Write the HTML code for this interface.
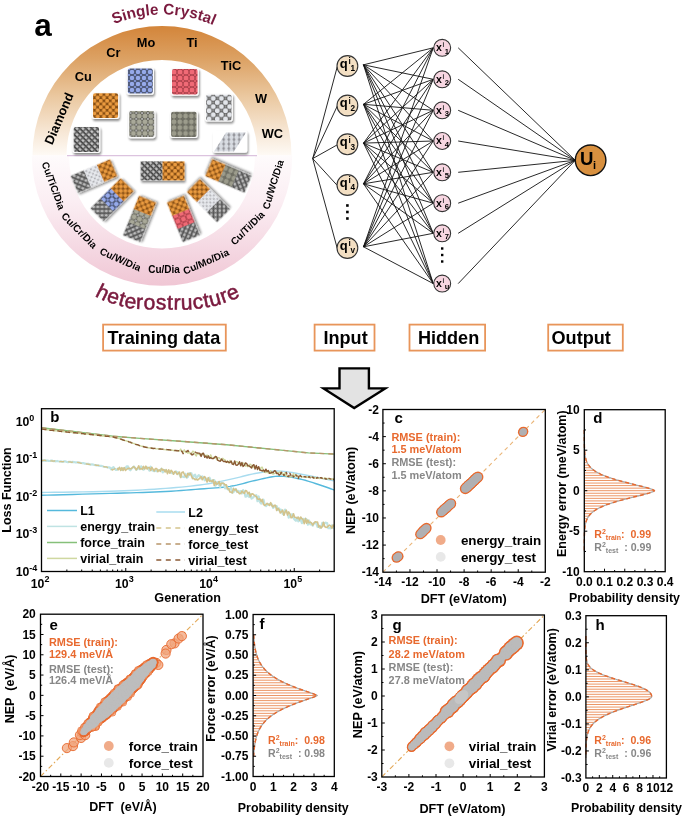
<!DOCTYPE html><html><head><meta charset="utf-8"><style>html,body{margin:0;padding:0;background:#fff;}svg{display:block;font-family:"Liberation Sans", sans-serif;filter:blur(0.35px);}</style></head><body>
<svg width="685" height="820" viewBox="0 0 685 820">
<rect width="685" height="820" fill="#fff"/>
<defs>
<linearGradient id="gup" gradientUnits="userSpaceOnUse" x1="0" y1="26" x2="0" y2="155.5"><stop offset="0" stop-color="#d3853a"/><stop offset="0.25" stop-color="#dca163"/><stop offset="0.55" stop-color="#ebc9a1"/><stop offset="0.8" stop-color="#f6e5d2"/><stop offset="1" stop-color="#fefaf5"/></linearGradient>
<linearGradient id="gdn" gradientUnits="userSpaceOnUse" x1="0" y1="155.5" x2="0" y2="286"><stop offset="0" stop-color="#fefbfc"/><stop offset="0.35" stop-color="#fbeef3"/><stop offset="0.7" stop-color="#f5d9e3"/><stop offset="1" stop-color="#f0c6d4"/></linearGradient>
<filter id="shd" x="-30%" y="-30%" width="160%" height="160%"><feGaussianBlur in="SourceAlpha" stdDeviation="1.2"/><feOffset dx="1" dy="1.5" result="b"/><feComponentTransfer><feFuncA type="linear" slope="0.45"/></feComponentTransfer><feMerge><feMergeNode/><feMergeNode in="SourceGraphic"/></feMerge></filter>
<filter id="blur05"><feGaussianBlur stdDeviation="0.35"/></filter>
<pattern id="p_cu" patternUnits="userSpaceOnUse" width="6.3" height="6.3">
<rect width="6.3" height="6.3" fill="#7a4410"/>
<circle cx="0" cy="0" r="2.0" fill="#eb9b3f"/>
<circle cx="6.3" cy="0" r="2.0" fill="#eb9b3f"/>
<circle cx="0" cy="6.3" r="2.0" fill="#eb9b3f"/>
<circle cx="6.3" cy="6.3" r="2.0" fill="#eb9b3f"/>
<circle cx="3.15" cy="3.15" r="2.0" fill="#eb9b3f"/>
<circle cx="3.15" cy="0" r="0.9" fill="#8a5010"/><circle cx="3.15" cy="6.3" r="0.9" fill="#8a5010"/><circle cx="0" cy="3.15" r="0.9" fill="#8a5010"/><circle cx="6.3" cy="3.15" r="0.9" fill="#8a5010"/>
</pattern>
<pattern id="p_mo" patternUnits="userSpaceOnUse" width="6.0" height="6.0">
<rect width="6.0" height="6.0" fill="#48526e"/>
<circle cx="0" cy="0" r="2.3" fill="#96aaea"/>
<circle cx="6.0" cy="0" r="2.3" fill="#96aaea"/>
<circle cx="0" cy="6.0" r="2.3" fill="#96aaea"/>
<circle cx="6.0" cy="6.0" r="2.3" fill="#96aaea"/>
<circle cx="3.0" cy="3.0" r="1.35" fill="#7d90d0"/>
</pattern>
<pattern id="p_ti" patternUnits="userSpaceOnUse" width="6.0" height="6.0">
<rect width="6.0" height="6.0" fill="#9a3640"/>
<circle cx="0" cy="0" r="2.5" fill="#f06a76"/>
<circle cx="6.0" cy="0" r="2.5" fill="#f06a76"/>
<circle cx="0" cy="6.0" r="2.5" fill="#f06a76"/>
<circle cx="6.0" cy="6.0" r="2.5" fill="#f06a76"/>
<circle cx="3.0" cy="3.0" r="1.45" fill="#dc5a66"/>
</pattern>
<pattern id="p_ol" patternUnits="userSpaceOnUse" width="5.8" height="5.8">
<rect width="5.8" height="5.8" fill="#4a4a44"/>
<circle cx="0" cy="0" r="2.6" fill="#a9a999"/>
<circle cx="5.8" cy="0" r="2.6" fill="#a9a999"/>
<circle cx="0" cy="5.8" r="2.6" fill="#a9a999"/>
<circle cx="5.8" cy="5.8" r="2.6" fill="#a9a999"/>
<circle cx="2.9" cy="2.9" r="0.9" fill="#d8d8d8"/>
</pattern>
<pattern id="p_w" patternUnits="userSpaceOnUse" width="5.8" height="5.8">
<rect width="5.8" height="5.8" fill="#5a5a50"/>
<circle cx="0" cy="0" r="2.55" fill="#9c9c8c"/>
<circle cx="5.8" cy="0" r="2.55" fill="#9c9c8c"/>
<circle cx="0" cy="5.8" r="2.55" fill="#9c9c8c"/>
<circle cx="5.8" cy="5.8" r="2.55" fill="#9c9c8c"/>
<circle cx="2.9" cy="2.9" r="1.1" fill="#707066"/>
</pattern>
<pattern id="p_tl" patternUnits="userSpaceOnUse" width="5.0" height="5.0">
<rect width="5.0" height="5.0" fill="#8e8e94"/>
<circle cx="0" cy="0" r="1.9" fill="#e6e8ec"/>
<circle cx="5.0" cy="0" r="1.9" fill="#e6e8ec"/>
<circle cx="0" cy="5.0" r="1.9" fill="#e6e8ec"/>
<circle cx="5.0" cy="5.0" r="1.9" fill="#e6e8ec"/>
<circle cx="2.5" cy="2.5" r="1.9" fill="#e6e8ec"/>
<circle cx="2.5" cy="0" r="0.7" fill="#b0b0b4"/><circle cx="2.5" cy="5.0" r="0.7" fill="#b0b0b4"/><circle cx="0" cy="2.5" r="0.7" fill="#b0b0b4"/><circle cx="5.0" cy="2.5" r="0.7" fill="#b0b0b4"/>
</pattern>
<pattern id="p_tic" patternUnits="userSpaceOnUse" width="8.2" height="8.2">
<rect width="8.2" height="8.2" fill="#5e5e5e"/>
<circle cx="0" cy="0" r="2.45" fill="#e2e5ea"/>
<circle cx="8.2" cy="0" r="2.45" fill="#e2e5ea"/>
<circle cx="0" cy="8.2" r="2.45" fill="#e2e5ea"/>
<circle cx="8.2" cy="8.2" r="2.45" fill="#e2e5ea"/>
<circle cx="4.1" cy="4.1" r="2.45" fill="#e2e5ea"/>
<circle cx="4.1" cy="0" r="0.8" fill="#9a9a9a"/><circle cx="4.1" cy="8.2" r="0.8" fill="#9a9a9a"/><circle cx="0" cy="4.1" r="0.8" fill="#9a9a9a"/><circle cx="8.2" cy="4.1" r="0.8" fill="#9a9a9a"/>
</pattern>
<pattern id="p_dia" patternUnits="userSpaceOnUse" width="4.2" height="4.2" patternTransform="rotate(45)"><rect width="4.2" height="4.2" fill="#a6a6a6"/><rect width="4.2" height="1.5" fill="#454545"/><rect width="1.1" height="4.2" fill="#5a5a5a"/><circle cx="2.6" cy="2.9" r="0.75" fill="#d8d8d8"/></pattern>
<pattern id="p_wc" patternUnits="userSpaceOnUse" width="5.2" height="4.5"><rect width="5.2" height="4.5" fill="#909096"/><circle cx="2.6" cy="2.25" r="2.3" fill="#d8dce2"/></pattern>
</defs>
<path d="M32.5,155.5 A129.5,129.5 0 0 1 291.5,155.5 L257.5,155.5 A95.5,95.5 0 0 0 66.5,155.5 Z" fill="url(#gup)"/>
<path d="M31.80000000000001,155.5 A130.2,130.2 0 0 0 292.2,155.5 L255.0,155.5 A93.0,93.0 0 0 1 69.0,155.5 Z" fill="url(#gdn)"/>
<line x1="67" y1="155.6" x2="257" y2="155.6" stroke="#dcc3df" stroke-width="1.4" />
<g filter="url(#shd)"><rect x="91.8" y="92.1" width="27.5" height="27" rx="2.8" fill="#fbfbfb"/></g>
<rect x="93" y="93.3" width="25.1" height="24.6" rx="1.9999999999999998" fill="url(#p_cu)"/>
<g filter="url(#shd)"><rect x="126.6" y="67.2" width="27.4" height="27.5" rx="2.8" fill="#fbfbfb"/></g>
<rect x="127.8" y="68.4" width="25" height="25.1" rx="1.9999999999999998" fill="url(#p_mo)"/>
<g filter="url(#shd)"><rect x="72.5" y="125.9" width="27.8" height="27.2" rx="2.8" fill="#fbfbfb"/></g>
<rect x="73.7" y="127.1" width="25.4" height="24.8" rx="1.9999999999999998" fill="url(#p_dia)"/>
<g filter="url(#shd)"><rect x="128" y="109.9" width="27.5" height="28.4" rx="2.8" fill="#fbfbfb"/></g>
<rect x="129.2" y="111.1" width="25.1" height="26" rx="1.9999999999999998" fill="url(#p_ol)"/>
<g filter="url(#shd)"><rect x="170.8" y="67.8" width="28" height="27.9" rx="2.8" fill="#fbfbfb"/></g>
<rect x="172" y="69" width="25.6" height="25.5" rx="1.9999999999999998" fill="url(#p_ti)"/>
<g filter="url(#shd)"><rect x="169.9" y="110.6" width="27.9" height="27.5" rx="2.8" fill="#fbfbfb"/></g>
<rect x="171.1" y="111.8" width="25.5" height="25.1" rx="1.9999999999999998" fill="url(#p_w)"/>
<g filter="url(#shd)"><rect x="204.9" y="93.5" width="28" height="28.1" rx="2.8" fill="#fbfbfb"/></g>
<rect x="206.1" y="94.7" width="25.6" height="25.7" rx="1.9999999999999998" fill="url(#p_tic)"/>
<g filter="url(#shd)"><rect x="212.8" y="130.6" width="34.5" height="22.2" rx="2.5" fill="#ffffff"/></g>
<path d="M226,132.5 L246,132.5 L234,151.5 L214,151.5 Z" fill="url(#p_wc)"/>
<g transform="translate(93.9 176.1) rotate(-23)" filter="url(#shd)">
<rect x="-21.25" y="-9.25" width="42.5" height="18.5" fill="#fafafa"/>
<rect x="-21.25" y="-9.25" width="14.37" height="18.5" fill="url(#p_dia)"/>
<rect x="-7.08" y="-9.25" width="14.37" height="18.5" fill="url(#p_tl)"/>
<rect x="7.08" y="-9.25" width="14.37" height="18.5" fill="url(#p_cu)"/>
</g>
<g transform="translate(112 199.8) rotate(-45)" filter="url(#shd)">
<rect x="-21.25" y="-9.25" width="42.5" height="18.5" fill="#fafafa"/>
<rect x="-21.25" y="-9.25" width="14.37" height="18.5" fill="url(#p_dia)"/>
<rect x="-7.08" y="-9.25" width="14.37" height="18.5" fill="url(#p_mo)"/>
<rect x="7.08" y="-9.25" width="14.37" height="18.5" fill="url(#p_cu)"/>
</g>
<g transform="translate(139.5 219) rotate(-68)" filter="url(#shd)">
<rect x="-21.25" y="-9.25" width="42.5" height="18.5" fill="#fafafa"/>
<rect x="-21.25" y="-9.25" width="14.37" height="18.5" fill="url(#p_dia)"/>
<rect x="-7.08" y="-9.25" width="14.37" height="18.5" fill="url(#p_ol)"/>
<rect x="7.08" y="-9.25" width="14.37" height="18.5" fill="url(#p_cu)"/>
</g>
<g transform="translate(162.5 170.9) rotate(0)" filter="url(#shd)">
<rect x="-21.8" y="-9.5" width="43.6" height="19" fill="#fafafa"/>
<rect x="-21.8" y="-9.5" width="22" height="19" fill="url(#p_dia)"/>
<rect x="0" y="-9.5" width="22" height="19" fill="url(#p_cu)"/>
</g>
<g transform="translate(183.4 219) rotate(-112)" filter="url(#shd)">
<rect x="-21.25" y="-9.25" width="42.5" height="18.5" fill="#fafafa"/>
<rect x="-21.25" y="-9.25" width="14.37" height="18.5" fill="url(#p_dia)"/>
<rect x="-7.08" y="-9.25" width="14.37" height="18.5" fill="url(#p_ti)"/>
<rect x="7.08" y="-9.25" width="14.37" height="18.5" fill="url(#p_cu)"/>
</g>
<g transform="translate(208.5 200.7) rotate(-135)" filter="url(#shd)">
<rect x="-21.25" y="-9.25" width="42.5" height="18.5" fill="#fafafa"/>
<rect x="-21.25" y="-9.25" width="14.37" height="18.5" fill="url(#p_dia)"/>
<rect x="-7.08" y="-9.25" width="14.37" height="18.5" fill="url(#p_tl)"/>
<rect x="7.08" y="-9.25" width="14.37" height="18.5" fill="url(#p_cu)"/>
</g>
<g transform="translate(228.5 176) rotate(-157)" filter="url(#shd)">
<rect x="-21.25" y="-9.25" width="42.5" height="18.5" fill="#fafafa"/>
<rect x="-21.25" y="-9.25" width="14.37" height="18.5" fill="url(#p_dia)"/>
<rect x="-7.08" y="-9.25" width="14.37" height="18.5" fill="url(#p_w)"/>
<rect x="7.08" y="-9.25" width="14.37" height="18.5" fill="url(#p_cu)"/>
</g>
<text x="83.4" y="80.88" font-size="12.8" font-weight="bold" text-anchor="middle" fill="#000" >Cu</text>
<text x="113.3" y="56.68" font-size="12.8" font-weight="bold" text-anchor="middle" fill="#000" >Cr</text>
<text x="146" y="47.48" font-size="12.8" font-weight="bold" text-anchor="middle" fill="#000" >Mo</text>
<text x="192" y="47.48" font-size="12.8" font-weight="bold" text-anchor="middle" fill="#000" >Ti</text>
<text x="231" y="69.98" font-size="12.8" font-weight="bold" text-anchor="middle" fill="#000" >TiC</text>
<text x="261" y="103.48" font-size="12.8" font-weight="bold" text-anchor="middle" fill="#000" >W</text>
<text x="272.3" y="138.48" font-size="12.8" font-weight="bold" text-anchor="middle" fill="#000" >WC</text>
<text transform="translate(59 118.5) rotate(-67)" font-size="12.8" font-weight="bold" text-anchor="middle" dy="4.4">Diamond</text>
<text transform="translate(53.4 185.6) rotate(70)" font-size="10" font-weight="bold" text-anchor="middle" dy="3.5">Cu/TiC/Dia</text>
<text transform="translate(79.3 230.5) rotate(45)" font-size="10" font-weight="bold" text-anchor="middle" dy="3.5">Cu/Cr/Dia</text>
<text transform="translate(120.4 259.5) rotate(24)" font-size="10" font-weight="bold" text-anchor="middle" dy="3.5">Cu/W/Dia</text>
<text transform="translate(164 269.5) rotate(0)" font-size="10" font-weight="bold" text-anchor="middle" dy="3.5">Cu/Dia</text>
<text transform="translate(206 261.6) rotate(-24)" font-size="10" font-weight="bold" text-anchor="middle" dy="3.5">Cu/Mo/Dia</text>
<text transform="translate(247.5 228) rotate(-45)" font-size="10" font-weight="bold" text-anchor="middle" dy="3.5">Cu/Ti/Dia</text>
<text transform="translate(273 184.5) rotate(-73)" font-size="10" font-weight="bold" text-anchor="middle" dy="3.5">Cu/WC/Dia</text>
<path id="arcTop" d="M37.0,140.0 A125.5,125.5 0 0 1 288.0,140.0" fill="none"/>
<text font-size="15.3" font-weight="bold" fill="#7a1a3e"><textPath href="#arcTop" startOffset="50.36%" text-anchor="middle">Single Crystal</textPath></text>
<path id="arcBot" d="M80.00,283.50 L80.47,283.92 L81.07,284.46 L81.77,285.09 L82.56,285.81 L83.41,286.57 L84.32,287.38 L85.25,288.19 L86.18,289.00 L87.11,289.78 L88.00,290.50 L88.88,291.20 L89.77,291.91 L90.69,292.62 L91.61,293.34 L92.55,294.05 L93.50,294.75 L94.46,295.43 L95.43,296.08 L96.41,296.71 L97.40,297.30 L98.37,297.85 L99.33,298.36 L100.27,298.83 L101.22,299.28 L102.19,299.72 L103.20,300.14 L104.24,300.57 L105.35,301.00 L106.53,301.44 L107.80,301.90 L109.20,302.39 L110.75,302.91 L112.41,303.45 L114.13,303.99 L115.88,304.53 L117.62,305.06 L119.32,305.56 L120.92,306.02 L122.39,306.44 L123.70,306.80 L124.81,307.10 L125.75,307.36 L126.56,307.58 L127.28,307.76 L127.96,307.91 L128.62,308.05 L129.32,308.16 L130.08,308.28 L130.97,308.38 L132.00,308.50 L133.19,308.61 L134.51,308.71 L135.92,308.80 L137.39,308.88 L138.91,308.94 L140.45,309.00 L141.97,309.06 L143.45,309.11 L144.87,309.15 L146.20,309.20 L147.43,309.24 L148.57,309.27 L149.65,309.30 L150.69,309.32 L151.72,309.33 L152.77,309.34 L153.84,309.36 L154.97,309.37 L156.18,309.38 L157.50,309.40 L158.95,309.42 L160.54,309.44 L162.22,309.47 L163.96,309.49 L165.72,309.51 L167.48,309.53 L169.19,309.55 L170.82,309.57 L172.34,309.59 L173.70,309.60 L174.89,309.61 L175.92,309.63 L176.84,309.64 L177.67,309.65 L178.46,309.66 L179.24,309.67 L180.05,309.67 L180.92,309.65 L181.89,309.63 L183.00,309.60 L184.23,309.56 L185.53,309.52 L186.90,309.47 L188.33,309.42 L189.80,309.36 L191.30,309.28 L192.82,309.19 L194.36,309.08 L195.88,308.95 L197.40,308.80 L198.95,308.62 L200.56,308.41 L202.22,308.18 L203.89,307.93 L205.57,307.67 L207.22,307.40 L208.82,307.12 L210.35,306.84 L211.78,306.57 L213.10,306.30 L214.27,306.05 L215.31,305.80 L216.25,305.57 L217.11,305.33 L217.92,305.09 L218.73,304.83 L219.55,304.56 L220.41,304.27 L221.35,303.95 L222.40,303.60 L223.56,303.21 L224.82,302.79 L226.14,302.34 L227.50,301.86 L228.89,301.38 L230.27,300.88 L231.63,300.37 L232.93,299.87 L234.16,299.38 L235.30,298.90 L236.34,298.43 L237.32,297.97 L238.24,297.51 L239.12,297.04 L239.96,296.58 L240.77,296.12 L241.57,295.65 L242.37,295.17 L243.18,294.69 L244.00,294.20 L244.86,293.68 L245.77,293.11 L246.70,292.51 L247.63,291.91 L248.54,291.31 L249.41,290.73 L250.21,290.19 L250.92,289.72 L251.53,289.31 L252.00,289.00" fill="none"/>
<text font-size="21" fill="#7a1a3e" stroke="#7a1a3e" stroke-width="0.55" style="letter-spacing:0.644px"><textPath href="#arcBot" startOffset="19.17">heterostructure</textPath></text>
<text x="34.2" y="36" font-size="31.5" font-weight="bold" text-anchor="start" fill="#000" >a</text>
<g stroke="#111" stroke-width="0.9" fill="none">
<line x1="312.7" y1="158.6" x2="337.3" y2="66.5"/>
<line x1="312.7" y1="158.6" x2="337.3" y2="106"/>
<line x1="312.7" y1="158.6" x2="337.3" y2="144.8"/>
<line x1="312.7" y1="158.6" x2="337.3" y2="185.5"/>
<line x1="312.7" y1="158.6" x2="337.3" y2="248.5"/>
<line x1="363.5" y1="64.8" x2="433.25" y2="47.8"/>
<line x1="363.5" y1="64.8" x2="433.25" y2="79.3"/>
<line x1="363.5" y1="64.8" x2="433.25" y2="110.3"/>
<line x1="363.5" y1="64.8" x2="433.25" y2="141"/>
<line x1="363.5" y1="64.8" x2="433.25" y2="172.3"/>
<line x1="363.5" y1="64.8" x2="433.25" y2="203.2"/>
<line x1="363.5" y1="64.8" x2="433.25" y2="233.3"/>
<line x1="363.5" y1="64.8" x2="433.25" y2="283.6"/>
<line x1="363.5" y1="104.3" x2="433.25" y2="47.8"/>
<line x1="363.5" y1="104.3" x2="433.25" y2="79.3"/>
<line x1="363.5" y1="104.3" x2="433.25" y2="110.3"/>
<line x1="363.5" y1="104.3" x2="433.25" y2="141"/>
<line x1="363.5" y1="104.3" x2="433.25" y2="172.3"/>
<line x1="363.5" y1="104.3" x2="433.25" y2="203.2"/>
<line x1="363.5" y1="104.3" x2="433.25" y2="233.3"/>
<line x1="363.5" y1="104.3" x2="433.25" y2="283.6"/>
<line x1="363.5" y1="143.1" x2="433.25" y2="47.8"/>
<line x1="363.5" y1="143.1" x2="433.25" y2="79.3"/>
<line x1="363.5" y1="143.1" x2="433.25" y2="110.3"/>
<line x1="363.5" y1="143.1" x2="433.25" y2="141"/>
<line x1="363.5" y1="143.1" x2="433.25" y2="172.3"/>
<line x1="363.5" y1="143.1" x2="433.25" y2="203.2"/>
<line x1="363.5" y1="143.1" x2="433.25" y2="233.3"/>
<line x1="363.5" y1="143.1" x2="433.25" y2="283.6"/>
<line x1="363.5" y1="183.8" x2="433.25" y2="47.8"/>
<line x1="363.5" y1="183.8" x2="433.25" y2="79.3"/>
<line x1="363.5" y1="183.8" x2="433.25" y2="110.3"/>
<line x1="363.5" y1="183.8" x2="433.25" y2="141"/>
<line x1="363.5" y1="183.8" x2="433.25" y2="172.3"/>
<line x1="363.5" y1="183.8" x2="433.25" y2="203.2"/>
<line x1="363.5" y1="183.8" x2="433.25" y2="233.3"/>
<line x1="363.5" y1="183.8" x2="433.25" y2="283.6"/>
<line x1="363.5" y1="246.8" x2="433.25" y2="47.8"/>
<line x1="363.5" y1="246.8" x2="433.25" y2="79.3"/>
<line x1="363.5" y1="246.8" x2="433.25" y2="110.3"/>
<line x1="363.5" y1="246.8" x2="433.25" y2="141"/>
<line x1="363.5" y1="246.8" x2="433.25" y2="172.3"/>
<line x1="363.5" y1="246.8" x2="433.25" y2="203.2"/>
<line x1="363.5" y1="246.8" x2="433.25" y2="233.3"/>
<line x1="363.5" y1="246.8" x2="433.25" y2="283.6"/>
<line x1="458.2" y1="47.8" x2="575.3" y2="160.3"/>
<line x1="458.2" y1="79.3" x2="575.3" y2="160.3"/>
<line x1="458.2" y1="110.3" x2="575.3" y2="160.3"/>
<line x1="458.2" y1="141" x2="575.3" y2="160.3"/>
<line x1="458.2" y1="172.3" x2="575.3" y2="160.3"/>
<line x1="458.2" y1="203.2" x2="575.3" y2="160.3"/>
<line x1="458.2" y1="233.3" x2="575.3" y2="160.3"/>
<line x1="458.2" y1="283.6" x2="575.3" y2="160.3"/>
</g>
<circle cx="347.4" cy="66.0" r="10.4" fill="#f3dfc3" stroke="#333" stroke-width="1.1"/>
<text x="339.8" y="67.6" font-size="13" font-weight="bold">q</text>
<text x="348.6" y="64.4" font-size="8.2" font-weight="bold">i</text>
<text x="350.4" y="71.4" font-size="8.2" font-weight="bold">1</text>
<circle cx="347.4" cy="105.5" r="10.4" fill="#f3dfc3" stroke="#333" stroke-width="1.1"/>
<text x="339.8" y="107.1" font-size="13" font-weight="bold">q</text>
<text x="348.6" y="103.9" font-size="8.2" font-weight="bold">i</text>
<text x="350.4" y="110.9" font-size="8.2" font-weight="bold">2</text>
<circle cx="347.4" cy="144.3" r="10.4" fill="#f3dfc3" stroke="#333" stroke-width="1.1"/>
<text x="339.8" y="145.9" font-size="13" font-weight="bold">q</text>
<text x="348.6" y="142.7" font-size="8.2" font-weight="bold">i</text>
<text x="350.4" y="149.7" font-size="8.2" font-weight="bold">3</text>
<circle cx="347.4" cy="185.0" r="10.4" fill="#f3dfc3" stroke="#333" stroke-width="1.1"/>
<text x="339.8" y="186.6" font-size="13" font-weight="bold">q</text>
<text x="348.6" y="183.4" font-size="8.2" font-weight="bold">i</text>
<text x="350.4" y="190.4" font-size="8.2" font-weight="bold">4</text>
<circle cx="347.4" cy="248.0" r="10.4" fill="#f3dfc3" stroke="#333" stroke-width="1.1"/>
<text x="339.8" y="249.6" font-size="13" font-weight="bold">q</text>
<text x="348.6" y="246.4" font-size="8.2" font-weight="bold">i</text>
<text x="350.4" y="253.4" font-size="8.2" font-weight="bold">v</text>
<circle cx="442.2" cy="47.8" r="8.45" fill="#f7d6e1" stroke="#333" stroke-width="1.1"/>
<text x="435.9" y="51.1" font-size="10.5" font-weight="bold">x</text>
<text x="442.4" y="47.1" font-size="6.5" font-weight="bold" fill="#333">i</text>
<text x="444.7" y="53.6" font-size="7.6" font-weight="bold">1</text>
<circle cx="442.2" cy="79.3" r="8.45" fill="#f7d6e1" stroke="#333" stroke-width="1.1"/>
<text x="435.9" y="82.6" font-size="10.5" font-weight="bold">x</text>
<text x="442.4" y="78.6" font-size="6.5" font-weight="bold" fill="#333">i</text>
<text x="444.7" y="85.1" font-size="7.6" font-weight="bold">2</text>
<circle cx="442.2" cy="110.3" r="8.45" fill="#f7d6e1" stroke="#333" stroke-width="1.1"/>
<text x="435.9" y="113.6" font-size="10.5" font-weight="bold">x</text>
<text x="442.4" y="109.6" font-size="6.5" font-weight="bold" fill="#333">i</text>
<text x="444.7" y="116.1" font-size="7.6" font-weight="bold">3</text>
<circle cx="442.2" cy="141.0" r="8.45" fill="#f7d6e1" stroke="#333" stroke-width="1.1"/>
<text x="435.9" y="144.3" font-size="10.5" font-weight="bold">x</text>
<text x="442.4" y="140.3" font-size="6.5" font-weight="bold" fill="#333">i</text>
<text x="444.7" y="146.8" font-size="7.6" font-weight="bold">4</text>
<circle cx="442.2" cy="172.3" r="8.45" fill="#f7d6e1" stroke="#333" stroke-width="1.1"/>
<text x="435.9" y="175.6" font-size="10.5" font-weight="bold">x</text>
<text x="442.4" y="171.6" font-size="6.5" font-weight="bold" fill="#333">i</text>
<text x="444.7" y="178.1" font-size="7.6" font-weight="bold">5</text>
<circle cx="442.2" cy="203.2" r="8.45" fill="#f7d6e1" stroke="#333" stroke-width="1.1"/>
<text x="435.9" y="206.5" font-size="10.5" font-weight="bold">x</text>
<text x="442.4" y="202.5" font-size="6.5" font-weight="bold" fill="#333">i</text>
<text x="444.7" y="209" font-size="7.6" font-weight="bold">6</text>
<circle cx="442.2" cy="233.3" r="8.45" fill="#f7d6e1" stroke="#333" stroke-width="1.1"/>
<text x="435.9" y="236.6" font-size="10.5" font-weight="bold">x</text>
<text x="442.4" y="232.6" font-size="6.5" font-weight="bold" fill="#333">i</text>
<text x="444.7" y="239.1" font-size="7.6" font-weight="bold">7</text>
<circle cx="442.2" cy="283.6" r="8.45" fill="#f7d6e1" stroke="#333" stroke-width="1.1"/>
<text x="435.9" y="286.9" font-size="10.5" font-weight="bold">x</text>
<text x="442.4" y="282.9" font-size="6.5" font-weight="bold" fill="#333">i</text>
<text x="444.7" y="289.4" font-size="7.6" font-weight="bold">u</text>
<rect x="346.1" y="204.2" width="2.6" height="2.6" fill="#000"/>
<rect x="346.1" y="210.7" width="2.6" height="2.6" fill="#000"/>
<rect x="346.1" y="217.2" width="2.6" height="2.6" fill="#000"/>
<rect x="441" y="247.3" width="2.4" height="2.4" fill="#000"/>
<rect x="441" y="253.8" width="2.4" height="2.4" fill="#000"/>
<rect x="441" y="260.3" width="2.4" height="2.4" fill="#000"/>
<circle cx="590.6" cy="160.3" r="15.3" fill="#d8903f" stroke="#111" stroke-width="1.4"/>
<text x="580.1" y="165.4" font-size="18.6" font-weight="bold">U</text>
<text x="593.1" y="169.3" font-size="11" font-weight="bold">i</text>
<rect x="103.1" y="324.6" width="122.7" height="26" fill="#fff" stroke="#e8955a" stroke-width="1.8"/>
<text x="163.9" y="343.53" font-size="18.1" font-weight="bold" text-anchor="middle" fill="#000" >Training data</text>
<rect x="314.6" y="324.6" width="59.9" height="26" fill="#fff" stroke="#e8955a" stroke-width="1.8"/>
<text x="345.6" y="343.53" font-size="18.1" font-weight="bold" text-anchor="middle" fill="#000" >Input</text>
<rect x="409.5" y="324.6" width="75.6" height="26" fill="#fff" stroke="#e8955a" stroke-width="1.8"/>
<text x="448.6" y="343.53" font-size="18.1" font-weight="bold" text-anchor="middle" fill="#000" >Hidden</text>
<rect x="548.2" y="324.6" width="74.6" height="26" fill="#fff" stroke="#e8955a" stroke-width="1.8"/>
<text x="581.2" y="343.53" font-size="18.1" font-weight="bold" text-anchor="middle" fill="#000" >Output</text>
<path d="M339.5,368.4 L368.9,368.4 L368.9,388.4 L385.2,388.4 L354.2,408.0 L323.6,388.4 L339.5,388.4 Z" fill="#e3e3e3" stroke="#000" stroke-width="2.4" stroke-linejoin="miter"/>
<g>
<clipPath id="clipb"><rect x="41.5" y="408.7" width="292.7" height="162.8"/></clipPath>
<g clip-path="url(#clipb)">
<polyline points="41.5,492.5 46.91,492.42 54.24,492.31 62.98,492.2 72.62,492.06 82.66,491.9 92.57,491.72 101.85,491.52 110,491.3 117.2,491.06 124.04,490.8 130.54,490.51 136.78,490.21 142.8,489.89 148.64,489.55 154.35,489.18 160,488.8 165.55,488.4 170.94,487.98 176.17,487.55 181.25,487.09 186.17,486.61 190.94,486.11 195.55,485.57 200,485 204.26,484.39 208.32,483.73 212.2,483.05 215.94,482.33 219.56,481.6 223.09,480.86 226.56,480.13 230,479.4 233.38,478.65 236.65,477.87 239.83,477.06 242.94,476.26 245.99,475.48 249.01,474.74 252,474.08 255,473.5 257.98,472.99 260.91,472.51 263.82,472.07 266.69,471.69 269.54,471.39 272.37,471.16 275.19,471.03 278,471 280.81,471.1 283.62,471.34 286.41,471.68 289.19,472.09 291.94,472.56 294.66,473.05 297.35,473.54 300,474 302.63,474.46 305.26,474.95 307.87,475.47 310.44,476 312.95,476.53 315.4,477.05 317.75,477.54 320,478 322.22,478.44 324.45,478.89 326.65,479.33 328.75,479.75 330.69,480.14 332.42,480.48 333.88,480.78 335,481" fill="none" stroke="#a9dcef" stroke-width="1.4" stroke-linejoin="round" />
<polyline points="41.5,495.3 46.91,495.15 54.24,494.95 62.98,494.71 72.62,494.45 82.66,494.17 92.57,493.9 101.85,493.64 110,493.4 117.2,493.19 124.04,493.01 130.54,492.83 136.78,492.66 142.8,492.47 148.64,492.28 154.35,492.06 160,491.8 165.55,491.51 170.94,491.18 176.17,490.83 181.25,490.46 186.17,490.09 190.94,489.71 195.55,489.35 200,489 204.26,488.69 208.32,488.41 212.2,488.16 215.94,487.89 219.56,487.61 223.09,487.28 226.56,486.88 230,486.4 233.38,485.81 236.65,485.12 239.83,484.36 242.94,483.56 245.99,482.74 249.01,481.94 252,481.18 255,480.5 257.98,479.84 260.91,479.15 263.82,478.46 266.69,477.81 269.54,477.22 272.37,476.74 275.19,476.39 278,476.2 280.81,476.19 283.62,476.33 286.41,476.59 289.19,476.96 291.94,477.4 294.66,477.91 297.35,478.45 300,479 302.63,479.6 305.26,480.29 307.87,481.05 310.44,481.84 312.95,482.66 315.4,483.47 317.75,484.26 320,485 322.22,485.73 324.45,486.5 326.65,487.27 328.75,488.02 330.69,488.73 332.42,489.36 333.88,489.9 335,490.3" fill="none" stroke="#55b9dc" stroke-width="1.4" stroke-linejoin="round" />
<polyline points="41.5,460.08 42.7,460.58 43.9,460.6 45.1,460.37 46.3,460.59 47.5,460.63 48.7,460.82 49.9,460.98 51.1,460.63 52.3,460.67 53.5,461.22 54.7,461.05 55.9,461.32 57.1,460.94 58.3,461.28 59.5,461.51 60.7,461.29 61.9,461.79 63.1,461.84 64.3,461.39 65.5,461.46 66.7,461.84 67.9,462.15 69.1,461.88 70.3,461.86 71.5,462.05 72.7,461.89 73.9,462.08 75.1,462.28 76.3,462.39 77.5,462.38 78.7,462.54 79.9,462.7 81.1,463.01 82.3,463.07 83.5,463.07 84.7,463.73 85.9,463.72 87.1,463.94 88.3,463.83 89.5,464.48 90.7,464.56 91.9,464.28 93.1,464.57 94.3,464.97 95.5,465.13 96.7,465.43 97.9,465.28 99.1,465.74 100.3,465.89 101.5,465.92 102.7,466.33 103.9,466.75 105.1,466.98 106.3,467.02 107.5,467.31 108.7,467.23 109.9,467.6 111.1,469.31 112.3,467.87 113.5,467.05 114.7,468.95 115.9,469.87 117.1,469.7 118.3,468.32 119.5,468.53 120.7,468.77 121.9,469.88 123.1,468.68 124.3,468.05 125.5,468.41 126.7,466.31 127.9,466.3 129.1,469.14 130.3,470.3 131.5,468.52 132.7,467.57 133.9,466.52 135.1,467.91 136.3,469.95 137.5,468.95 138.7,467.86 139.9,469.21 141.1,466.37 142.3,467.61 143.5,469.72 144.7,468.26 145.9,467.93 147.1,467.28 148.3,468.69 149.5,470.68 150.7,466.68 151.9,470.29 153.1,470.63 154.3,471.11 155.5,470.66 156.7,471.14 157.9,470.05 159.1,470.43 160.3,470.02 161.5,468.58 162.7,472.35 163.9,471.27 165.1,469.89 166.3,471.47 167.5,471.62 168.7,471.3 169.9,471.5 171.1,472.59 172.3,473.21 173.5,473.4 174.7,472.96 175.9,471.31 177.1,472.44 178.3,472.46 179.5,474.49 180.7,476.67 181.9,476.51 183.1,476.75 184.3,477.11 185.5,473.77 186.7,477.76 187.9,476.93 189.1,473.39 190.3,473.2 191.5,473.41 192.7,478.39 193.9,475.38 195.1,474.72 196.3,478.25 197.5,476.68 198.7,475.16 199.9,475.97 201.1,478.55 202.3,476.48 203.5,477.39 204.7,480.43 205.9,479.01 207.1,478.55 208.3,480.01 209.5,477.61 210.7,480.42 211.9,481.13 213.1,480.13 214.3,480.11 215.5,485.66 216.7,483.65 217.9,482.22 219.1,485.24 220.3,487.08 221.5,482.48 222.7,482.94 223.9,484.26 225.1,488.41 226.3,485.32 227.5,489.29 228.7,489.61 229.9,489.25 231.1,487.54 232.3,492.73 233.5,491.96 234.7,490.52 235.9,489 237.1,492.08 238.3,490.82 239.5,492.34 240.7,491.07 241.9,493.41 243.1,490.11 244.3,492 245.5,496.64 246.7,496.41 247.9,493.13 249.1,497.02 250.3,493.94 251.5,498.57 252.7,497.93 253.9,496.45 255.1,496.01 256.3,495.06 257.5,501.24 258.7,496.47 259.9,502.08 261.1,503.6 262.3,501.7 263.5,499.76 264.7,504.83 265.9,506.12 267.1,505 268.3,504.36 269.5,504.14 270.7,504.55 271.9,504.25 273.1,507.86 274.3,506.92 275.5,505.98 276.7,506 277.9,510.19 279.1,508.42 280.3,510.32 281.5,509.8 282.7,513.89 283.9,514.66 285.1,509.62 286.3,511.38 287.5,512.79 288.7,517.6 289.9,516.89 291.1,514.64 292.3,514.43 293.5,517.98 294.7,519.62 295.9,520.82 297.1,517.6 298.3,521.42 299.5,520.55 300.7,519.63 301.9,523.22 303.1,518.79 304.3,522.31 305.5,518.59 306.7,519.51 307.9,524.63 309.1,520.54 310.3,524.42 311.5,523.78 312.7,525.7 313.9,523.05 315.1,523.25 316.3,523.16 317.5,526.99 318.7,525.44 319.9,527.83 321.1,527.54 322.3,522.87 323.5,525.67 324.7,522.95 325.9,522.68 327.1,523.04 328.3,528.25 329.5,527.9 330.7,528.3 331.9,525.32 333.1,527.21 334.3,528.42" fill="none" stroke="#bfe3e3" stroke-width="2.2" stroke-linejoin="round" />
<polyline points="41.5,460.57 42.7,460.64 43.9,460.18 45.1,460.27 46.3,460.79 47.5,460.8 48.7,460.83 49.9,460.69 51.1,460.94 52.3,461.01 53.5,461.07 54.7,460.89 55.9,461.12 57.1,461.17 58.3,461.44 59.5,461.68 60.7,461.72 61.9,461.55 63.1,461.56 64.3,461.53 65.5,461.46 66.7,461.53 67.9,461.86 69.1,461.85 70.3,461.96 71.5,462.34 72.7,462.19 73.9,462.28 75.1,462.16 76.3,462.1 77.5,462.43 78.7,462.48 79.9,462.87 81.1,463.33 82.3,463.3 83.5,463.17 84.7,463.76 85.9,463.87 87.1,463.99 88.3,464.26 89.5,464.34 90.7,464.52 91.9,464.42 93.1,464.96 94.3,465.12 95.5,464.8 96.7,465.32 97.9,465.46 99.1,465.52 100.3,465.81 101.5,466.03 102.7,466.53 103.9,466.53 105.1,466.97 106.3,466.93 107.5,467.49 108.7,467.75 109.9,467.73 111.1,468.3 112.3,470.09 113.5,469.47 114.7,468.68 115.9,467.76 117.1,468.17" fill="none" stroke="#d3c38c" stroke-width="1.3" stroke-linejoin="round" stroke-dasharray="5 4"/>
<polyline points="117.1,468.17 118.3,469.75 119.5,467.33 120.7,470.52 121.9,467.64 123.1,470.4 124.3,467.68 125.5,470.46 126.7,469.29 127.9,468.33 129.1,468.32 130.3,468.84 131.5,468.49 132.7,467.21 133.9,466.68 135.1,467.95 136.3,469.74 137.5,468.3 138.7,465.82 139.9,469.03 141.1,468.55 142.3,469.34 143.5,466.38 144.7,469 145.9,466.16 147.1,468.97 148.3,467.48 149.5,467.46 150.7,470.5 151.9,467.31 153.1,469.32 154.3,470.97 155.5,468.47 156.7,468.51 157.9,471.64 159.1,469.82 160.3,471.3 161.5,468.47 162.7,470.11 163.9,469.52 165.1,471.97 166.3,469.61 167.5,473.69 168.7,469.85 169.9,473.19 171.1,470.31 172.3,471.59 173.5,474.28 174.7,471.64 175.9,472 177.1,474.48 178.3,473.37 179.5,472.11 180.7,477.5 181.9,472.37 183.1,471.88 184.3,474.09 185.5,476.07 186.7,477.13 187.9,473.34 189.1,475.02 190.3,473.29 191.5,476.19 192.7,478.46 193.9,478.52 195.1,479.79 196.3,479.09 197.5,480 198.7,479.23 199.9,477.97 201.1,476.62 202.3,479.64 203.5,477.66 204.7,476.52 205.9,478.97 207.1,482.08 208.3,477.79 209.5,481.2 210.7,480.46 211.9,481.73 213.1,479.85 214.3,485.56 215.5,481.56 216.7,484.27 217.9,483.56 219.1,481.48 220.3,485.43 221.5,483.24 222.7,483.19 223.9,483.53 225.1,484.84 226.3,484.91 227.5,488.85 228.7,488.52 229.9,492.05 231.1,492.11 232.3,492.85 233.5,488.34 234.7,490.06 235.9,489.17 237.1,491.71 238.3,492.28 239.5,493.77 240.7,493.55 241.9,491.01 243.1,492.44 244.3,493.46 245.5,490.48 246.7,491.04 247.9,493.79 249.1,492.24 250.3,496.58 251.5,494.1 252.7,493.81 253.9,494.95 255.1,495.88 256.3,496.39 257.5,498.95 258.7,499.2 259.9,498.82 261.1,501.55 262.3,499.41 263.5,504.47 264.7,505.44 265.9,504.55 267.1,503.27 268.3,504.38 269.5,505.44 270.7,502.65 271.9,505.61 273.1,506.91 274.3,505.31 275.5,505.34 276.7,510.47 277.9,508.27 279.1,509.85 280.3,513.02 281.5,511.62 282.7,510.16 283.9,515.2 285.1,511.88 286.3,510.22 287.5,515.08 288.7,511.93 289.9,513.84 291.1,517.85 292.3,517.37 293.5,513.76 294.7,517.15 295.9,517.48 297.1,518.5 298.3,517.11 299.5,519.92 300.7,517 301.9,518.73 303.1,519.67 304.3,523.65 305.5,518.53 306.7,523.26 307.9,520.03 309.1,522.84 310.3,522.07 311.5,522.9 312.7,525.14 313.9,523.22 315.1,521.85 316.3,522.07 317.5,521.95 318.7,527.02 319.9,525.82 321.1,528 322.3,526.44 323.5,522.3 324.7,526.5 325.9,527.4 327.1,527.2 328.3,525.9 329.5,525.14 330.7,525.92 331.9,528.25 333.1,525 334.3,526.79" fill="none" stroke="#d3c38c" stroke-width="1.6" stroke-linejoin="round" />
<polyline points="41.5,427.8 113,436.2 140,438.4 180,441.2 226.7,444.7 273.4,449.4 308.5,452.9 335,454.1" fill="none" stroke="#86c07a" stroke-width="1.4" stroke-linejoin="round" />
<polyline points="41.5,427.8 113,436.2 140,438.4 180,441.2 226.7,444.7 273.4,449.4 308.5,452.9 335,454.1" fill="none" stroke="#b8956a" stroke-width="1.4" stroke-linejoin="round" stroke-dasharray="5 4"/>
<polyline points="41.5,429.1 42.7,429.35 43.9,429.41 45.1,429.63 46.3,429.77 47.5,429.67 48.7,429.78 49.9,430.24 51.1,430.14 52.3,430.26 53.5,430.69 54.7,430.61 55.9,430.89 57.1,430.87 58.3,431.06 59.5,431 60.7,431.32 61.9,431.54 63.1,431.54 64.3,431.75 65.5,431.85 66.7,431.74 67.9,432.15 69.1,432.21 70.3,432.22 71.5,432.24 72.7,432.71 73.9,432.68 75.1,432.91 76.3,433.1 77.5,433.16 78.7,433.37 79.9,433.29 81.1,433.58 82.3,433.57 83.5,433.9 84.7,434 85.9,433.82 87.1,433.97 88.3,434.13 89.5,434.56 90.7,434.47 91.9,434.68 93.1,434.68 94.3,434.89 95.5,434.97 96.7,435.08 97.9,435.31 99.1,435.44 100.3,435.69 101.5,435.73 102.7,435.96 103.9,436.06 105.1,436.25 106.3,436.25 107.5,436.17 108.7,436.58 109.9,436.75 111.1,436.86 112.3,436.85 113.5,437.14 114.7,437.29 115.9,437.9 117.1,438.16 118.3,438.4 119.5,438.68 120.7,439.35 121.9,439.77 123.1,439.77 124.3,440.41 125.5,440.64 126.7,440.95 127.9,441.42 129.1,442.03 130.3,442.49 131.5,442.57 132.7,443.22 133.9,443.4 135.1,444.09 136.3,444.35 137.5,444.99 138.7,445.44 139.9,445.67 141.1,446.18 142.3,446.22 143.5,446.44 144.7,446.96 145.9,447.04 147.1,447.42 148.3,447.81 149.5,448.04 150.7,447.98 151.9,448.05 153.1,448.5 154.3,448.4 155.5,448.77 156.7,448.87 157.9,448.78 159.1,448.93 160.3,449.07 161.5,449.24 162.7,449.34 163.9,449.44 165.1,449.58 166.3,449.83 167.5,449.77 168.7,449.86 169.9,450.09 171.1,450.02 172.3,450.16 173.5,450.55 174.7,450.49 175.9,450.62 177.1,450.52 178.3,450.8 179.5,450.98 180.7,449.02 181.9,451.85 183.1,452.15 184.3,449.85 185.5,452.56 186.7,452.07 187.9,453.23 189.1,452.01 190.3,453.78 191.5,454.14 192.7,451.21 193.9,451.59 195.1,454.52 196.3,456 197.5,453.09 198.7,454.21 199.9,455.03 201.1,454.04 202.3,454.46 203.5,454.45 204.7,454.92 205.9,456.13 207.1,455.1 208.3,455.75 209.5,457.8 210.7,454.83 211.9,457.53 213.1,458.57 214.3,457.01 215.5,456.93 216.7,459.8 217.9,457.62 219.1,457.71 220.3,459.11 221.5,460.57 222.7,458.26 223.9,459.54 225.1,459.9 226.3,462.41 227.5,460.98 228.7,463.13 229.9,460.42 231.1,461.39 232.3,463 233.5,464.26 234.7,462.58 235.9,461.81 237.1,461.58 238.3,463.61 239.5,462.34 240.7,465.28 241.9,465.65 243.1,463 244.3,463.64 245.5,466.2 246.7,465.7 247.9,466.65 249.1,464.85 250.3,464.16 251.5,465.23 252.7,467.8 253.9,465.86 255.1,466.55 256.3,467.22 257.5,467.59 258.7,467.9 259.9,470.51 261.1,467.51 262.3,467.2 263.5,471.69 264.7,471.77 265.9,472.6 267.1,470.53 268.3,473.16 269.5,473.41 270.7,470.67 271.9,473.33 273.1,474.09 274.3,473.55 275.5,473.1 276.7,472.27 277.9,472.67 279.1,472.35 280.3,471.83 281.5,474.3 282.7,473.15 283.9,475.64 285.1,472.45 286.3,476.41 287.5,475.66 288.7,476.85 289.9,476.91 291.1,477.11 292.3,475.87 293.5,473.56 294.7,476.97 295.9,474.62 297.1,475.34 298.3,477.04 299.5,476.53 300.7,476.41 301.9,477.14 303.1,476.85 304.3,476.62 305.5,476.61 306.7,477.44 307.9,477.07 309.1,477.54 310.3,477.12 311.5,477.03 312.7,477.53 313.9,477.97 315.1,477.29 316.3,478.13 317.5,478.39 318.7,478.34 319.9,478.46 321.1,477.58 322.3,478.42 323.5,478.8 324.7,477.92 325.9,478.29 327.1,478.38 328.3,478.79 329.5,478.76 330.7,478.92 331.9,479.38 333.1,478.55 334.3,478.71" fill="none" stroke="#cfd8a0" stroke-width="1.4" stroke-linejoin="round" />
<polyline points="41.5,429.09 42.7,429.17 43.9,429.42 45.1,429.45 46.3,429.54 47.5,429.81 48.7,430.14 49.9,430.22 51.1,430.34 52.3,430.25 53.5,430.51 54.7,430.53 55.9,430.62 57.1,430.72 58.3,430.89 59.5,431.31 60.7,431.4 61.9,431.52 63.1,431.65 64.3,431.53 65.5,431.71 66.7,431.96 67.9,432.14 69.1,432.31 70.3,432.45 71.5,432.27 72.7,432.6 73.9,432.76 75.1,432.82 76.3,432.82 77.5,433.07 78.7,433.04 79.9,433.51 81.1,433.61 82.3,433.61 83.5,433.64 84.7,434.02 85.9,434.01 87.1,434.26 88.3,434.38 89.5,434.37 90.7,434.46 91.9,434.67 93.1,434.73 94.3,434.75 95.5,434.94 96.7,435.27 97.9,435.09 99.1,435.22 100.3,435.58 101.5,435.57 102.7,435.8 103.9,435.91 105.1,435.99 106.3,436.38 107.5,436.19 108.7,436.4 109.9,436.45 111.1,436.75 112.3,436.74 113.5,436.99 114.7,437.51 115.9,437.7 117.1,438.15 118.3,438.65 119.5,438.69 120.7,439.03 121.9,439.46 123.1,440.04 124.3,440.34 125.5,440.57 126.7,441.02 127.9,441.38 129.1,441.9 130.3,442.15 131.5,442.83 132.7,443.33 133.9,443.77 135.1,444.1 136.3,444.6 137.5,444.64 138.7,445.16 139.9,445.85 141.1,446.09 142.3,446.26 143.5,446.78 144.7,446.96 145.9,447.35 147.1,447.46 148.3,447.72 149.5,447.98 150.7,447.97 151.9,448.19 153.1,448.54 154.3,448.4 155.5,448.39 156.7,448.52 157.9,448.69 159.1,449.06 160.3,449.01 161.5,449.1 162.7,449.14 163.9,449.61 165.1,449.5 166.3,449.53 167.5,449.59 168.7,449.71 169.9,449.87 171.1,450.19 172.3,450.1 173.5,450.18 174.7,450.47 175.9,450.5 177.1,450.91 178.3,450.68 179.5,450.96 180.7,452.33 181.9,450.95 183.1,453.71 184.3,451.68 185.5,450.86 186.7,451.82 187.9,450.4 189.1,452.31 190.3,451.77 191.5,454.8 192.7,454.77 193.9,453.52 195.1,451.68" fill="none" stroke="#8a5a34" stroke-width="1.4" stroke-linejoin="round" stroke-dasharray="5 3"/>
<polyline points="195.1,451.68 196.3,452.88 197.5,453.05 198.7,453.12 199.9,453.44 201.1,456.46 202.3,453.48 203.5,453.3 204.7,457.37 205.9,456 207.1,458.14 208.3,455.86 209.5,458.37 210.7,457.59 211.9,458.5 213.1,458.61 214.3,457.82 215.5,456.36 216.7,457.19 217.9,460.42 219.1,460.84 220.3,461.26 221.5,458.98 222.7,460.7 223.9,461.64 225.1,461.26 226.3,462.33 227.5,461.38 228.7,462.24 229.9,462.69 231.1,461.09 232.3,464.2 233.5,464.57 234.7,460.92 235.9,465.09 237.1,465.28 238.3,464.22 239.5,461.7 240.7,465.69 241.9,462.52 243.1,466.45 244.3,465.35 245.5,462.91 246.7,463.61 247.9,465.9 249.1,465.83 250.3,466.87 251.5,468.03 252.7,465.27 253.9,464.68 255.1,469.08 256.3,465.44 257.5,469.6 258.7,466.61 259.9,470.02 261.1,470.27 262.3,471.04 263.5,469.96 264.7,471.76 265.9,469.14 267.1,471.57 268.3,470.43 269.5,473.26 270.7,473.1 271.9,472.13 273.1,472.73 274.3,470.75 275.5,470.96 276.7,473.61 277.9,473.32 279.1,475.16 280.3,474.21 281.5,472.32" fill="none" stroke="#8a5a34" stroke-width="1.4" stroke-linejoin="round" />
<polyline points="280.3,474.21 281.5,472.32 282.7,473.49 283.9,475.45 285.1,474.55 286.3,472.48 287.5,476.29 288.7,476.43 289.9,473.34 291.1,475.54 292.3,475 293.5,476.97 294.7,475.06 295.9,474.89 297.1,476.17 298.3,478.37 299.5,474.64 300.7,476.05 301.9,476.76 303.1,477.17 304.3,476.82 305.5,476.83 306.7,477.43 307.9,477.43 309.1,476.68 310.3,477.75 311.5,477.03 312.7,477.25 313.9,477.99 315.1,477.59 316.3,478.14 317.5,477.48 318.7,478.43 319.9,477.69 321.1,477.75 322.3,478.26 323.5,478.17 324.7,478.51 325.9,479.05 327.1,478.91 328.3,478.16 329.5,478.63 330.7,479 331.9,479.03 333.1,479.4 334.3,479.22" fill="none" stroke="#8a5a34" stroke-width="1.5" stroke-linejoin="round" stroke-dasharray="3 1.6"/>
</g>
<rect x="41.5" y="408.7" width="292.7" height="162.8" fill="none" stroke="#000" stroke-width="1.3"/>
<line x1="66.86" y1="571.5" x2="66.86" y2="569.5" stroke="#000" stroke-width="1" />
<line x1="81.7" y1="571.5" x2="81.7" y2="569.5" stroke="#000" stroke-width="1" />
<line x1="92.22" y1="571.5" x2="92.22" y2="569.5" stroke="#000" stroke-width="1" />
<line x1="100.39" y1="571.5" x2="100.39" y2="569.5" stroke="#000" stroke-width="1" />
<line x1="107.06" y1="571.5" x2="107.06" y2="569.5" stroke="#000" stroke-width="1" />
<line x1="112.7" y1="571.5" x2="112.7" y2="569.5" stroke="#000" stroke-width="1" />
<line x1="117.59" y1="571.5" x2="117.59" y2="569.5" stroke="#000" stroke-width="1" />
<line x1="121.89" y1="571.5" x2="121.89" y2="569.5" stroke="#000" stroke-width="1" />
<line x1="125.75" y1="571.5" x2="125.75" y2="568" stroke="#000" stroke-width="1" />
<line x1="151.11" y1="571.5" x2="151.11" y2="569.5" stroke="#000" stroke-width="1" />
<line x1="165.95" y1="571.5" x2="165.95" y2="569.5" stroke="#000" stroke-width="1" />
<line x1="176.47" y1="571.5" x2="176.47" y2="569.5" stroke="#000" stroke-width="1" />
<line x1="184.64" y1="571.5" x2="184.64" y2="569.5" stroke="#000" stroke-width="1" />
<line x1="191.31" y1="571.5" x2="191.31" y2="569.5" stroke="#000" stroke-width="1" />
<line x1="196.95" y1="571.5" x2="196.95" y2="569.5" stroke="#000" stroke-width="1" />
<line x1="201.84" y1="571.5" x2="201.84" y2="569.5" stroke="#000" stroke-width="1" />
<line x1="206.14" y1="571.5" x2="206.14" y2="569.5" stroke="#000" stroke-width="1" />
<line x1="210" y1="571.5" x2="210" y2="568" stroke="#000" stroke-width="1" />
<line x1="235.36" y1="571.5" x2="235.36" y2="569.5" stroke="#000" stroke-width="1" />
<line x1="250.2" y1="571.5" x2="250.2" y2="569.5" stroke="#000" stroke-width="1" />
<line x1="260.72" y1="571.5" x2="260.72" y2="569.5" stroke="#000" stroke-width="1" />
<line x1="268.89" y1="571.5" x2="268.89" y2="569.5" stroke="#000" stroke-width="1" />
<line x1="275.56" y1="571.5" x2="275.56" y2="569.5" stroke="#000" stroke-width="1" />
<line x1="281.2" y1="571.5" x2="281.2" y2="569.5" stroke="#000" stroke-width="1" />
<line x1="286.09" y1="571.5" x2="286.09" y2="569.5" stroke="#000" stroke-width="1" />
<line x1="290.39" y1="571.5" x2="290.39" y2="569.5" stroke="#000" stroke-width="1" />
<line x1="294.25" y1="571.5" x2="294.25" y2="568" stroke="#000" stroke-width="1" />
<line x1="319.61" y1="571.5" x2="319.61" y2="569.5" stroke="#000" stroke-width="1" />
<text x="29.4" y="425.7" font-size="12.3" font-weight="bold" text-anchor="end" fill="#000" >10</text>
<text x="29.2" y="420.9" font-size="9" font-weight="bold" text-anchor="start" fill="#000" >0</text>
<text x="29.4" y="463.2" font-size="12.3" font-weight="bold" text-anchor="end" fill="#000" >10</text>
<text x="29.2" y="458.4" font-size="9" font-weight="bold" text-anchor="start" fill="#000" >-1</text>
<text x="29.4" y="500.7" font-size="12.3" font-weight="bold" text-anchor="end" fill="#000" >10</text>
<text x="29.2" y="495.9" font-size="9" font-weight="bold" text-anchor="start" fill="#000" >-2</text>
<text x="29.4" y="538.2" font-size="12.3" font-weight="bold" text-anchor="end" fill="#000" >10</text>
<text x="29.2" y="533.4" font-size="9" font-weight="bold" text-anchor="start" fill="#000" >-3</text>
<text x="29.4" y="575.7" font-size="12.3" font-weight="bold" text-anchor="end" fill="#000" >10</text>
<text x="29.2" y="570.9" font-size="9" font-weight="bold" text-anchor="start" fill="#000" >-4</text>
<text x="37.5" y="587.6" font-size="12.3" font-weight="bold" text-anchor="middle" fill="#000" >10</text>
<text x="44.5" y="582.4" font-size="9" font-weight="bold" text-anchor="start" fill="#000" >2</text>
<text x="121.75" y="587.6" font-size="12.3" font-weight="bold" text-anchor="middle" fill="#000" >10</text>
<text x="128.75" y="582.4" font-size="9" font-weight="bold" text-anchor="start" fill="#000" >3</text>
<text x="206" y="587.6" font-size="12.3" font-weight="bold" text-anchor="middle" fill="#000" >10</text>
<text x="213" y="582.4" font-size="9" font-weight="bold" text-anchor="start" fill="#000" >4</text>
<text x="290.25" y="587.6" font-size="12.3" font-weight="bold" text-anchor="middle" fill="#000" >10</text>
<text x="297.25" y="582.4" font-size="9" font-weight="bold" text-anchor="start" fill="#000" >5</text>
<text x="187.6" y="601.61" font-size="12.6" font-weight="bold" text-anchor="middle" fill="#000" >Generation</text>
<text transform="translate(11.0 490.0) rotate(-90)" font-size="12.5" font-weight="bold" text-anchor="middle">Loss Function</text>
<text x="50.2" y="422.05" font-size="15" font-weight="bold" text-anchor="start" fill="#000" >b</text>
<line x1="47" y1="510.5" x2="77" y2="510.5" stroke="#55b9dc" stroke-width="1.5" />
<text x="80.2" y="515.48" font-size="12.5" font-weight="bold" text-anchor="start" fill="#000" >L1</text>
<line x1="47" y1="526.4" x2="77" y2="526.4" stroke="#bfe3e3" stroke-width="1.5" />
<text x="80.2" y="531.38" font-size="12.5" font-weight="bold" text-anchor="start" fill="#000" >energy_train</text>
<line x1="47" y1="542.5" x2="77" y2="542.5" stroke="#86c07a" stroke-width="1.5" />
<text x="80.2" y="547.48" font-size="12.5" font-weight="bold" text-anchor="start" fill="#000" >force_train</text>
<line x1="47" y1="558.4" x2="77" y2="558.4" stroke="#cfd8a0" stroke-width="1.5" />
<text x="80.2" y="563.38" font-size="12.5" font-weight="bold" text-anchor="start" fill="#000" >virial_train</text>
<line x1="156.3" y1="512" x2="185" y2="512" stroke="#a9dcef" stroke-width="1.5" />
<text x="188.3" y="516.67" font-size="12.5" font-weight="bold" text-anchor="start" fill="#000" >L2</text>
<line x1="156.3" y1="527.9" x2="185" y2="527.9" stroke="#d3c38c" stroke-width="1.5" stroke-dasharray="5 4.5"/>
<text x="188.3" y="532.57" font-size="12.5" font-weight="bold" text-anchor="start" fill="#000" >energy_test</text>
<line x1="156.3" y1="544" x2="185" y2="544" stroke="#b8956a" stroke-width="1.5" stroke-dasharray="5 4.5"/>
<text x="188.3" y="548.67" font-size="12.5" font-weight="bold" text-anchor="start" fill="#000" >force_test</text>
<line x1="156.3" y1="559.9" x2="185" y2="559.9" stroke="#8a5a34" stroke-width="1.5" stroke-dasharray="5 4.5"/>
<text x="188.3" y="564.57" font-size="12.5" font-weight="bold" text-anchor="start" fill="#000" >virial_test</text>
</g>
<line x1="382.9" y1="572.2" x2="545.3" y2="409.5" stroke="#eab577" stroke-width="1.1" stroke-dasharray="4 3.5"/>
<g>
<circle cx="396.58" cy="557.81" r="5.05" fill="#e8692e"/>
<circle cx="397.81" cy="556.8" r="5.05" fill="#e8692e"/>
<circle cx="398.5" cy="556.3" r="5.05" fill="#e8692e"/>
<circle cx="396.58" cy="557.81" r="3.7" fill="#b0b0b3"/>
<circle cx="397.81" cy="556.8" r="3.7" fill="#b0b0b3"/>
<circle cx="398.5" cy="556.3" r="3.7" fill="#b0b0b3"/>
</g>
<g>
<circle cx="420.28" cy="534.21" r="5.15" fill="#e8692e"/>
<circle cx="421.41" cy="533.1" r="5.15" fill="#e8692e"/>
<circle cx="422" cy="532.47" r="5.15" fill="#e8692e"/>
<circle cx="422.84" cy="531.92" r="5.15" fill="#e8692e"/>
<circle cx="423.26" cy="530.72" r="5.15" fill="#e8692e"/>
<circle cx="424.45" cy="530.21" r="5.15" fill="#e8692e"/>
<circle cx="425.16" cy="529.2" r="5.15" fill="#e8692e"/>
<circle cx="425.72" cy="528.88" r="5.15" fill="#e8692e"/>
<circle cx="426.5" cy="528" r="5.15" fill="#e8692e"/>
<circle cx="420.28" cy="534.21" r="3.8" fill="#b0b0b3"/>
<circle cx="421.41" cy="533.1" r="3.8" fill="#b0b0b3"/>
<circle cx="422" cy="532.47" r="3.8" fill="#b0b0b3"/>
<circle cx="422.84" cy="531.92" r="3.8" fill="#b0b0b3"/>
<circle cx="423.26" cy="530.72" r="3.8" fill="#b0b0b3"/>
<circle cx="424.45" cy="530.21" r="3.8" fill="#b0b0b3"/>
<circle cx="425.16" cy="529.2" r="3.8" fill="#b0b0b3"/>
<circle cx="425.72" cy="528.88" r="3.8" fill="#b0b0b3"/>
<circle cx="426.5" cy="528" r="3.8" fill="#b0b0b3"/>
</g>
<g>
<circle cx="441.28" cy="512.21" r="5.25" fill="#e8692e"/>
<circle cx="442.45" cy="511.14" r="5.25" fill="#e8692e"/>
<circle cx="443.08" cy="510.55" r="5.25" fill="#e8692e"/>
<circle cx="443.97" cy="510.05" r="5.25" fill="#e8692e"/>
<circle cx="444.42" cy="508.88" r="5.25" fill="#e8692e"/>
<circle cx="445.66" cy="508.42" r="5.25" fill="#e8692e"/>
<circle cx="446.41" cy="507.45" r="5.25" fill="#e8692e"/>
<circle cx="447.01" cy="507.17" r="5.25" fill="#e8692e"/>
<circle cx="447.67" cy="506.6" r="5.25" fill="#e8692e"/>
<circle cx="448.87" cy="505.34" r="5.25" fill="#e8692e"/>
<circle cx="449.13" cy="504.94" r="5.25" fill="#e8692e"/>
<circle cx="450.47" cy="504.14" r="5.25" fill="#e8692e"/>
<circle cx="451" cy="503.5" r="5.25" fill="#e8692e"/>
<circle cx="441.28" cy="512.21" r="3.9" fill="#b0b0b3"/>
<circle cx="442.45" cy="511.14" r="3.9" fill="#b0b0b3"/>
<circle cx="443.08" cy="510.55" r="3.9" fill="#b0b0b3"/>
<circle cx="443.97" cy="510.05" r="3.9" fill="#b0b0b3"/>
<circle cx="444.42" cy="508.88" r="3.9" fill="#b0b0b3"/>
<circle cx="445.66" cy="508.42" r="3.9" fill="#b0b0b3"/>
<circle cx="446.41" cy="507.45" r="3.9" fill="#b0b0b3"/>
<circle cx="447.01" cy="507.17" r="3.9" fill="#b0b0b3"/>
<circle cx="447.67" cy="506.6" r="3.9" fill="#b0b0b3"/>
<circle cx="448.87" cy="505.34" r="3.9" fill="#b0b0b3"/>
<circle cx="449.13" cy="504.94" r="3.9" fill="#b0b0b3"/>
<circle cx="450.47" cy="504.14" r="3.9" fill="#b0b0b3"/>
<circle cx="451" cy="503.5" r="3.9" fill="#b0b0b3"/>
</g>
<g>
<circle cx="465.28" cy="488.71" r="5.45" fill="#e8692e"/>
<circle cx="466.44" cy="487.63" r="5.45" fill="#e8692e"/>
<circle cx="467.06" cy="487.03" r="5.45" fill="#e8692e"/>
<circle cx="467.93" cy="486.52" r="5.45" fill="#e8692e"/>
<circle cx="468.38" cy="485.34" r="5.45" fill="#e8692e"/>
<circle cx="469.61" cy="484.87" r="5.45" fill="#e8692e"/>
<circle cx="470.34" cy="483.89" r="5.45" fill="#e8692e"/>
<circle cx="470.94" cy="483.6" r="5.45" fill="#e8692e"/>
<circle cx="471.59" cy="483.02" r="5.45" fill="#e8692e"/>
<circle cx="472.77" cy="481.75" r="5.45" fill="#e8692e"/>
<circle cx="473.03" cy="481.34" r="5.45" fill="#e8692e"/>
<circle cx="474.36" cy="480.52" r="5.45" fill="#e8692e"/>
<circle cx="474.7" cy="479.83" r="5.45" fill="#e8692e"/>
<circle cx="475.37" cy="478.99" r="5.45" fill="#e8692e"/>
<circle cx="476.4" cy="478.43" r="5.45" fill="#e8692e"/>
<circle cx="477.06" cy="477.56" r="5.45" fill="#e8692e"/>
<circle cx="478" cy="477" r="5.45" fill="#e8692e"/>
<circle cx="465.28" cy="488.71" r="4.1" fill="#b0b0b3"/>
<circle cx="466.44" cy="487.63" r="4.1" fill="#b0b0b3"/>
<circle cx="467.06" cy="487.03" r="4.1" fill="#b0b0b3"/>
<circle cx="467.93" cy="486.52" r="4.1" fill="#b0b0b3"/>
<circle cx="468.38" cy="485.34" r="4.1" fill="#b0b0b3"/>
<circle cx="469.61" cy="484.87" r="4.1" fill="#b0b0b3"/>
<circle cx="470.34" cy="483.89" r="4.1" fill="#b0b0b3"/>
<circle cx="470.94" cy="483.6" r="4.1" fill="#b0b0b3"/>
<circle cx="471.59" cy="483.02" r="4.1" fill="#b0b0b3"/>
<circle cx="472.77" cy="481.75" r="4.1" fill="#b0b0b3"/>
<circle cx="473.03" cy="481.34" r="4.1" fill="#b0b0b3"/>
<circle cx="474.36" cy="480.52" r="4.1" fill="#b0b0b3"/>
<circle cx="474.7" cy="479.83" r="4.1" fill="#b0b0b3"/>
<circle cx="475.37" cy="478.99" r="4.1" fill="#b0b0b3"/>
<circle cx="476.4" cy="478.43" r="4.1" fill="#b0b0b3"/>
<circle cx="477.06" cy="477.56" r="4.1" fill="#b0b0b3"/>
<circle cx="478" cy="477" r="4.1" fill="#b0b0b3"/>
</g>
<g>
<circle cx="522.78" cy="432.21" r="4.85" fill="#e8692e"/>
<circle cx="523.5" cy="431.5" r="4.85" fill="#e8692e"/>
<circle cx="522.78" cy="432.21" r="3.5" fill="#b0b0b3"/>
<circle cx="523.5" cy="431.5" r="3.5" fill="#b0b0b3"/>
</g>
<rect x="382.9" y="409.5" width="162.4" height="162.7" fill="none" stroke="#000" stroke-width="1.3"/>
<line x1="409.97" y1="572.2" x2="409.97" y2="569.2" stroke="#000" stroke-width="1" />
<line x1="437.03" y1="572.2" x2="437.03" y2="569.2" stroke="#000" stroke-width="1" />
<line x1="464.1" y1="572.2" x2="464.1" y2="569.2" stroke="#000" stroke-width="1" />
<line x1="491.17" y1="572.2" x2="491.17" y2="569.2" stroke="#000" stroke-width="1" />
<line x1="518.23" y1="572.2" x2="518.23" y2="569.2" stroke="#000" stroke-width="1" />
<line x1="396.43" y1="572.2" x2="396.43" y2="570.5" stroke="#000" stroke-width="1" />
<line x1="423.5" y1="572.2" x2="423.5" y2="570.5" stroke="#000" stroke-width="1" />
<line x1="450.57" y1="572.2" x2="450.57" y2="570.5" stroke="#000" stroke-width="1" />
<line x1="477.63" y1="572.2" x2="477.63" y2="570.5" stroke="#000" stroke-width="1" />
<line x1="504.7" y1="572.2" x2="504.7" y2="570.5" stroke="#000" stroke-width="1" />
<line x1="531.77" y1="572.2" x2="531.77" y2="570.5" stroke="#000" stroke-width="1" />
<line x1="382.9" y1="545.08" x2="385.9" y2="545.08" stroke="#000" stroke-width="1" />
<line x1="382.9" y1="517.97" x2="385.9" y2="517.97" stroke="#000" stroke-width="1" />
<line x1="382.9" y1="490.85" x2="385.9" y2="490.85" stroke="#000" stroke-width="1" />
<line x1="382.9" y1="463.73" x2="385.9" y2="463.73" stroke="#000" stroke-width="1" />
<line x1="382.9" y1="436.62" x2="385.9" y2="436.62" stroke="#000" stroke-width="1" />
<line x1="382.9" y1="558.64" x2="384.6" y2="558.64" stroke="#000" stroke-width="1" />
<line x1="382.9" y1="531.53" x2="384.6" y2="531.53" stroke="#000" stroke-width="1" />
<line x1="382.9" y1="504.41" x2="384.6" y2="504.41" stroke="#000" stroke-width="1" />
<line x1="382.9" y1="477.29" x2="384.6" y2="477.29" stroke="#000" stroke-width="1" />
<line x1="382.9" y1="450.18" x2="384.6" y2="450.18" stroke="#000" stroke-width="1" />
<line x1="382.9" y1="423.06" x2="384.6" y2="423.06" stroke="#000" stroke-width="1" />
<text x="382.9" y="585.9" font-size="12" font-weight="bold" text-anchor="middle" fill="#000" >-14</text>
<text x="409.97" y="585.9" font-size="12" font-weight="bold" text-anchor="middle" fill="#000" >-12</text>
<text x="437.03" y="585.9" font-size="12" font-weight="bold" text-anchor="middle" fill="#000" >-10</text>
<text x="464.1" y="585.9" font-size="12" font-weight="bold" text-anchor="middle" fill="#000" >-8</text>
<text x="491.17" y="585.9" font-size="12" font-weight="bold" text-anchor="middle" fill="#000" >-6</text>
<text x="518.23" y="585.9" font-size="12" font-weight="bold" text-anchor="middle" fill="#000" >-4</text>
<text x="545.3" y="585.9" font-size="12" font-weight="bold" text-anchor="middle" fill="#000" >-2</text>
<text x="379" y="576.4" font-size="12" font-weight="bold" text-anchor="end" fill="#000" >-14</text>
<text x="379" y="549.28" font-size="12" font-weight="bold" text-anchor="end" fill="#000" >-12</text>
<text x="379" y="522.17" font-size="12" font-weight="bold" text-anchor="end" fill="#000" >-10</text>
<text x="379" y="495.05" font-size="12" font-weight="bold" text-anchor="end" fill="#000" >-8</text>
<text x="379" y="467.93" font-size="12" font-weight="bold" text-anchor="end" fill="#000" >-6</text>
<text x="379" y="440.82" font-size="12" font-weight="bold" text-anchor="end" fill="#000" >-4</text>
<text x="379" y="413.7" font-size="12" font-weight="bold" text-anchor="end" fill="#000" >-2</text>
<text x="394.6" y="423.15" font-size="15" font-weight="bold" text-anchor="start" fill="#000" >c</text>
<text x="391.4" y="440.62" font-size="10.9" font-weight="bold" text-anchor="start" fill="#e8692e" >RMSE (train):</text>
<text x="391.4" y="452.62" font-size="10.9" font-weight="bold" text-anchor="start" fill="#e8692e" >1.5 meV/atom</text>
<text x="391.4" y="466.01" font-size="10.9" font-weight="bold" text-anchor="start" fill="#878787" >RMSE (test):</text>
<text x="391.4" y="478.92" font-size="10.9" font-weight="bold" text-anchor="start" fill="#878787" >1.5 meV/atom</text>
<circle cx="440.7" cy="540" r="4.9" fill="#eea27c" fill-opacity="0.9"/>
<circle cx="440.7" cy="556.9" r="4.9" fill="#e8e8e8"/>
<text x="460.9" y="544.69" font-size="13.4" font-weight="bold" text-anchor="start" fill="#000" >energy_train</text>
<text x="460.9" y="561.59" font-size="13.4" font-weight="bold" text-anchor="start" fill="#000" >energy_test</text>
<text x="463.7" y="602.65" font-size="12.7" font-weight="bold" text-anchor="middle" fill="#000" >DFT (eV/atom)</text>
<text transform="translate(354.6 490.4) rotate(-90)" font-size="12.7" font-weight="bold" text-anchor="middle">NEP (eV/atom)</text>
<line x1="584.3" y1="452.45" x2="584.76" y2="452.45" stroke="#ea8a55" stroke-width="0.9" />
<line x1="584.3" y1="455" x2="585.04" y2="455" stroke="#ea8a55" stroke-width="0.9" />
<line x1="584.3" y1="457.55" x2="585.49" y2="457.55" stroke="#ea8a55" stroke-width="0.9" />
<line x1="584.3" y1="460.1" x2="586.18" y2="460.1" stroke="#ea8a55" stroke-width="0.9" />
<line x1="584.3" y1="462.65" x2="587.21" y2="462.65" stroke="#ea8a55" stroke-width="0.9" />
<line x1="584.3" y1="465.2" x2="588.73" y2="465.2" stroke="#ea8a55" stroke-width="0.9" />
<line x1="584.3" y1="467.75" x2="590.9" y2="467.75" stroke="#ea8a55" stroke-width="0.9" />
<line x1="584.3" y1="470.3" x2="593.93" y2="470.3" stroke="#ea8a55" stroke-width="0.9" />
<line x1="584.3" y1="472.85" x2="598.05" y2="472.85" stroke="#ea8a55" stroke-width="0.9" />
<line x1="584.3" y1="475.4" x2="603.47" y2="475.4" stroke="#ea8a55" stroke-width="0.9" />
<line x1="584.3" y1="477.95" x2="610.36" y2="477.95" stroke="#ea8a55" stroke-width="0.9" />
<line x1="584.3" y1="480.5" x2="618.73" y2="480.5" stroke="#ea8a55" stroke-width="0.9" />
<line x1="584.3" y1="483.05" x2="628.37" y2="483.05" stroke="#ea8a55" stroke-width="0.9" />
<line x1="584.3" y1="485.6" x2="638.67" y2="485.6" stroke="#ea8a55" stroke-width="0.9" />
<line x1="584.3" y1="488.15" x2="648.34" y2="488.15" stroke="#ea8a55" stroke-width="0.9" />
<line x1="584.3" y1="490.7" x2="654.48" y2="490.7" stroke="#ea8a55" stroke-width="0.9" />
<line x1="584.3" y1="493.25" x2="648.34" y2="493.25" stroke="#ea8a55" stroke-width="0.9" />
<line x1="584.3" y1="495.8" x2="638.67" y2="495.8" stroke="#ea8a55" stroke-width="0.9" />
<line x1="584.3" y1="498.35" x2="628.37" y2="498.35" stroke="#ea8a55" stroke-width="0.9" />
<line x1="584.3" y1="500.9" x2="618.73" y2="500.9" stroke="#ea8a55" stroke-width="0.9" />
<line x1="584.3" y1="503.45" x2="610.36" y2="503.45" stroke="#ea8a55" stroke-width="0.9" />
<line x1="584.3" y1="506" x2="603.47" y2="506" stroke="#ea8a55" stroke-width="0.9" />
<line x1="584.3" y1="508.55" x2="598.05" y2="508.55" stroke="#ea8a55" stroke-width="0.9" />
<line x1="584.3" y1="511.1" x2="593.93" y2="511.1" stroke="#ea8a55" stroke-width="0.9" />
<line x1="584.3" y1="513.65" x2="590.9" y2="513.65" stroke="#ea8a55" stroke-width="0.9" />
<line x1="584.3" y1="516.2" x2="588.73" y2="516.2" stroke="#ea8a55" stroke-width="0.9" />
<line x1="584.3" y1="518.75" x2="587.21" y2="518.75" stroke="#ea8a55" stroke-width="0.9" />
<line x1="584.3" y1="521.3" x2="586.18" y2="521.3" stroke="#ea8a55" stroke-width="0.9" />
<line x1="584.3" y1="523.85" x2="585.49" y2="523.85" stroke="#ea8a55" stroke-width="0.9" />
<line x1="584.3" y1="526.4" x2="585.04" y2="526.4" stroke="#ea8a55" stroke-width="0.9" />
<line x1="584.3" y1="528.95" x2="584.76" y2="528.95" stroke="#ea8a55" stroke-width="0.9" />
<polyline points="584.3,429.95 584.3,430.56 584.3,431.17 584.31,431.77 584.31,432.38 584.31,432.99 584.31,433.6 584.31,434.2 584.31,434.81 584.31,435.42 584.31,436.02 584.32,436.63 584.32,437.24 584.32,437.85 584.32,438.45 584.33,439.06 584.33,439.67 584.34,440.28 584.34,440.88 584.35,441.49 584.35,442.1 584.36,442.71 584.37,443.31 584.38,443.92 584.39,444.53 584.4,445.14 584.42,445.75 584.43,446.35 584.45,446.96 584.47,447.57 584.49,448.18 584.52,448.78 584.55,449.39 584.58,450 584.62,450.61 584.66,451.21 584.7,451.82 584.75,452.43 584.81,453.04 584.87,453.64 584.95,454.25 585.02,454.86 585.11,455.47 585.21,456.07 585.32,456.68 585.44,457.29 585.57,457.89 585.72,458.5 585.88,459.11 586.06,459.72 586.26,460.32 586.47,460.93 586.71,461.54 586.98,462.15 587.26,462.75 587.58,463.36 587.93,463.97 588.3,464.58 588.72,465.19 589.16,465.79 589.65,466.4 590.18,467.01 590.76,467.62 591.39,468.22 592.06,468.83 592.79,469.44 593.58,470.05 594.43,470.65 595.34,471.26 596.32,471.87 597.37,472.48 598.49,473.08 599.68,473.69 600.95,474.3 602.31,474.91 603.74,475.51 605.26,476.12 606.87,476.73 608.56,477.34 610.34,477.94 612.2,478.55 614.14,479.16 616.17,479.76 618.28,480.37 620.46,480.98 622.71,481.59 625.03,482.19 627.4,482.8 629.81,483.41 632.25,484.02 634.72,484.62 637.18,485.23 639.63,485.84 642.04,486.45 644.39,487.06 646.63,487.66 648.75,488.27 650.68,488.88 652.37,489.49 653.72,490.09 654.48,490.7 653.72,491.31 652.37,491.92 650.68,492.52 648.75,493.13 646.63,493.74 644.39,494.35 642.04,494.95 639.63,495.56 637.18,496.17 634.72,496.78 632.25,497.38 629.81,497.99 627.4,498.6 625.03,499.21 622.71,499.81 620.46,500.42 618.28,501.03 616.17,501.63 614.14,502.24 612.2,502.85 610.34,503.46 608.56,504.07 606.87,504.67 605.26,505.28 603.74,505.89 602.31,506.5 600.95,507.1 599.68,507.71 598.49,508.32 597.37,508.93 596.32,509.53 595.34,510.14 594.43,510.75 593.58,511.36 592.79,511.96 592.06,512.57 591.39,513.18 590.76,513.79 590.18,514.39 589.65,515 589.16,515.61 588.72,516.22 588.3,516.82 587.93,517.43 587.58,518.04 587.26,518.64 586.98,519.25 586.71,519.86 586.47,520.47 586.26,521.08 586.06,521.68 585.88,522.29 585.72,522.9 585.57,523.5 585.44,524.11 585.32,524.72 585.21,525.33 585.11,525.94 585.02,526.54 584.95,527.15 584.87,527.76 584.81,528.37 584.75,528.97 584.7,529.58 584.66,530.19 584.62,530.8 584.58,531.4 584.55,532.01 584.52,532.62 584.49,533.23 584.47,533.83 584.45,534.44 584.43,535.05 584.42,535.65 584.4,536.26 584.39,536.87 584.38,537.48 584.37,538.09 584.36,538.69 584.35,539.3 584.35,539.91 584.34,540.51 584.34,541.12 584.33,541.73 584.33,542.34 584.32,542.95 584.32,543.55 584.32,544.16 584.32,544.77 584.31,545.38 584.31,545.98 584.31,546.59 584.31,547.2 584.31,547.81 584.31,548.41 584.31,549.02 584.31,549.63 584.3,550.24 584.3,550.84 584.3,551.45" fill="none" stroke="#a8a8a8" stroke-width="1.2" stroke-linejoin="round" />
<polyline points="584.3,429.95 584.3,430.56 584.3,431.17 584.31,431.77 584.31,432.38 584.31,432.99 584.31,433.6 584.31,434.2 584.31,434.81 584.31,435.42 584.31,436.02 584.32,436.63 584.32,437.24 584.32,437.85 584.32,438.45 584.33,439.06 584.33,439.67 584.34,440.28 584.34,440.88 584.35,441.49 584.35,442.1 584.36,442.71 584.37,443.31 584.38,443.92 584.39,444.53 584.4,445.14 584.42,445.75 584.43,446.35 584.45,446.96 584.47,447.57 584.49,448.18 584.52,448.78 584.55,449.39 584.58,450 584.62,450.61 584.66,451.21 584.7,451.82 584.75,452.43 584.81,453.04 584.87,453.64 584.95,454.25 585.02,454.86 585.11,455.47 585.21,456.07 585.32,456.68 585.44,457.29 585.57,457.89 585.72,458.5 585.88,459.11 586.06,459.72 586.26,460.32 586.47,460.93 586.71,461.54 586.98,462.15 587.26,462.75 587.58,463.36 587.93,463.97 588.3,464.58 588.72,465.19 589.16,465.79 589.65,466.4 590.18,467.01 590.76,467.62 591.39,468.22 592.06,468.83 592.79,469.44 593.58,470.05 594.43,470.65 595.34,471.26 596.32,471.87 597.37,472.48 598.49,473.08 599.68,473.69 600.95,474.3 602.31,474.91 603.74,475.51 605.26,476.12 606.87,476.73 608.56,477.34 610.34,477.94 612.2,478.55 614.14,479.16 616.17,479.76 618.28,480.37 620.46,480.98 622.71,481.59 625.03,482.19 627.4,482.8 629.81,483.41 632.25,484.02 634.72,484.62 637.18,485.23 639.63,485.84 642.04,486.45 644.39,487.06 646.63,487.66 648.75,488.27 650.68,488.88 652.37,489.49 653.72,490.09 654.48,490.7 653.72,491.31 652.37,491.92 650.68,492.52 648.75,493.13 646.63,493.74 644.39,494.35 642.04,494.95 639.63,495.56 637.18,496.17 634.72,496.78 632.25,497.38 629.81,497.99 627.4,498.6 625.03,499.21 622.71,499.81 620.46,500.42 618.28,501.03 616.17,501.63 614.14,502.24 612.2,502.85 610.34,503.46 608.56,504.07 606.87,504.67 605.26,505.28 603.74,505.89 602.31,506.5 600.95,507.1 599.68,507.71 598.49,508.32 597.37,508.93 596.32,509.53 595.34,510.14 594.43,510.75 593.58,511.36 592.79,511.96 592.06,512.57 591.39,513.18 590.76,513.79 590.18,514.39 589.65,515 589.16,515.61 588.72,516.22 588.3,516.82 587.93,517.43 587.58,518.04 587.26,518.64 586.98,519.25 586.71,519.86 586.47,520.47 586.26,521.08 586.06,521.68 585.88,522.29 585.72,522.9 585.57,523.5 585.44,524.11 585.32,524.72 585.21,525.33 585.11,525.94 585.02,526.54 584.95,527.15 584.87,527.76 584.81,528.37 584.75,528.97 584.7,529.58 584.66,530.19 584.62,530.8 584.58,531.4 584.55,532.01 584.52,532.62 584.49,533.23 584.47,533.83 584.45,534.44 584.43,535.05 584.42,535.65 584.4,536.26 584.39,536.87 584.38,537.48 584.37,538.09 584.36,538.69 584.35,539.3 584.35,539.91 584.34,540.51 584.34,541.12 584.33,541.73 584.33,542.34 584.32,542.95 584.32,543.55 584.32,544.16 584.32,544.77 584.31,545.38 584.31,545.98 584.31,546.59 584.31,547.2 584.31,547.81 584.31,548.41 584.31,549.02 584.31,549.63 584.3,550.24 584.3,550.84 584.3,551.45" fill="none" stroke="#e8692e" stroke-width="1.4" stroke-linejoin="round" stroke-dasharray="4 3"/>
<rect x="584.3" y="409.7" width="80.9" height="162" fill="none" stroke="#000" stroke-width="1.3"/>
<line x1="604.52" y1="571.7" x2="604.52" y2="568.7" stroke="#000" stroke-width="1" />
<line x1="624.75" y1="571.7" x2="624.75" y2="568.7" stroke="#000" stroke-width="1" />
<line x1="644.98" y1="571.7" x2="644.98" y2="568.7" stroke="#000" stroke-width="1" />
<line x1="594.41" y1="571.7" x2="594.41" y2="570" stroke="#000" stroke-width="1" />
<line x1="614.64" y1="571.7" x2="614.64" y2="570" stroke="#000" stroke-width="1" />
<line x1="634.86" y1="571.7" x2="634.86" y2="570" stroke="#000" stroke-width="1" />
<line x1="655.09" y1="571.7" x2="655.09" y2="570" stroke="#000" stroke-width="1" />
<line x1="584.3" y1="450.2" x2="587.3" y2="450.2" stroke="#000" stroke-width="1" />
<line x1="584.3" y1="490.7" x2="587.3" y2="490.7" stroke="#000" stroke-width="1" />
<line x1="584.3" y1="531.2" x2="587.3" y2="531.2" stroke="#000" stroke-width="1" />
<line x1="584.3" y1="429.95" x2="586" y2="429.95" stroke="#000" stroke-width="1" />
<line x1="584.3" y1="470.45" x2="586" y2="470.45" stroke="#000" stroke-width="1" />
<line x1="584.3" y1="510.95" x2="586" y2="510.95" stroke="#000" stroke-width="1" />
<line x1="584.3" y1="551.45" x2="586" y2="551.45" stroke="#000" stroke-width="1" />
<text x="579.6" y="413.9" font-size="12" font-weight="bold" text-anchor="end" fill="#000" >10</text>
<text x="579.6" y="454.4" font-size="12" font-weight="bold" text-anchor="end" fill="#000" >5</text>
<text x="579.6" y="494.9" font-size="12" font-weight="bold" text-anchor="end" fill="#000" >0</text>
<text x="579.6" y="535.4" font-size="12" font-weight="bold" text-anchor="end" fill="#000" >-5</text>
<text x="579.6" y="575.9" font-size="12" font-weight="bold" text-anchor="end" fill="#000" >-10</text>
<text x="584.3" y="585.7" font-size="12" font-weight="bold" text-anchor="middle" fill="#000" >0.0</text>
<text x="604.52" y="585.7" font-size="12" font-weight="bold" text-anchor="middle" fill="#000" >0.1</text>
<text x="624.75" y="585.7" font-size="12" font-weight="bold" text-anchor="middle" fill="#000" >0.2</text>
<text x="644.98" y="585.7" font-size="12" font-weight="bold" text-anchor="middle" fill="#000" >0.3</text>
<text x="665.2" y="585.7" font-size="12" font-weight="bold" text-anchor="middle" fill="#000" >0.4</text>
<text x="593.2" y="422.7" font-size="15" font-weight="bold" text-anchor="start" fill="#000" >d</text>
<text x="594.3" y="537.6" font-size="10.6" font-weight="bold" fill="#e8692e">R<tspan font-size="7" dy="-4">2</tspan><tspan font-size="7" dy="6">train</tspan><tspan dy="-2">:&#160;&#160;0.99</tspan></text>
<text x="594.3" y="550.7" font-size="10.6" font-weight="bold" fill="#878787">R<tspan font-size="7" dy="-4">2</tspan><tspan font-size="7" dy="6">test</tspan><tspan dy="-2">&#160;&#160;: 0.99</tspan></text>
<text transform="translate(566 483.7) rotate(-90)" font-size="12.5" font-weight="bold" text-anchor="middle">Energy error (meV/atom)</text>
<text x="624.5" y="602.14" font-size="12.4" font-weight="bold" text-anchor="middle" fill="#000" >Probability density</text>
<clipPath id="clipe"><rect x="40.5" y="614.2" width="162.5" height="162.29999999999995"/></clipPath>
<g clip-path="url(#clipe)">
<line x1="40.5" y1="776.5" x2="203" y2="614.2" stroke="#e3a857" stroke-width="1.1" stroke-dasharray="5 2.5 1.5 2.5"/>
<circle cx="66.91" cy="748.1" r="4.6" fill="#f0a47c" fill-opacity="0.75" stroke="#e8692e" stroke-width="0.9"/>
<circle cx="73" cy="746.07" r="4.6" fill="#f0a47c" fill-opacity="0.75" stroke="#e8692e" stroke-width="0.9"/>
<circle cx="73.81" cy="742.42" r="4.6" fill="#f0a47c" fill-opacity="0.75" stroke="#e8692e" stroke-width="0.9"/>
<circle cx="81.12" cy="737.95" r="4.6" fill="#f0a47c" fill-opacity="0.75" stroke="#e8692e" stroke-width="0.9"/>
<circle cx="81.94" cy="732.68" r="4.6" fill="#f0a47c" fill-opacity="0.75" stroke="#e8692e" stroke-width="0.9"/>
<circle cx="79.91" cy="735.11" r="4.6" fill="#f0a47c" fill-opacity="0.75" stroke="#e8692e" stroke-width="0.9"/>
<circle cx="85.19" cy="735.11" r="4.6" fill="#f0a47c" fill-opacity="0.75" stroke="#e8692e" stroke-width="0.9"/>
<circle cx="86" cy="730.65" r="4.6" fill="#f0a47c" fill-opacity="0.75" stroke="#e8692e" stroke-width="0.9"/>
<circle cx="166.44" cy="649.91" r="4.6" fill="#f0a47c" fill-opacity="0.75" stroke="#e8692e" stroke-width="0.9"/>
<circle cx="165.62" cy="653.56" r="4.6" fill="#f0a47c" fill-opacity="0.75" stroke="#e8692e" stroke-width="0.9"/>
<circle cx="174.56" cy="643.41" r="4.6" fill="#f0a47c" fill-opacity="0.75" stroke="#e8692e" stroke-width="0.9"/>
<circle cx="178.62" cy="638.55" r="4.6" fill="#f0a47c" fill-opacity="0.75" stroke="#e8692e" stroke-width="0.9"/>
<circle cx="181.87" cy="636.11" r="4.6" fill="#f0a47c" fill-opacity="0.75" stroke="#e8692e" stroke-width="0.9"/>
<circle cx="171.31" cy="644.23" r="4.6" fill="#f0a47c" fill-opacity="0.75" stroke="#e8692e" stroke-width="0.9"/>
<circle cx="156.28" cy="662.89" r="4.6" fill="#f0a47c" fill-opacity="0.75" stroke="#e8692e" stroke-width="0.9"/>
<circle cx="158.31" cy="664.92" r="4.6" fill="#f0a47c" fill-opacity="0.75" stroke="#e8692e" stroke-width="0.9"/>
<g>
<circle cx="83.35" cy="732.25" r="4.9" fill="#e8692e"/>
<circle cx="84.2" cy="732.01" r="4.9" fill="#e8692e"/>
<circle cx="84.68" cy="731.42" r="4.9" fill="#e8692e"/>
<circle cx="84.11" cy="730.12" r="4.9" fill="#e8692e"/>
<circle cx="86.14" cy="729.85" r="5.01" fill="#e8692e"/>
<circle cx="86.64" cy="728.43" r="5.2" fill="#e8692e"/>
<circle cx="86.52" cy="728.08" r="5.36" fill="#e8692e"/>
<circle cx="87.2" cy="728.04" r="5.5" fill="#e8692e"/>
<circle cx="86.92" cy="726.9" r="5.64" fill="#e8692e"/>
<circle cx="87.92" cy="727.46" r="5.77" fill="#e8692e"/>
<circle cx="89.26" cy="725.68" r="5.89" fill="#e8692e"/>
<circle cx="89.88" cy="725.08" r="6.02" fill="#e8692e"/>
<circle cx="90.16" cy="724.5" r="6.13" fill="#e8692e"/>
<circle cx="89.74" cy="725.13" r="6.25" fill="#e8692e"/>
<circle cx="90.64" cy="723.51" r="6.36" fill="#e8692e"/>
<circle cx="92.45" cy="724" r="6.46" fill="#e8692e"/>
<circle cx="91.91" cy="723.58" r="6.57" fill="#e8692e"/>
<circle cx="92.88" cy="722.56" r="6.67" fill="#e8692e"/>
<circle cx="92.91" cy="722.42" r="6.77" fill="#e8692e"/>
<circle cx="94.25" cy="721.9" r="6.87" fill="#e8692e"/>
<circle cx="95.15" cy="720.26" r="6.97" fill="#e8692e"/>
<circle cx="94.86" cy="719.49" r="7.06" fill="#e8692e"/>
<circle cx="95.09" cy="718.76" r="7.15" fill="#e8692e"/>
<circle cx="95.9" cy="719.06" r="7.24" fill="#e8692e"/>
<circle cx="96" cy="718.61" r="7.33" fill="#e8692e"/>
<circle cx="97.1" cy="717.46" r="7.41" fill="#e8692e"/>
<circle cx="98.44" cy="717.17" r="7.49" fill="#e8692e"/>
<circle cx="98.2" cy="716.61" r="7.58" fill="#e8692e"/>
<circle cx="99.39" cy="715.36" r="7.65" fill="#e8692e"/>
<circle cx="100.39" cy="714.75" r="7.73" fill="#e8692e"/>
<circle cx="100.6" cy="715.5" r="7.81" fill="#e8692e"/>
<circle cx="100" cy="714.84" r="7.88" fill="#e8692e"/>
<circle cx="101.12" cy="713.94" r="7.95" fill="#e8692e"/>
<circle cx="101.12" cy="712.53" r="8.02" fill="#e8692e"/>
<circle cx="101.96" cy="713.42" r="8.09" fill="#e8692e"/>
<circle cx="102.55" cy="712.53" r="8.15" fill="#e8692e"/>
<circle cx="104.29" cy="712.27" r="8.21" fill="#e8692e"/>
<circle cx="103.93" cy="710.76" r="8.27" fill="#e8692e"/>
<circle cx="104.78" cy="710.87" r="8.33" fill="#e8692e"/>
<circle cx="104.68" cy="710.27" r="8.39" fill="#e8692e"/>
<circle cx="106.36" cy="709.88" r="8.44" fill="#e8692e"/>
<circle cx="105.71" cy="709.45" r="8.49" fill="#e8692e"/>
<circle cx="106.36" cy="707.92" r="8.55" fill="#e8692e"/>
<circle cx="107.76" cy="708.28" r="8.59" fill="#e8692e"/>
<circle cx="107.9" cy="707.73" r="8.64" fill="#e8692e"/>
<circle cx="108.79" cy="706.18" r="8.68" fill="#e8692e"/>
<circle cx="109" cy="705.4" r="8.72" fill="#e8692e"/>
<circle cx="109.18" cy="704.79" r="8.76" fill="#e8692e"/>
<circle cx="110.73" cy="705.59" r="8.8" fill="#e8692e"/>
<circle cx="110.45" cy="703.5" r="8.84" fill="#e8692e"/>
<circle cx="112.34" cy="703.72" r="8.87" fill="#e8692e"/>
<circle cx="111.98" cy="702.68" r="8.9" fill="#e8692e"/>
<circle cx="112.85" cy="703.06" r="8.93" fill="#e8692e"/>
<circle cx="113.19" cy="701.85" r="8.96" fill="#e8692e"/>
<circle cx="113.12" cy="702.07" r="8.98" fill="#e8692e"/>
<circle cx="113.65" cy="700.83" r="9" fill="#e8692e"/>
<circle cx="115.51" cy="699.69" r="9.02" fill="#e8692e"/>
<circle cx="115.91" cy="700.43" r="9.04" fill="#e8692e"/>
<circle cx="116.31" cy="699.61" r="9.05" fill="#e8692e"/>
<circle cx="116.04" cy="698.48" r="9.07" fill="#e8692e"/>
<circle cx="116.68" cy="698.57" r="9.08" fill="#e8692e"/>
<circle cx="117.48" cy="697.38" r="9.09" fill="#e8692e"/>
<circle cx="119.18" cy="697.46" r="9.09" fill="#e8692e"/>
<circle cx="119.71" cy="696.26" r="9.1" fill="#e8692e"/>
<circle cx="119.5" cy="696.13" r="9.1" fill="#e8692e"/>
<circle cx="120.05" cy="694.87" r="9.1" fill="#e8692e"/>
<circle cx="120.5" cy="694.07" r="9.1" fill="#e8692e"/>
<circle cx="121.02" cy="694.85" r="9.09" fill="#e8692e"/>
<circle cx="122.52" cy="693.71" r="9.09" fill="#e8692e"/>
<circle cx="122.35" cy="692.69" r="9.08" fill="#e8692e"/>
<circle cx="122.27" cy="692.02" r="9.06" fill="#e8692e"/>
<circle cx="123.94" cy="692.4" r="9.05" fill="#e8692e"/>
<circle cx="123.84" cy="691.71" r="9.03" fill="#e8692e"/>
<circle cx="125.07" cy="691" r="9.02" fill="#e8692e"/>
<circle cx="125.46" cy="690.54" r="9" fill="#e8692e"/>
<circle cx="125.54" cy="689.89" r="8.97" fill="#e8692e"/>
<circle cx="125.98" cy="688.97" r="8.95" fill="#e8692e"/>
<circle cx="127.33" cy="688.74" r="8.92" fill="#e8692e"/>
<circle cx="127.14" cy="688.58" r="8.89" fill="#e8692e"/>
<circle cx="128.27" cy="687.43" r="8.86" fill="#e8692e"/>
<circle cx="127.82" cy="686.82" r="8.83" fill="#e8692e"/>
<circle cx="128.77" cy="686.45" r="8.79" fill="#e8692e"/>
<circle cx="129.68" cy="686.12" r="8.75" fill="#e8692e"/>
<circle cx="130.54" cy="685.52" r="8.71" fill="#e8692e"/>
<circle cx="130.63" cy="684.71" r="8.67" fill="#e8692e"/>
<circle cx="131.82" cy="684.44" r="8.63" fill="#e8692e"/>
<circle cx="131.77" cy="683.9" r="8.58" fill="#e8692e"/>
<circle cx="133.17" cy="683.09" r="8.53" fill="#e8692e"/>
<circle cx="133.91" cy="682.96" r="8.48" fill="#e8692e"/>
<circle cx="133.75" cy="681.71" r="8.43" fill="#e8692e"/>
<circle cx="133.75" cy="681.64" r="8.37" fill="#e8692e"/>
<circle cx="135.55" cy="680.5" r="8.32" fill="#e8692e"/>
<circle cx="135.73" cy="680.32" r="8.26" fill="#e8692e"/>
<circle cx="136.36" cy="678.88" r="8.2" fill="#e8692e"/>
<circle cx="137.01" cy="678.97" r="8.13" fill="#e8692e"/>
<circle cx="137.39" cy="678.15" r="8.07" fill="#e8692e"/>
<circle cx="137.89" cy="678.15" r="8" fill="#e8692e"/>
<circle cx="138.48" cy="677.5" r="7.93" fill="#e8692e"/>
<circle cx="138.07" cy="676.04" r="7.86" fill="#e8692e"/>
<circle cx="139.3" cy="676.26" r="7.79" fill="#e8692e"/>
<circle cx="139.52" cy="675.76" r="7.71" fill="#e8692e"/>
<circle cx="140.74" cy="674.16" r="7.63" fill="#e8692e"/>
<circle cx="141.06" cy="673.89" r="7.55" fill="#e8692e"/>
<circle cx="140.96" cy="673.18" r="7.47" fill="#e8692e"/>
<circle cx="141.95" cy="672.69" r="7.39" fill="#e8692e"/>
<circle cx="142.32" cy="671.89" r="7.3" fill="#e8692e"/>
<circle cx="143.32" cy="671.88" r="7.21" fill="#e8692e"/>
<circle cx="144.12" cy="671.65" r="7.12" fill="#e8692e"/>
<circle cx="144.09" cy="671.59" r="7.03" fill="#e8692e"/>
<circle cx="144.28" cy="670.23" r="6.94" fill="#e8692e"/>
<circle cx="145.29" cy="669.67" r="6.84" fill="#e8692e"/>
<circle cx="145.6" cy="669.78" r="6.74" fill="#e8692e"/>
<circle cx="146.58" cy="667.95" r="6.64" fill="#e8692e"/>
<circle cx="147.53" cy="667.48" r="6.54" fill="#e8692e"/>
<circle cx="147.99" cy="667.3" r="6.43" fill="#e8692e"/>
<circle cx="148.62" cy="667.73" r="6.33" fill="#e8692e"/>
<circle cx="149.56" cy="666.3" r="6.21" fill="#e8692e"/>
<circle cx="150.12" cy="666.1" r="6.1" fill="#e8692e"/>
<circle cx="149.98" cy="664.73" r="5.98" fill="#e8692e"/>
<circle cx="150.91" cy="664.84" r="5.86" fill="#e8692e"/>
<circle cx="152.06" cy="664.93" r="5.73" fill="#e8692e"/>
<circle cx="152.07" cy="663.37" r="5.6" fill="#e8692e"/>
<circle cx="153.09" cy="662.25" r="5.46" fill="#e8692e"/>
<circle cx="153.03" cy="662.48" r="5.32" fill="#e8692e"/>
<circle cx="92.37" cy="727.33" r="3.85" fill="#f2a57c" fill-opacity="0.6" stroke="#e8692e" stroke-width="0.8" stroke-opacity="0.85"/>
<circle cx="117.96" cy="706.88" r="3.38" fill="#f2a57c" fill-opacity="0.6" stroke="#e8692e" stroke-width="0.8" stroke-opacity="0.85"/>
<circle cx="105.49" cy="707.39" r="3.16" fill="#f2a57c" fill-opacity="0.6" stroke="#e8692e" stroke-width="0.8" stroke-opacity="0.85"/>
<circle cx="82.78" cy="729.53" r="3.14" fill="#f2a57c" fill-opacity="0.6" stroke="#e8692e" stroke-width="0.8" stroke-opacity="0.85"/>
<circle cx="95.63" cy="726.59" r="3.74" fill="#f2a57c" fill-opacity="0.6" stroke="#e8692e" stroke-width="0.8" stroke-opacity="0.85"/>
<circle cx="82.71" cy="730.86" r="3.37" fill="#f2a57c" fill-opacity="0.6" stroke="#e8692e" stroke-width="0.8" stroke-opacity="0.85"/>
<circle cx="123.48" cy="702.84" r="3.14" fill="#f2a57c" fill-opacity="0.6" stroke="#e8692e" stroke-width="0.8" stroke-opacity="0.85"/>
<circle cx="122.16" cy="694.36" r="3.16" fill="#f2a57c" fill-opacity="0.6" stroke="#e8692e" stroke-width="0.8" stroke-opacity="0.85"/>
<circle cx="112.53" cy="712.88" r="3.23" fill="#f2a57c" fill-opacity="0.6" stroke="#e8692e" stroke-width="0.8" stroke-opacity="0.85"/>
<circle cx="128.97" cy="684.13" r="3.46" fill="#f2a57c" fill-opacity="0.6" stroke="#e8692e" stroke-width="0.8" stroke-opacity="0.85"/>
<circle cx="92.16" cy="722.53" r="3.77" fill="#f2a57c" fill-opacity="0.6" stroke="#e8692e" stroke-width="0.8" stroke-opacity="0.85"/>
<circle cx="129.55" cy="678.7" r="3.62" fill="#f2a57c" fill-opacity="0.6" stroke="#e8692e" stroke-width="0.8" stroke-opacity="0.85"/>
<circle cx="145.81" cy="663.8" r="2.88" fill="#f2a57c" fill-opacity="0.6" stroke="#e8692e" stroke-width="0.8" stroke-opacity="0.85"/>
<circle cx="130.11" cy="678.55" r="3.37" fill="#f2a57c" fill-opacity="0.6" stroke="#e8692e" stroke-width="0.8" stroke-opacity="0.85"/>
<circle cx="92.53" cy="715.68" r="3.45" fill="#f2a57c" fill-opacity="0.6" stroke="#e8692e" stroke-width="0.8" stroke-opacity="0.85"/>
<circle cx="127.35" cy="688.74" r="3.12" fill="#f2a57c" fill-opacity="0.6" stroke="#e8692e" stroke-width="0.8" stroke-opacity="0.85"/>
<circle cx="84.37" cy="728.94" r="3.97" fill="#f2a57c" fill-opacity="0.6" stroke="#e8692e" stroke-width="0.8" stroke-opacity="0.85"/>
<circle cx="139.19" cy="685.41" r="2.95" fill="#f2a57c" fill-opacity="0.6" stroke="#e8692e" stroke-width="0.8" stroke-opacity="0.85"/>
<circle cx="146.2" cy="669.57" r="3.65" fill="#f2a57c" fill-opacity="0.6" stroke="#e8692e" stroke-width="0.8" stroke-opacity="0.85"/>
<circle cx="91.93" cy="721.98" r="2.88" fill="#f2a57c" fill-opacity="0.6" stroke="#e8692e" stroke-width="0.8" stroke-opacity="0.85"/>
<circle cx="118.46" cy="696.68" r="3.14" fill="#f2a57c" fill-opacity="0.6" stroke="#e8692e" stroke-width="0.8" stroke-opacity="0.85"/>
<circle cx="96.52" cy="726.44" r="2.91" fill="#f2a57c" fill-opacity="0.6" stroke="#e8692e" stroke-width="0.8" stroke-opacity="0.85"/>
<circle cx="115.84" cy="692.21" r="3.25" fill="#f2a57c" fill-opacity="0.6" stroke="#e8692e" stroke-width="0.8" stroke-opacity="0.85"/>
<circle cx="137.49" cy="685.72" r="3.61" fill="#f2a57c" fill-opacity="0.6" stroke="#e8692e" stroke-width="0.8" stroke-opacity="0.85"/>
<circle cx="149.89" cy="668.33" r="3.08" fill="#f2a57c" fill-opacity="0.6" stroke="#e8692e" stroke-width="0.8" stroke-opacity="0.85"/>
<circle cx="108.97" cy="709.05" r="3.34" fill="#f2a57c" fill-opacity="0.6" stroke="#e8692e" stroke-width="0.8" stroke-opacity="0.85"/>
<circle cx="90.06" cy="726.42" r="3.6" fill="#f2a57c" fill-opacity="0.6" stroke="#e8692e" stroke-width="0.8" stroke-opacity="0.85"/>
<circle cx="95.92" cy="727.11" r="3.36" fill="#f2a57c" fill-opacity="0.6" stroke="#e8692e" stroke-width="0.8" stroke-opacity="0.85"/>
<circle cx="87.18" cy="729.19" r="2.98" fill="#f2a57c" fill-opacity="0.6" stroke="#e8692e" stroke-width="0.8" stroke-opacity="0.85"/>
<circle cx="136.22" cy="678.42" r="3.89" fill="#f2a57c" fill-opacity="0.6" stroke="#e8692e" stroke-width="0.8" stroke-opacity="0.85"/>
<circle cx="94.78" cy="720.56" r="3.08" fill="#f2a57c" fill-opacity="0.6" stroke="#e8692e" stroke-width="0.8" stroke-opacity="0.85"/>
<circle cx="122.65" cy="684.61" r="3.67" fill="#f2a57c" fill-opacity="0.6" stroke="#e8692e" stroke-width="0.8" stroke-opacity="0.85"/>
<circle cx="99.86" cy="706.62" r="3.51" fill="#f2a57c" fill-opacity="0.6" stroke="#e8692e" stroke-width="0.8" stroke-opacity="0.85"/>
<circle cx="133.87" cy="683.89" r="2.84" fill="#f2a57c" fill-opacity="0.6" stroke="#e8692e" stroke-width="0.8" stroke-opacity="0.85"/>
<circle cx="92.68" cy="720.43" r="3.38" fill="#f2a57c" fill-opacity="0.6" stroke="#e8692e" stroke-width="0.8" stroke-opacity="0.85"/>
<circle cx="81.44" cy="730.69" r="3.92" fill="#f2a57c" fill-opacity="0.6" stroke="#e8692e" stroke-width="0.8" stroke-opacity="0.85"/>
<circle cx="100.69" cy="706.13" r="2.99" fill="#f2a57c" fill-opacity="0.6" stroke="#e8692e" stroke-width="0.8" stroke-opacity="0.85"/>
<circle cx="104.01" cy="701.17" r="3.1" fill="#f2a57c" fill-opacity="0.6" stroke="#e8692e" stroke-width="0.8" stroke-opacity="0.85"/>
<circle cx="98.42" cy="722.28" r="3.88" fill="#f2a57c" fill-opacity="0.6" stroke="#e8692e" stroke-width="0.8" stroke-opacity="0.85"/>
<circle cx="134.91" cy="673.47" r="3.63" fill="#f2a57c" fill-opacity="0.6" stroke="#e8692e" stroke-width="0.8" stroke-opacity="0.85"/>
<circle cx="122.11" cy="694.51" r="3.19" fill="#f2a57c" fill-opacity="0.6" stroke="#e8692e" stroke-width="0.8" stroke-opacity="0.85"/>
<circle cx="103.91" cy="711.01" r="2.83" fill="#f2a57c" fill-opacity="0.6" stroke="#e8692e" stroke-width="0.8" stroke-opacity="0.85"/>
<circle cx="86.93" cy="722.88" r="3.02" fill="#f2a57c" fill-opacity="0.6" stroke="#e8692e" stroke-width="0.8" stroke-opacity="0.85"/>
<circle cx="88.85" cy="729.45" r="3.01" fill="#f2a57c" fill-opacity="0.6" stroke="#e8692e" stroke-width="0.8" stroke-opacity="0.85"/>
<circle cx="83.51" cy="726.56" r="2.87" fill="#f2a57c" fill-opacity="0.6" stroke="#e8692e" stroke-width="0.8" stroke-opacity="0.85"/>
<circle cx="116.26" cy="697.51" r="3.8" fill="#f2a57c" fill-opacity="0.6" stroke="#e8692e" stroke-width="0.8" stroke-opacity="0.85"/>
<circle cx="128.41" cy="697.4" r="3.08" fill="#f2a57c" fill-opacity="0.6" stroke="#e8692e" stroke-width="0.8" stroke-opacity="0.85"/>
<circle cx="92.05" cy="727.69" r="3.57" fill="#f2a57c" fill-opacity="0.6" stroke="#e8692e" stroke-width="0.8" stroke-opacity="0.85"/>
<circle cx="142.67" cy="671.72" r="3.29" fill="#f2a57c" fill-opacity="0.6" stroke="#e8692e" stroke-width="0.8" stroke-opacity="0.85"/>
<circle cx="88.14" cy="725.83" r="3.41" fill="#f2a57c" fill-opacity="0.6" stroke="#e8692e" stroke-width="0.8" stroke-opacity="0.85"/>
<circle cx="127.36" cy="690.6" r="3.75" fill="#f2a57c" fill-opacity="0.6" stroke="#e8692e" stroke-width="0.8" stroke-opacity="0.85"/>
<circle cx="152.89" cy="664.18" r="3.06" fill="#f2a57c" fill-opacity="0.6" stroke="#e8692e" stroke-width="0.8" stroke-opacity="0.85"/>
<circle cx="117.71" cy="688.38" r="3.72" fill="#f2a57c" fill-opacity="0.6" stroke="#e8692e" stroke-width="0.8" stroke-opacity="0.85"/>
<circle cx="88.6" cy="726.32" r="3.87" fill="#f2a57c" fill-opacity="0.6" stroke="#e8692e" stroke-width="0.8" stroke-opacity="0.85"/>
<circle cx="127.02" cy="686.27" r="2.91" fill="#f2a57c" fill-opacity="0.6" stroke="#e8692e" stroke-width="0.8" stroke-opacity="0.85"/>
<circle cx="137.94" cy="669.94" r="3.44" fill="#f2a57c" fill-opacity="0.6" stroke="#e8692e" stroke-width="0.8" stroke-opacity="0.85"/>
<circle cx="129.07" cy="684.59" r="3.6" fill="#f2a57c" fill-opacity="0.6" stroke="#e8692e" stroke-width="0.8" stroke-opacity="0.85"/>
<circle cx="124.97" cy="691.97" r="3.76" fill="#f2a57c" fill-opacity="0.6" stroke="#e8692e" stroke-width="0.8" stroke-opacity="0.85"/>
<circle cx="150.68" cy="664.07" r="3.18" fill="#f2a57c" fill-opacity="0.6" stroke="#e8692e" stroke-width="0.8" stroke-opacity="0.85"/>
<circle cx="119.09" cy="696.56" r="3.71" fill="#f2a57c" fill-opacity="0.6" stroke="#e8692e" stroke-width="0.8" stroke-opacity="0.85"/>
<circle cx="120.23" cy="695.94" r="3.64" fill="#f2a57c" fill-opacity="0.6" stroke="#e8692e" stroke-width="0.8" stroke-opacity="0.85"/>
<circle cx="144.63" cy="676.25" r="3.17" fill="#f2a57c" fill-opacity="0.6" stroke="#e8692e" stroke-width="0.8" stroke-opacity="0.85"/>
<circle cx="113.83" cy="692.63" r="3.45" fill="#f2a57c" fill-opacity="0.6" stroke="#e8692e" stroke-width="0.8" stroke-opacity="0.85"/>
<circle cx="85.55" cy="727.83" r="2.96" fill="#f2a57c" fill-opacity="0.6" stroke="#e8692e" stroke-width="0.8" stroke-opacity="0.85"/>
<circle cx="148.71" cy="672.28" r="3.31" fill="#f2a57c" fill-opacity="0.6" stroke="#e8692e" stroke-width="0.8" stroke-opacity="0.85"/>
<circle cx="110.86" cy="711.11" r="3.54" fill="#f2a57c" fill-opacity="0.6" stroke="#e8692e" stroke-width="0.8" stroke-opacity="0.85"/>
<circle cx="93.1" cy="727.85" r="2.97" fill="#f2a57c" fill-opacity="0.6" stroke="#e8692e" stroke-width="0.8" stroke-opacity="0.85"/>
<circle cx="118.44" cy="704.88" r="3.33" fill="#f2a57c" fill-opacity="0.6" stroke="#e8692e" stroke-width="0.8" stroke-opacity="0.85"/>
<circle cx="130.89" cy="693.6" r="3.72" fill="#f2a57c" fill-opacity="0.6" stroke="#e8692e" stroke-width="0.8" stroke-opacity="0.85"/>
<circle cx="117.47" cy="688.15" r="2.92" fill="#f2a57c" fill-opacity="0.6" stroke="#e8692e" stroke-width="0.8" stroke-opacity="0.85"/>
<circle cx="83.35" cy="732.25" r="3" fill="#bdbdbd"/>
<circle cx="84.2" cy="732.01" r="3" fill="#bdbdbd"/>
<circle cx="84.68" cy="731.42" r="3" fill="#bdbdbd"/>
<circle cx="84.11" cy="730.12" r="3" fill="#bdbdbd"/>
<circle cx="86.14" cy="729.85" r="3.11" fill="#bdbdbd"/>
<circle cx="86.64" cy="728.43" r="3.3" fill="#bdbdbd"/>
<circle cx="86.52" cy="728.08" r="3.46" fill="#bdbdbd"/>
<circle cx="87.2" cy="728.04" r="3.6" fill="#bdbdbd"/>
<circle cx="86.92" cy="726.9" r="3.74" fill="#bdbdbd"/>
<circle cx="87.92" cy="727.46" r="3.87" fill="#bdbdbd"/>
<circle cx="89.26" cy="725.68" r="3.99" fill="#bdbdbd"/>
<circle cx="89.88" cy="725.08" r="4.12" fill="#bdbdbd"/>
<circle cx="90.16" cy="724.5" r="4.23" fill="#bdbdbd"/>
<circle cx="89.74" cy="725.13" r="4.35" fill="#bdbdbd"/>
<circle cx="90.64" cy="723.51" r="4.46" fill="#bdbdbd"/>
<circle cx="92.45" cy="724" r="4.56" fill="#bdbdbd"/>
<circle cx="91.91" cy="723.58" r="4.67" fill="#bdbdbd"/>
<circle cx="92.88" cy="722.56" r="4.77" fill="#bdbdbd"/>
<circle cx="92.91" cy="722.42" r="4.87" fill="#bdbdbd"/>
<circle cx="94.25" cy="721.9" r="4.97" fill="#bdbdbd"/>
<circle cx="95.15" cy="720.26" r="5.07" fill="#bdbdbd"/>
<circle cx="94.86" cy="719.49" r="5.16" fill="#bdbdbd"/>
<circle cx="95.09" cy="718.76" r="5.25" fill="#bdbdbd"/>
<circle cx="95.9" cy="719.06" r="5.34" fill="#bdbdbd"/>
<circle cx="96" cy="718.61" r="5.43" fill="#bdbdbd"/>
<circle cx="97.1" cy="717.46" r="5.51" fill="#bdbdbd"/>
<circle cx="98.44" cy="717.17" r="5.59" fill="#bdbdbd"/>
<circle cx="98.2" cy="716.61" r="5.68" fill="#bdbdbd"/>
<circle cx="99.39" cy="715.36" r="5.75" fill="#bdbdbd"/>
<circle cx="100.39" cy="714.75" r="5.83" fill="#bdbdbd"/>
<circle cx="100.6" cy="715.5" r="5.91" fill="#bdbdbd"/>
<circle cx="100" cy="714.84" r="5.98" fill="#bdbdbd"/>
<circle cx="101.12" cy="713.94" r="6.05" fill="#bdbdbd"/>
<circle cx="101.12" cy="712.53" r="6.12" fill="#bdbdbd"/>
<circle cx="101.96" cy="713.42" r="6.19" fill="#bdbdbd"/>
<circle cx="102.55" cy="712.53" r="6.25" fill="#bdbdbd"/>
<circle cx="104.29" cy="712.27" r="6.31" fill="#bdbdbd"/>
<circle cx="103.93" cy="710.76" r="6.37" fill="#bdbdbd"/>
<circle cx="104.78" cy="710.87" r="6.43" fill="#bdbdbd"/>
<circle cx="104.68" cy="710.27" r="6.49" fill="#bdbdbd"/>
<circle cx="106.36" cy="709.88" r="6.54" fill="#bdbdbd"/>
<circle cx="105.71" cy="709.45" r="6.59" fill="#bdbdbd"/>
<circle cx="106.36" cy="707.92" r="6.65" fill="#bdbdbd"/>
<circle cx="107.76" cy="708.28" r="6.69" fill="#bdbdbd"/>
<circle cx="107.9" cy="707.73" r="6.74" fill="#bdbdbd"/>
<circle cx="108.79" cy="706.18" r="6.78" fill="#bdbdbd"/>
<circle cx="109" cy="705.4" r="6.82" fill="#bdbdbd"/>
<circle cx="109.18" cy="704.79" r="6.86" fill="#bdbdbd"/>
<circle cx="110.73" cy="705.59" r="6.9" fill="#bdbdbd"/>
<circle cx="110.45" cy="703.5" r="6.94" fill="#bdbdbd"/>
<circle cx="112.34" cy="703.72" r="6.97" fill="#bdbdbd"/>
<circle cx="111.98" cy="702.68" r="7" fill="#bdbdbd"/>
<circle cx="112.85" cy="703.06" r="7.03" fill="#bdbdbd"/>
<circle cx="113.19" cy="701.85" r="7.06" fill="#bdbdbd"/>
<circle cx="113.12" cy="702.07" r="7.08" fill="#bdbdbd"/>
<circle cx="113.65" cy="700.83" r="7.1" fill="#bdbdbd"/>
<circle cx="115.51" cy="699.69" r="7.12" fill="#bdbdbd"/>
<circle cx="115.91" cy="700.43" r="7.14" fill="#bdbdbd"/>
<circle cx="116.31" cy="699.61" r="7.15" fill="#bdbdbd"/>
<circle cx="116.04" cy="698.48" r="7.17" fill="#bdbdbd"/>
<circle cx="116.68" cy="698.57" r="7.18" fill="#bdbdbd"/>
<circle cx="117.48" cy="697.38" r="7.19" fill="#bdbdbd"/>
<circle cx="119.18" cy="697.46" r="7.19" fill="#bdbdbd"/>
<circle cx="119.71" cy="696.26" r="7.2" fill="#bdbdbd"/>
<circle cx="119.5" cy="696.13" r="7.2" fill="#bdbdbd"/>
<circle cx="120.05" cy="694.87" r="7.2" fill="#bdbdbd"/>
<circle cx="120.5" cy="694.07" r="7.2" fill="#bdbdbd"/>
<circle cx="121.02" cy="694.85" r="7.19" fill="#bdbdbd"/>
<circle cx="122.52" cy="693.71" r="7.19" fill="#bdbdbd"/>
<circle cx="122.35" cy="692.69" r="7.18" fill="#bdbdbd"/>
<circle cx="122.27" cy="692.02" r="7.16" fill="#bdbdbd"/>
<circle cx="123.94" cy="692.4" r="7.15" fill="#bdbdbd"/>
<circle cx="123.84" cy="691.71" r="7.13" fill="#bdbdbd"/>
<circle cx="125.07" cy="691" r="7.12" fill="#bdbdbd"/>
<circle cx="125.46" cy="690.54" r="7.1" fill="#bdbdbd"/>
<circle cx="125.54" cy="689.89" r="7.07" fill="#bdbdbd"/>
<circle cx="125.98" cy="688.97" r="7.05" fill="#bdbdbd"/>
<circle cx="127.33" cy="688.74" r="7.02" fill="#bdbdbd"/>
<circle cx="127.14" cy="688.58" r="6.99" fill="#bdbdbd"/>
<circle cx="128.27" cy="687.43" r="6.96" fill="#bdbdbd"/>
<circle cx="127.82" cy="686.82" r="6.93" fill="#bdbdbd"/>
<circle cx="128.77" cy="686.45" r="6.89" fill="#bdbdbd"/>
<circle cx="129.68" cy="686.12" r="6.85" fill="#bdbdbd"/>
<circle cx="130.54" cy="685.52" r="6.81" fill="#bdbdbd"/>
<circle cx="130.63" cy="684.71" r="6.77" fill="#bdbdbd"/>
<circle cx="131.82" cy="684.44" r="6.73" fill="#bdbdbd"/>
<circle cx="131.77" cy="683.9" r="6.68" fill="#bdbdbd"/>
<circle cx="133.17" cy="683.09" r="6.63" fill="#bdbdbd"/>
<circle cx="133.91" cy="682.96" r="6.58" fill="#bdbdbd"/>
<circle cx="133.75" cy="681.71" r="6.53" fill="#bdbdbd"/>
<circle cx="133.75" cy="681.64" r="6.47" fill="#bdbdbd"/>
<circle cx="135.55" cy="680.5" r="6.42" fill="#bdbdbd"/>
<circle cx="135.73" cy="680.32" r="6.36" fill="#bdbdbd"/>
<circle cx="136.36" cy="678.88" r="6.3" fill="#bdbdbd"/>
<circle cx="137.01" cy="678.97" r="6.23" fill="#bdbdbd"/>
<circle cx="137.39" cy="678.15" r="6.17" fill="#bdbdbd"/>
<circle cx="137.89" cy="678.15" r="6.1" fill="#bdbdbd"/>
<circle cx="138.48" cy="677.5" r="6.03" fill="#bdbdbd"/>
<circle cx="138.07" cy="676.04" r="5.96" fill="#bdbdbd"/>
<circle cx="139.3" cy="676.26" r="5.89" fill="#bdbdbd"/>
<circle cx="139.52" cy="675.76" r="5.81" fill="#bdbdbd"/>
<circle cx="140.74" cy="674.16" r="5.73" fill="#bdbdbd"/>
<circle cx="141.06" cy="673.89" r="5.65" fill="#bdbdbd"/>
<circle cx="140.96" cy="673.18" r="5.57" fill="#bdbdbd"/>
<circle cx="141.95" cy="672.69" r="5.49" fill="#bdbdbd"/>
<circle cx="142.32" cy="671.89" r="5.4" fill="#bdbdbd"/>
<circle cx="143.32" cy="671.88" r="5.31" fill="#bdbdbd"/>
<circle cx="144.12" cy="671.65" r="5.22" fill="#bdbdbd"/>
<circle cx="144.09" cy="671.59" r="5.13" fill="#bdbdbd"/>
<circle cx="144.28" cy="670.23" r="5.04" fill="#bdbdbd"/>
<circle cx="145.29" cy="669.67" r="4.94" fill="#bdbdbd"/>
<circle cx="145.6" cy="669.78" r="4.84" fill="#bdbdbd"/>
<circle cx="146.58" cy="667.95" r="4.74" fill="#bdbdbd"/>
<circle cx="147.53" cy="667.48" r="4.64" fill="#bdbdbd"/>
<circle cx="147.99" cy="667.3" r="4.53" fill="#bdbdbd"/>
<circle cx="148.62" cy="667.73" r="4.43" fill="#bdbdbd"/>
<circle cx="149.56" cy="666.3" r="4.31" fill="#bdbdbd"/>
<circle cx="150.12" cy="666.1" r="4.2" fill="#bdbdbd"/>
<circle cx="149.98" cy="664.73" r="4.08" fill="#bdbdbd"/>
<circle cx="150.91" cy="664.84" r="3.96" fill="#bdbdbd"/>
<circle cx="152.06" cy="664.93" r="3.83" fill="#bdbdbd"/>
<circle cx="152.07" cy="663.37" r="3.7" fill="#bdbdbd"/>
<circle cx="153.09" cy="662.25" r="3.56" fill="#bdbdbd"/>
<circle cx="153.03" cy="662.48" r="3.42" fill="#bdbdbd"/>
</g>
</g>
<rect x="40.5" y="614.2" width="162.5" height="162.3" fill="none" stroke="#000" stroke-width="1.3"/>
<line x1="60.81" y1="776.5" x2="60.81" y2="773.5" stroke="#000" stroke-width="1" />
<line x1="81.12" y1="776.5" x2="81.12" y2="773.5" stroke="#000" stroke-width="1" />
<line x1="101.44" y1="776.5" x2="101.44" y2="773.5" stroke="#000" stroke-width="1" />
<line x1="121.75" y1="776.5" x2="121.75" y2="773.5" stroke="#000" stroke-width="1" />
<line x1="142.06" y1="776.5" x2="142.06" y2="773.5" stroke="#000" stroke-width="1" />
<line x1="162.38" y1="776.5" x2="162.38" y2="773.5" stroke="#000" stroke-width="1" />
<line x1="182.69" y1="776.5" x2="182.69" y2="773.5" stroke="#000" stroke-width="1" />
<line x1="50.66" y1="776.5" x2="50.66" y2="774.8" stroke="#000" stroke-width="1" />
<line x1="70.97" y1="776.5" x2="70.97" y2="774.8" stroke="#000" stroke-width="1" />
<line x1="91.28" y1="776.5" x2="91.28" y2="774.8" stroke="#000" stroke-width="1" />
<line x1="111.59" y1="776.5" x2="111.59" y2="774.8" stroke="#000" stroke-width="1" />
<line x1="131.91" y1="776.5" x2="131.91" y2="774.8" stroke="#000" stroke-width="1" />
<line x1="152.22" y1="776.5" x2="152.22" y2="774.8" stroke="#000" stroke-width="1" />
<line x1="172.53" y1="776.5" x2="172.53" y2="774.8" stroke="#000" stroke-width="1" />
<line x1="192.84" y1="776.5" x2="192.84" y2="774.8" stroke="#000" stroke-width="1" />
<line x1="40.5" y1="756.21" x2="43.5" y2="756.21" stroke="#000" stroke-width="1" />
<line x1="40.5" y1="735.92" x2="43.5" y2="735.92" stroke="#000" stroke-width="1" />
<line x1="40.5" y1="715.64" x2="43.5" y2="715.64" stroke="#000" stroke-width="1" />
<line x1="40.5" y1="695.35" x2="43.5" y2="695.35" stroke="#000" stroke-width="1" />
<line x1="40.5" y1="675.06" x2="43.5" y2="675.06" stroke="#000" stroke-width="1" />
<line x1="40.5" y1="654.78" x2="43.5" y2="654.78" stroke="#000" stroke-width="1" />
<line x1="40.5" y1="634.49" x2="43.5" y2="634.49" stroke="#000" stroke-width="1" />
<line x1="40.5" y1="766.36" x2="42.2" y2="766.36" stroke="#000" stroke-width="1" />
<line x1="40.5" y1="746.07" x2="42.2" y2="746.07" stroke="#000" stroke-width="1" />
<line x1="40.5" y1="725.78" x2="42.2" y2="725.78" stroke="#000" stroke-width="1" />
<line x1="40.5" y1="705.49" x2="42.2" y2="705.49" stroke="#000" stroke-width="1" />
<line x1="40.5" y1="685.21" x2="42.2" y2="685.21" stroke="#000" stroke-width="1" />
<line x1="40.5" y1="664.92" x2="42.2" y2="664.92" stroke="#000" stroke-width="1" />
<line x1="40.5" y1="644.63" x2="42.2" y2="644.63" stroke="#000" stroke-width="1" />
<line x1="40.5" y1="624.34" x2="42.2" y2="624.34" stroke="#000" stroke-width="1" />
<text x="40.5" y="790.6" font-size="12" font-weight="bold" text-anchor="middle" fill="#000" >-20</text>
<text x="60.81" y="790.6" font-size="12" font-weight="bold" text-anchor="middle" fill="#000" >-15</text>
<text x="81.12" y="790.6" font-size="12" font-weight="bold" text-anchor="middle" fill="#000" >-10</text>
<text x="101.44" y="790.6" font-size="12" font-weight="bold" text-anchor="middle" fill="#000" >-5</text>
<text x="121.75" y="790.6" font-size="12" font-weight="bold" text-anchor="middle" fill="#000" >0</text>
<text x="142.06" y="790.6" font-size="12" font-weight="bold" text-anchor="middle" fill="#000" >5</text>
<text x="162.38" y="790.6" font-size="12" font-weight="bold" text-anchor="middle" fill="#000" >10</text>
<text x="182.69" y="790.6" font-size="12" font-weight="bold" text-anchor="middle" fill="#000" >15</text>
<text x="203" y="790.6" font-size="12" font-weight="bold" text-anchor="middle" fill="#000" >20</text>
<text x="35.8" y="780.7" font-size="12" font-weight="bold" text-anchor="end" fill="#000" >-20</text>
<text x="35.8" y="760.41" font-size="12" font-weight="bold" text-anchor="end" fill="#000" >-15</text>
<text x="35.8" y="740.12" font-size="12" font-weight="bold" text-anchor="end" fill="#000" >-10</text>
<text x="35.8" y="719.84" font-size="12" font-weight="bold" text-anchor="end" fill="#000" >-5</text>
<text x="35.8" y="699.55" font-size="12" font-weight="bold" text-anchor="end" fill="#000" >0</text>
<text x="35.8" y="679.26" font-size="12" font-weight="bold" text-anchor="end" fill="#000" >5</text>
<text x="35.8" y="658.98" font-size="12" font-weight="bold" text-anchor="end" fill="#000" >10</text>
<text x="35.8" y="638.69" font-size="12" font-weight="bold" text-anchor="end" fill="#000" >15</text>
<text x="35.8" y="618.4" font-size="12" font-weight="bold" text-anchor="end" fill="#000" >20</text>
<text x="49.4" y="629.75" font-size="15" font-weight="bold" text-anchor="start" fill="#000" >e</text>
<text x="49" y="646.22" font-size="10.9" font-weight="bold" text-anchor="start" fill="#e8692e" >RMSE (train):</text>
<text x="49" y="658.22" font-size="10.9" font-weight="bold" text-anchor="start" fill="#e8692e" >129.4 meV/Å</text>
<text x="49" y="672.62" font-size="10.9" font-weight="bold" text-anchor="start" fill="#878787" >RMSE (test):</text>
<text x="49" y="684.22" font-size="10.9" font-weight="bold" text-anchor="start" fill="#878787" >126.4 meV/Å</text>
<circle cx="108.8" cy="746" r="4.9" fill="#eea27c" fill-opacity="0.9"/>
<circle cx="108.8" cy="762.9" r="4.9" fill="#e8e8e8"/>
<text x="128.8" y="750.69" font-size="13.4" font-weight="bold" text-anchor="start" fill="#000" >force_train</text>
<text x="128.8" y="767.59" font-size="13.4" font-weight="bold" text-anchor="start" fill="#000" >force_test</text>
<text x="123" y="810.98" font-size="12.5" font-weight="bold" text-anchor="middle" fill="#000" >DFT&#160;&#160;(eV/Å)</text>
<text transform="translate(13.6 688.9) rotate(-90)" font-size="12.5" font-weight="bold" text-anchor="middle">NEP&#160;&#160;(eV/Å)</text>
<line x1="253.1" y1="626.65" x2="253.38" y2="626.65" stroke="#ea8a55" stroke-width="0.9" />
<line x1="253.1" y1="629.2" x2="253.45" y2="629.2" stroke="#ea8a55" stroke-width="0.9" />
<line x1="253.1" y1="631.75" x2="253.55" y2="631.75" stroke="#ea8a55" stroke-width="0.9" />
<line x1="253.1" y1="634.3" x2="253.67" y2="634.3" stroke="#ea8a55" stroke-width="0.9" />
<line x1="253.1" y1="636.85" x2="253.82" y2="636.85" stroke="#ea8a55" stroke-width="0.9" />
<line x1="253.1" y1="639.4" x2="254.01" y2="639.4" stroke="#ea8a55" stroke-width="0.9" />
<line x1="253.1" y1="641.95" x2="254.24" y2="641.95" stroke="#ea8a55" stroke-width="0.9" />
<line x1="253.1" y1="644.5" x2="254.54" y2="644.5" stroke="#ea8a55" stroke-width="0.9" />
<line x1="253.1" y1="647.05" x2="254.9" y2="647.05" stroke="#ea8a55" stroke-width="0.9" />
<line x1="253.1" y1="649.6" x2="255.35" y2="649.6" stroke="#ea8a55" stroke-width="0.9" />
<line x1="253.1" y1="652.15" x2="255.91" y2="652.15" stroke="#ea8a55" stroke-width="0.9" />
<line x1="253.1" y1="654.7" x2="256.6" y2="654.7" stroke="#ea8a55" stroke-width="0.9" />
<line x1="253.1" y1="657.25" x2="257.45" y2="657.25" stroke="#ea8a55" stroke-width="0.9" />
<line x1="253.1" y1="659.8" x2="258.49" y2="659.8" stroke="#ea8a55" stroke-width="0.9" />
<line x1="253.1" y1="662.35" x2="259.75" y2="662.35" stroke="#ea8a55" stroke-width="0.9" />
<line x1="253.1" y1="664.9" x2="261.29" y2="664.9" stroke="#ea8a55" stroke-width="0.9" />
<line x1="253.1" y1="667.45" x2="263.14" y2="667.45" stroke="#ea8a55" stroke-width="0.9" />
<line x1="253.1" y1="670" x2="265.37" y2="670" stroke="#ea8a55" stroke-width="0.9" />
<line x1="253.1" y1="672.55" x2="268.04" y2="672.55" stroke="#ea8a55" stroke-width="0.9" />
<line x1="253.1" y1="675.1" x2="271.2" y2="675.1" stroke="#ea8a55" stroke-width="0.9" />
<line x1="253.1" y1="677.65" x2="274.93" y2="677.65" stroke="#ea8a55" stroke-width="0.9" />
<line x1="253.1" y1="680.2" x2="279.29" y2="680.2" stroke="#ea8a55" stroke-width="0.9" />
<line x1="253.1" y1="682.75" x2="284.33" y2="682.75" stroke="#ea8a55" stroke-width="0.9" />
<line x1="253.1" y1="685.3" x2="290.08" y2="685.3" stroke="#ea8a55" stroke-width="0.9" />
<line x1="253.1" y1="687.85" x2="296.53" y2="687.85" stroke="#ea8a55" stroke-width="0.9" />
<line x1="253.1" y1="690.4" x2="303.57" y2="690.4" stroke="#ea8a55" stroke-width="0.9" />
<line x1="253.1" y1="692.95" x2="310.89" y2="692.95" stroke="#ea8a55" stroke-width="0.9" />
<line x1="253.1" y1="695.5" x2="317.25" y2="695.5" stroke="#ea8a55" stroke-width="0.9" />
<line x1="253.1" y1="698.05" x2="310.89" y2="698.05" stroke="#ea8a55" stroke-width="0.9" />
<line x1="253.1" y1="700.6" x2="303.57" y2="700.6" stroke="#ea8a55" stroke-width="0.9" />
<line x1="253.1" y1="703.15" x2="296.53" y2="703.15" stroke="#ea8a55" stroke-width="0.9" />
<line x1="253.1" y1="705.7" x2="290.08" y2="705.7" stroke="#ea8a55" stroke-width="0.9" />
<line x1="253.1" y1="708.25" x2="284.33" y2="708.25" stroke="#ea8a55" stroke-width="0.9" />
<line x1="253.1" y1="710.8" x2="279.29" y2="710.8" stroke="#ea8a55" stroke-width="0.9" />
<line x1="253.1" y1="713.35" x2="274.93" y2="713.35" stroke="#ea8a55" stroke-width="0.9" />
<line x1="253.1" y1="715.9" x2="271.2" y2="715.9" stroke="#ea8a55" stroke-width="0.9" />
<line x1="253.1" y1="718.45" x2="268.04" y2="718.45" stroke="#ea8a55" stroke-width="0.9" />
<line x1="253.1" y1="721" x2="265.37" y2="721" stroke="#ea8a55" stroke-width="0.9" />
<line x1="253.1" y1="723.55" x2="263.14" y2="723.55" stroke="#ea8a55" stroke-width="0.9" />
<line x1="253.1" y1="726.1" x2="261.29" y2="726.1" stroke="#ea8a55" stroke-width="0.9" />
<line x1="253.1" y1="728.65" x2="259.75" y2="728.65" stroke="#ea8a55" stroke-width="0.9" />
<line x1="253.1" y1="731.2" x2="258.49" y2="731.2" stroke="#ea8a55" stroke-width="0.9" />
<line x1="253.1" y1="733.75" x2="257.45" y2="733.75" stroke="#ea8a55" stroke-width="0.9" />
<line x1="253.1" y1="736.3" x2="256.6" y2="736.3" stroke="#ea8a55" stroke-width="0.9" />
<line x1="253.1" y1="738.85" x2="255.91" y2="738.85" stroke="#ea8a55" stroke-width="0.9" />
<line x1="253.1" y1="741.4" x2="255.35" y2="741.4" stroke="#ea8a55" stroke-width="0.9" />
<line x1="253.1" y1="743.95" x2="254.9" y2="743.95" stroke="#ea8a55" stroke-width="0.9" />
<line x1="253.1" y1="746.5" x2="254.54" y2="746.5" stroke="#ea8a55" stroke-width="0.9" />
<line x1="253.1" y1="749.05" x2="254.24" y2="749.05" stroke="#ea8a55" stroke-width="0.9" />
<line x1="253.1" y1="751.6" x2="254.01" y2="751.6" stroke="#ea8a55" stroke-width="0.9" />
<line x1="253.1" y1="754.15" x2="253.82" y2="754.15" stroke="#ea8a55" stroke-width="0.9" />
<line x1="253.1" y1="756.7" x2="253.67" y2="756.7" stroke="#ea8a55" stroke-width="0.9" />
<line x1="253.1" y1="759.25" x2="253.55" y2="759.25" stroke="#ea8a55" stroke-width="0.9" />
<line x1="253.1" y1="761.8" x2="253.45" y2="761.8" stroke="#ea8a55" stroke-width="0.9" />
<line x1="253.1" y1="764.35" x2="253.38" y2="764.35" stroke="#ea8a55" stroke-width="0.9" />
<polyline points="253.69,634.75 253.73,635.36 253.76,635.97 253.8,636.57 253.84,637.18 253.88,637.79 253.93,638.39 253.97,639 254.02,639.61 254.08,640.22 254.13,640.83 254.19,641.43 254.25,642.04 254.32,642.65 254.38,643.25 254.46,643.86 254.53,644.47 254.61,645.08 254.7,645.68 254.78,646.29 254.88,646.9 254.98,647.51 255.08,648.12 255.19,648.72 255.3,649.33 255.42,649.94 255.55,650.54 255.68,651.15 255.82,651.76 255.97,652.37 256.12,652.98 256.28,653.58 256.46,654.19 256.63,654.8 256.82,655.4 257.02,656.01 257.23,656.62 257.44,657.23 257.67,657.84 257.91,658.44 258.16,659.05 258.43,659.66 258.7,660.26 258.99,660.87 259.3,661.48 259.61,662.09 259.95,662.7 260.29,663.3 260.66,663.91 261.04,664.52 261.44,665.12 261.86,665.73 262.29,666.34 262.75,666.95 263.23,667.55 263.73,668.16 264.25,668.77 264.79,669.38 265.36,669.99 265.95,670.59 266.57,671.2 267.21,671.81 267.88,672.41 268.58,673.02 269.31,673.63 270.07,674.24 270.86,674.85 271.68,675.45 272.53,676.06 273.42,676.67 274.34,677.27 275.3,677.88 276.29,678.49 277.32,679.1 278.39,679.71 279.49,680.31 280.64,680.92 281.82,681.53 283.05,682.13 284.31,682.74 285.62,683.35 286.96,683.96 288.35,684.57 289.78,685.17 291.24,685.78 292.75,686.39 294.3,687 295.88,687.6 297.49,688.21 299.14,688.82 300.82,689.42 302.53,690.03 304.26,690.64 306,691.25 307.75,691.86 309.5,692.46 311.23,693.07 312.93,693.68 314.56,694.28 316.06,694.89 317.25,695.5 316.06,696.11 314.56,696.72 312.93,697.32 311.23,697.93 309.5,698.54 307.75,699.14 306,699.75 304.26,700.36 302.53,700.97 300.82,701.58 299.14,702.18 297.49,702.79 295.88,703.4 294.3,704 292.75,704.61 291.24,705.22 289.78,705.83 288.35,706.43 286.96,707.04 285.62,707.65 284.31,708.26 283.05,708.87 281.82,709.47 280.64,710.08 279.49,710.69 278.39,711.29 277.32,711.9 276.29,712.51 275.3,713.12 274.34,713.73 273.42,714.33 272.53,714.94 271.68,715.55 270.86,716.15 270.07,716.76 269.31,717.37 268.58,717.98 267.88,718.59 267.21,719.19 266.57,719.8 265.95,720.41 265.36,721.01 264.79,721.62 264.25,722.23 263.73,722.84 263.23,723.44 262.75,724.05 262.29,724.66 261.86,725.27 261.44,725.88 261.04,726.48 260.66,727.09 260.29,727.7 259.95,728.31 259.61,728.91 259.3,729.52 258.99,730.13 258.7,730.74 258.43,731.34 258.16,731.95 257.91,732.56 257.67,733.16 257.44,733.77 257.23,734.38 257.02,734.99 256.82,735.6 256.63,736.2 256.46,736.81 256.28,737.42 256.12,738.02 255.97,738.63 255.82,739.24 255.68,739.85 255.55,740.46 255.42,741.06 255.3,741.67 255.19,742.28 255.08,742.88 254.98,743.49 254.88,744.1 254.78,744.71 254.7,745.32 254.61,745.92 254.53,746.53 254.46,747.14 254.38,747.75 254.32,748.35 254.25,748.96 254.19,749.57 254.13,750.17 254.08,750.78 254.02,751.39 253.97,752 253.93,752.61 253.88,753.21 253.84,753.82 253.8,754.43 253.76,755.03 253.73,755.64 253.69,756.25" fill="none" stroke="#a8a8a8" stroke-width="1.2" stroke-linejoin="round" />
<polyline points="253.69,634.75 253.73,635.36 253.76,635.97 253.8,636.57 253.84,637.18 253.88,637.79 253.93,638.39 253.97,639 254.02,639.61 254.08,640.22 254.13,640.83 254.19,641.43 254.25,642.04 254.32,642.65 254.38,643.25 254.46,643.86 254.53,644.47 254.61,645.08 254.7,645.68 254.78,646.29 254.88,646.9 254.98,647.51 255.08,648.12 255.19,648.72 255.3,649.33 255.42,649.94 255.55,650.54 255.68,651.15 255.82,651.76 255.97,652.37 256.12,652.98 256.28,653.58 256.46,654.19 256.63,654.8 256.82,655.4 257.02,656.01 257.23,656.62 257.44,657.23 257.67,657.84 257.91,658.44 258.16,659.05 258.43,659.66 258.7,660.26 258.99,660.87 259.3,661.48 259.61,662.09 259.95,662.7 260.29,663.3 260.66,663.91 261.04,664.52 261.44,665.12 261.86,665.73 262.29,666.34 262.75,666.95 263.23,667.55 263.73,668.16 264.25,668.77 264.79,669.38 265.36,669.99 265.95,670.59 266.57,671.2 267.21,671.81 267.88,672.41 268.58,673.02 269.31,673.63 270.07,674.24 270.86,674.85 271.68,675.45 272.53,676.06 273.42,676.67 274.34,677.27 275.3,677.88 276.29,678.49 277.32,679.1 278.39,679.71 279.49,680.31 280.64,680.92 281.82,681.53 283.05,682.13 284.31,682.74 285.62,683.35 286.96,683.96 288.35,684.57 289.78,685.17 291.24,685.78 292.75,686.39 294.3,687 295.88,687.6 297.49,688.21 299.14,688.82 300.82,689.42 302.53,690.03 304.26,690.64 306,691.25 307.75,691.86 309.5,692.46 311.23,693.07 312.93,693.68 314.56,694.28 316.06,694.89 317.25,695.5 316.06,696.11 314.56,696.72 312.93,697.32 311.23,697.93 309.5,698.54 307.75,699.14 306,699.75 304.26,700.36 302.53,700.97 300.82,701.58 299.14,702.18 297.49,702.79 295.88,703.4 294.3,704 292.75,704.61 291.24,705.22 289.78,705.83 288.35,706.43 286.96,707.04 285.62,707.65 284.31,708.26 283.05,708.87 281.82,709.47 280.64,710.08 279.49,710.69 278.39,711.29 277.32,711.9 276.29,712.51 275.3,713.12 274.34,713.73 273.42,714.33 272.53,714.94 271.68,715.55 270.86,716.15 270.07,716.76 269.31,717.37 268.58,717.98 267.88,718.59 267.21,719.19 266.57,719.8 265.95,720.41 265.36,721.01 264.79,721.62 264.25,722.23 263.73,722.84 263.23,723.44 262.75,724.05 262.29,724.66 261.86,725.27 261.44,725.88 261.04,726.48 260.66,727.09 260.29,727.7 259.95,728.31 259.61,728.91 259.3,729.52 258.99,730.13 258.7,730.74 258.43,731.34 258.16,731.95 257.91,732.56 257.67,733.16 257.44,733.77 257.23,734.38 257.02,734.99 256.82,735.6 256.63,736.2 256.46,736.81 256.28,737.42 256.12,738.02 255.97,738.63 255.82,739.24 255.68,739.85 255.55,740.46 255.42,741.06 255.3,741.67 255.19,742.28 255.08,742.88 254.98,743.49 254.88,744.1 254.78,744.71 254.7,745.32 254.61,745.92 254.53,746.53 254.46,747.14 254.38,747.75 254.32,748.35 254.25,748.96 254.19,749.57 254.13,750.17 254.08,750.78 254.02,751.39 253.97,752 253.93,752.61 253.88,753.21 253.84,753.82 253.8,754.43 253.76,755.03 253.73,755.64 253.69,756.25" fill="none" stroke="#e8692e" stroke-width="1.4" stroke-linejoin="round" stroke-dasharray="4 3"/>
<rect x="253.1" y="614.5" width="81.2" height="162" fill="none" stroke="#000" stroke-width="1.3"/>
<line x1="273.4" y1="776.5" x2="273.4" y2="773.5" stroke="#000" stroke-width="1" />
<line x1="293.7" y1="776.5" x2="293.7" y2="773.5" stroke="#000" stroke-width="1" />
<line x1="314" y1="776.5" x2="314" y2="773.5" stroke="#000" stroke-width="1" />
<line x1="263.25" y1="776.5" x2="263.25" y2="774.8" stroke="#000" stroke-width="1" />
<line x1="283.55" y1="776.5" x2="283.55" y2="774.8" stroke="#000" stroke-width="1" />
<line x1="303.85" y1="776.5" x2="303.85" y2="774.8" stroke="#000" stroke-width="1" />
<line x1="324.15" y1="776.5" x2="324.15" y2="774.8" stroke="#000" stroke-width="1" />
<line x1="253.1" y1="634.75" x2="256.1" y2="634.75" stroke="#000" stroke-width="1" />
<line x1="253.1" y1="655" x2="256.1" y2="655" stroke="#000" stroke-width="1" />
<line x1="253.1" y1="675.25" x2="256.1" y2="675.25" stroke="#000" stroke-width="1" />
<line x1="253.1" y1="695.5" x2="256.1" y2="695.5" stroke="#000" stroke-width="1" />
<line x1="253.1" y1="715.75" x2="256.1" y2="715.75" stroke="#000" stroke-width="1" />
<line x1="253.1" y1="736" x2="256.1" y2="736" stroke="#000" stroke-width="1" />
<line x1="253.1" y1="756.25" x2="256.1" y2="756.25" stroke="#000" stroke-width="1" />
<line x1="253.1" y1="624.62" x2="254.8" y2="624.62" stroke="#000" stroke-width="1" />
<line x1="253.1" y1="644.88" x2="254.8" y2="644.88" stroke="#000" stroke-width="1" />
<line x1="253.1" y1="665.12" x2="254.8" y2="665.12" stroke="#000" stroke-width="1" />
<line x1="253.1" y1="685.38" x2="254.8" y2="685.38" stroke="#000" stroke-width="1" />
<line x1="253.1" y1="705.62" x2="254.8" y2="705.62" stroke="#000" stroke-width="1" />
<line x1="253.1" y1="725.88" x2="254.8" y2="725.88" stroke="#000" stroke-width="1" />
<line x1="253.1" y1="746.12" x2="254.8" y2="746.12" stroke="#000" stroke-width="1" />
<line x1="253.1" y1="766.38" x2="254.8" y2="766.38" stroke="#000" stroke-width="1" />
<text x="248.4" y="618.7" font-size="12" font-weight="bold" text-anchor="end" fill="#000" >1.00</text>
<text x="248.4" y="638.95" font-size="12" font-weight="bold" text-anchor="end" fill="#000" >0.75</text>
<text x="248.4" y="659.2" font-size="12" font-weight="bold" text-anchor="end" fill="#000" >0.50</text>
<text x="248.4" y="679.45" font-size="12" font-weight="bold" text-anchor="end" fill="#000" >0.25</text>
<text x="248.4" y="699.7" font-size="12" font-weight="bold" text-anchor="end" fill="#000" >0.00</text>
<text x="248.4" y="719.95" font-size="12" font-weight="bold" text-anchor="end" fill="#000" >-0.25</text>
<text x="248.4" y="740.2" font-size="12" font-weight="bold" text-anchor="end" fill="#000" >-0.50</text>
<text x="248.4" y="760.45" font-size="12" font-weight="bold" text-anchor="end" fill="#000" >-0.75</text>
<text x="248.4" y="780.7" font-size="12" font-weight="bold" text-anchor="end" fill="#000" >-1.00</text>
<text x="253.1" y="791.2" font-size="12" font-weight="bold" text-anchor="middle" fill="#000" >0</text>
<text x="273.4" y="791.2" font-size="12" font-weight="bold" text-anchor="middle" fill="#000" >1</text>
<text x="293.7" y="791.2" font-size="12" font-weight="bold" text-anchor="middle" fill="#000" >2</text>
<text x="314" y="791.2" font-size="12" font-weight="bold" text-anchor="middle" fill="#000" >3</text>
<text x="334.3" y="791.2" font-size="12" font-weight="bold" text-anchor="middle" fill="#000" >4</text>
<text x="259.6" y="629.2" font-size="15" font-weight="bold" text-anchor="start" fill="#000" >f</text>
<text x="268" y="743.7" font-size="10.6" font-weight="bold" fill="#e8692e">R<tspan font-size="7" dy="-4">2</tspan><tspan font-size="7" dy="6">train</tspan><tspan dy="-2">:&#160;&#160;0.98</tspan></text>
<text x="268" y="756.9" font-size="10.6" font-weight="bold" fill="#878787">R<tspan font-size="7" dy="-4">2</tspan><tspan font-size="7" dy="6">test</tspan><tspan dy="-2">&#160;&#160;: 0.98</tspan></text>
<text transform="translate(215.2 688.5) rotate(-90)" font-size="12.5" font-weight="bold" text-anchor="middle">Force error (eV/Å)</text>
<text x="293.3" y="811.84" font-size="12.4" font-weight="bold" text-anchor="middle" fill="#000" >Probability density</text>
<clipPath id="clipg"><rect x="381.8" y="615.0" width="162.59999999999997" height="162.0"/></clipPath>
<g clip-path="url(#clipg)">
<line x1="381.8" y1="777" x2="544.4" y2="615" stroke="#e3a857" stroke-width="1.1" stroke-dasharray="5 2.5 1.5 2.5"/>
<g>
<circle cx="411.55" cy="747.1" r="4.7" fill="#e8692e"/>
<circle cx="411.6" cy="747.32" r="4.7" fill="#e8692e"/>
<circle cx="411.96" cy="746.17" r="4.7" fill="#e8692e"/>
<circle cx="413.95" cy="744.93" r="4.7" fill="#e8692e"/>
<circle cx="413.97" cy="745.22" r="4.7" fill="#e8692e"/>
<circle cx="413.72" cy="744.27" r="4.7" fill="#e8692e"/>
<circle cx="415.35" cy="743.82" r="4.7" fill="#e8692e"/>
<circle cx="415.95" cy="742.78" r="4.7" fill="#e8692e"/>
<circle cx="415.74" cy="742.14" r="4.7" fill="#e8692e"/>
<circle cx="416.74" cy="742.87" r="4.7" fill="#e8692e"/>
<circle cx="417.44" cy="742.06" r="4.7" fill="#e8692e"/>
<circle cx="417.68" cy="741.45" r="4.7" fill="#e8692e"/>
<circle cx="417.79" cy="740.15" r="4.7" fill="#e8692e"/>
<circle cx="419.28" cy="740.28" r="4.7" fill="#e8692e"/>
<circle cx="419.44" cy="738.69" r="4.7" fill="#e8692e"/>
<circle cx="419.76" cy="738.32" r="5.4" fill="#e8692e"/>
<circle cx="420.35" cy="738.71" r="5.4" fill="#e8692e"/>
<circle cx="420.79" cy="738.27" r="5.4" fill="#e8692e"/>
<circle cx="422.45" cy="736.37" r="5.4" fill="#e8692e"/>
<circle cx="422.22" cy="736.5" r="5.4" fill="#e8692e"/>
<circle cx="422.21" cy="735.82" r="5.4" fill="#e8692e"/>
<circle cx="424.2" cy="734.76" r="5.4" fill="#e8692e"/>
<circle cx="424.27" cy="734.2" r="5.4" fill="#e8692e"/>
<circle cx="424.81" cy="734.87" r="5.4" fill="#e8692e"/>
<circle cx="424.78" cy="732.89" r="5.4" fill="#e8692e"/>
<circle cx="425.15" cy="733.17" r="5.4" fill="#e8692e"/>
<circle cx="425.62" cy="731.87" r="5.4" fill="#e8692e"/>
<circle cx="426.95" cy="732.64" r="5.4" fill="#e8692e"/>
<circle cx="427.4" cy="731.24" r="5.4" fill="#e8692e"/>
<circle cx="428.31" cy="730.19" r="5.4" fill="#e8692e"/>
<circle cx="428.79" cy="729.74" r="5.4" fill="#e8692e"/>
<circle cx="429.4" cy="730.43" r="5.4" fill="#e8692e"/>
<circle cx="429.08" cy="729.22" r="5.4" fill="#e8692e"/>
<circle cx="430.54" cy="728" r="5.4" fill="#e8692e"/>
<circle cx="430.56" cy="728.79" r="5.4" fill="#e8692e"/>
<circle cx="432.3" cy="726.82" r="5.4" fill="#e8692e"/>
<circle cx="432.4" cy="727.58" r="5.4" fill="#e8692e"/>
<circle cx="432.22" cy="726.47" r="5.4" fill="#e8692e"/>
<circle cx="432.48" cy="725.51" r="5.4" fill="#e8692e"/>
<circle cx="434.05" cy="725.3" r="5.4" fill="#e8692e"/>
<circle cx="434.78" cy="723.93" r="5.4" fill="#e8692e"/>
<circle cx="434.67" cy="724.61" r="5.4" fill="#e8692e"/>
<circle cx="435.62" cy="723.38" r="5.4" fill="#e8692e"/>
<circle cx="435.89" cy="723.67" r="5.4" fill="#e8692e"/>
<circle cx="436.74" cy="721.55" r="5.4" fill="#e8692e"/>
<circle cx="437.67" cy="721.48" r="5.4" fill="#e8692e"/>
<circle cx="437.65" cy="720.73" r="5.4" fill="#e8692e"/>
<circle cx="438.23" cy="720.34" r="5.4" fill="#e8692e"/>
<circle cx="438.23" cy="720.26" r="5.4" fill="#e8692e"/>
<circle cx="438.82" cy="719.94" r="5.4" fill="#e8692e"/>
<circle cx="439.27" cy="719.36" r="5.4" fill="#e8692e"/>
<circle cx="441.09" cy="718.34" r="5.4" fill="#e8692e"/>
<circle cx="441.5" cy="717.38" r="5.4" fill="#e8692e"/>
<circle cx="442.11" cy="717.09" r="5.4" fill="#e8692e"/>
<circle cx="441.87" cy="717.39" r="5.4" fill="#e8692e"/>
<circle cx="442.71" cy="715.87" r="5.4" fill="#e8692e"/>
<circle cx="444.01" cy="715.3" r="5.4" fill="#e8692e"/>
<circle cx="444.27" cy="714.41" r="5.4" fill="#e8692e"/>
<circle cx="445.12" cy="713.99" r="5.4" fill="#e8692e"/>
<circle cx="444.42" cy="714.56" r="5.4" fill="#e8692e"/>
<circle cx="445.19" cy="713.95" r="5.4" fill="#e8692e"/>
<circle cx="447.06" cy="712.84" r="5.4" fill="#e8692e"/>
<circle cx="446.07" cy="711.4" r="6.4" fill="#e8692e"/>
<circle cx="446.95" cy="711.36" r="6.4" fill="#e8692e"/>
<circle cx="448.16" cy="711.71" r="6.4" fill="#e8692e"/>
<circle cx="448.32" cy="709.82" r="6.4" fill="#e8692e"/>
<circle cx="449.22" cy="709.25" r="6.4" fill="#e8692e"/>
<circle cx="449.03" cy="709.35" r="6.4" fill="#e8692e"/>
<circle cx="450.57" cy="708" r="6.4" fill="#e8692e"/>
<circle cx="450.75" cy="708.45" r="6.4" fill="#e8692e"/>
<circle cx="451.82" cy="707.37" r="6.4" fill="#e8692e"/>
<circle cx="452.58" cy="706.46" r="6.4" fill="#e8692e"/>
<circle cx="452.88" cy="706.86" r="6.4" fill="#e8692e"/>
<circle cx="453.71" cy="705.85" r="6.4" fill="#e8692e"/>
<circle cx="453.03" cy="704.57" r="6.4" fill="#e8692e"/>
<circle cx="454.28" cy="704.2" r="6.4" fill="#e8692e"/>
<circle cx="455.01" cy="703.49" r="6.4" fill="#e8692e"/>
<circle cx="455.82" cy="703.14" r="6.4" fill="#e8692e"/>
<circle cx="455.16" cy="702.5" r="6.4" fill="#e8692e"/>
<circle cx="456.44" cy="702.54" r="6.4" fill="#e8692e"/>
<circle cx="456.9" cy="701.36" r="6.4" fill="#e8692e"/>
<circle cx="457.62" cy="702.03" r="6.4" fill="#e8692e"/>
<circle cx="458.27" cy="701.45" r="6.4" fill="#e8692e"/>
<circle cx="458.03" cy="700.97" r="6.4" fill="#e8692e"/>
<circle cx="459.98" cy="699.68" r="6.4" fill="#e8692e"/>
<circle cx="459.96" cy="699.1" r="6.4" fill="#e8692e"/>
<circle cx="461.14" cy="697.78" r="6.4" fill="#e8692e"/>
<circle cx="461.29" cy="697.97" r="6.4" fill="#e8692e"/>
<circle cx="461.31" cy="697.7" r="6.4" fill="#e8692e"/>
<circle cx="462.55" cy="696.14" r="6.4" fill="#e8692e"/>
<circle cx="463.08" cy="696.13" r="6.4" fill="#e8692e"/>
<circle cx="463.32" cy="695.86" r="6.4" fill="#e8692e"/>
<circle cx="463.18" cy="695.23" r="6.4" fill="#e8692e"/>
<circle cx="464.27" cy="695.11" r="6.4" fill="#e8692e"/>
<circle cx="464.61" cy="694.45" r="6.4" fill="#e8692e"/>
<circle cx="465.97" cy="693.57" r="6.4" fill="#e8692e"/>
<circle cx="466.77" cy="692.06" r="6.4" fill="#e8692e"/>
<circle cx="466.9" cy="692.41" r="6.4" fill="#e8692e"/>
<circle cx="467.59" cy="691.51" r="6.4" fill="#e8692e"/>
<circle cx="467.19" cy="690.6" r="6.4" fill="#e8692e"/>
<circle cx="468.62" cy="690.02" r="6.4" fill="#e8692e"/>
<circle cx="468.32" cy="689.73" r="6.4" fill="#e8692e"/>
<circle cx="469.54" cy="689.45" r="6.4" fill="#e8692e"/>
<circle cx="469.39" cy="689.26" r="6.4" fill="#e8692e"/>
<circle cx="470.45" cy="688.71" r="6.4" fill="#e8692e"/>
<circle cx="470.5" cy="688.41" r="6.4" fill="#e8692e"/>
<circle cx="472" cy="687.88" r="6.4" fill="#e8692e"/>
<circle cx="473.2" cy="687.09" r="6.4" fill="#e8692e"/>
<circle cx="472.36" cy="685.74" r="6.4" fill="#e8692e"/>
<circle cx="473.13" cy="685.87" r="6.4" fill="#e8692e"/>
<circle cx="473.64" cy="684.4" r="6.4" fill="#e8692e"/>
<circle cx="474.08" cy="683.67" r="6.4" fill="#e8692e"/>
<circle cx="475.97" cy="684.48" r="6.4" fill="#e8692e"/>
<circle cx="475.63" cy="683.53" r="6.4" fill="#e8692e"/>
<circle cx="476.35" cy="682.61" r="6.4" fill="#e8692e"/>
<circle cx="476.76" cy="682.23" r="6.4" fill="#e8692e"/>
<circle cx="477.12" cy="681.05" r="6.4" fill="#e8692e"/>
<circle cx="478.14" cy="680.39" r="6.4" fill="#e8692e"/>
<circle cx="478.58" cy="681.02" r="6.4" fill="#e8692e"/>
<circle cx="478.48" cy="679.11" r="6.4" fill="#e8692e"/>
<circle cx="480.29" cy="678.46" r="6.4" fill="#e8692e"/>
<circle cx="479.98" cy="679.17" r="6.4" fill="#e8692e"/>
<circle cx="481.12" cy="677.59" r="6.4" fill="#e8692e"/>
<circle cx="480.81" cy="677.11" r="6.4" fill="#e8692e"/>
<circle cx="481.77" cy="677.38" r="6.4" fill="#e8692e"/>
<circle cx="483.42" cy="676.79" r="6.4" fill="#e8692e"/>
<circle cx="483.87" cy="676.46" r="6.4" fill="#e8692e"/>
<circle cx="484.4" cy="675.87" r="6.4" fill="#e8692e"/>
<circle cx="485.11" cy="673.98" r="6.4" fill="#e8692e"/>
<circle cx="484.64" cy="673.66" r="6.4" fill="#e8692e"/>
<circle cx="485.66" cy="673.48" r="6.4" fill="#e8692e"/>
<circle cx="485.82" cy="673.47" r="6.4" fill="#e8692e"/>
<circle cx="486.47" cy="671.89" r="6.4" fill="#e8692e"/>
<circle cx="486.85" cy="671.73" r="6.4" fill="#e8692e"/>
<circle cx="487.95" cy="671.33" r="6.4" fill="#e8692e"/>
<circle cx="488.24" cy="670.15" r="6.4" fill="#e8692e"/>
<circle cx="488.75" cy="669.81" r="6.4" fill="#e8692e"/>
<circle cx="488.95" cy="669.59" r="6.4" fill="#e8692e"/>
<circle cx="489.55" cy="669.29" r="6.4" fill="#e8692e"/>
<circle cx="490.87" cy="667.81" r="6.4" fill="#e8692e"/>
<circle cx="491.38" cy="667.56" r="6.4" fill="#e8692e"/>
<circle cx="491.67" cy="667.42" r="6.4" fill="#e8692e"/>
<circle cx="492.74" cy="667.3" r="6.4" fill="#e8692e"/>
<circle cx="493.26" cy="665.65" r="6.4" fill="#e8692e"/>
<circle cx="493.52" cy="665.28" r="6.4" fill="#e8692e"/>
<circle cx="493.25" cy="665.06" r="6.4" fill="#e8692e"/>
<circle cx="494.54" cy="665" r="6.4" fill="#e8692e"/>
<circle cx="494.88" cy="664.38" r="6.4" fill="#e8692e"/>
<circle cx="495.75" cy="662.63" r="6.4" fill="#e8692e"/>
<circle cx="496.64" cy="662.36" r="6.4" fill="#e8692e"/>
<circle cx="496.92" cy="661.45" r="6.4" fill="#e8692e"/>
<circle cx="496.65" cy="662.25" r="6.4" fill="#e8692e"/>
<circle cx="497.27" cy="660.44" r="6.4" fill="#e8692e"/>
<circle cx="498.03" cy="659.79" r="6.4" fill="#e8692e"/>
<circle cx="499.66" cy="660.66" r="6.4" fill="#e8692e"/>
<circle cx="499.95" cy="659.13" r="5.1" fill="#e8692e"/>
<circle cx="500.9" cy="658.74" r="5.1" fill="#e8692e"/>
<circle cx="500.26" cy="658.47" r="5.1" fill="#e8692e"/>
<circle cx="501.19" cy="657.23" r="5.1" fill="#e8692e"/>
<circle cx="501.69" cy="656.85" r="5.1" fill="#e8692e"/>
<circle cx="502.04" cy="656.64" r="5.1" fill="#e8692e"/>
<circle cx="503.71" cy="656.01" r="5.1" fill="#e8692e"/>
<circle cx="502.9" cy="655.62" r="5.1" fill="#e8692e"/>
<circle cx="503.49" cy="654.73" r="5.1" fill="#e8692e"/>
<circle cx="505.41" cy="654.48" r="5.1" fill="#e8692e"/>
<circle cx="506.04" cy="654.03" r="6.8" fill="#e8692e"/>
<circle cx="505.6" cy="652.49" r="6.8" fill="#e8692e"/>
<circle cx="506.45" cy="652.78" r="6.8" fill="#e8692e"/>
<circle cx="506.67" cy="651.65" r="6.8" fill="#e8692e"/>
<circle cx="508.06" cy="651.11" r="6.8" fill="#e8692e"/>
<circle cx="508.39" cy="650.86" r="6.8" fill="#e8692e"/>
<circle cx="509.49" cy="649.46" r="6.8" fill="#e8692e"/>
<circle cx="508.87" cy="650.1" r="6.8" fill="#e8692e"/>
<circle cx="510.21" cy="648.44" r="6.8" fill="#e8692e"/>
<circle cx="509.92" cy="648.05" r="6.8" fill="#e8692e"/>
<circle cx="511.14" cy="648.59" r="6.8" fill="#e8692e"/>
<circle cx="511.19" cy="646.9" r="6.8" fill="#e8692e"/>
<circle cx="512.51" cy="646.69" r="6.8" fill="#e8692e"/>
<circle cx="513.33" cy="647.04" r="6.8" fill="#e8692e"/>
<circle cx="514.05" cy="646.02" r="6.8" fill="#e8692e"/>
<circle cx="513.91" cy="644.41" r="6.8" fill="#e8692e"/>
<circle cx="514.98" cy="644.38" r="6.8" fill="#e8692e"/>
<circle cx="514.99" cy="644.18" r="6.8" fill="#e8692e"/>
<circle cx="516.36" cy="643.5" r="6.8" fill="#e8692e"/>
<circle cx="516.86" cy="643.58" r="6.8" fill="#e8692e"/>
<circle cx="516.76" cy="642.27" r="6.8" fill="#e8692e"/>
<circle cx="411.55" cy="747.1" r="3.2" fill="#bbbbbb"/>
<circle cx="411.6" cy="747.32" r="3.2" fill="#bbbbbb"/>
<circle cx="411.96" cy="746.17" r="3.2" fill="#bbbbbb"/>
<circle cx="413.95" cy="744.93" r="3.2" fill="#bbbbbb"/>
<circle cx="413.97" cy="745.22" r="3.2" fill="#bbbbbb"/>
<circle cx="413.72" cy="744.27" r="3.2" fill="#bbbbbb"/>
<circle cx="415.35" cy="743.82" r="3.2" fill="#bbbbbb"/>
<circle cx="415.95" cy="742.78" r="3.2" fill="#bbbbbb"/>
<circle cx="415.74" cy="742.14" r="3.2" fill="#bbbbbb"/>
<circle cx="416.74" cy="742.87" r="3.2" fill="#bbbbbb"/>
<circle cx="417.44" cy="742.06" r="3.2" fill="#bbbbbb"/>
<circle cx="417.68" cy="741.45" r="3.2" fill="#bbbbbb"/>
<circle cx="417.79" cy="740.15" r="3.2" fill="#bbbbbb"/>
<circle cx="419.28" cy="740.28" r="3.2" fill="#bbbbbb"/>
<circle cx="419.44" cy="738.69" r="3.2" fill="#bbbbbb"/>
<circle cx="419.76" cy="738.32" r="3.9" fill="#bbbbbb"/>
<circle cx="420.35" cy="738.71" r="3.9" fill="#bbbbbb"/>
<circle cx="420.79" cy="738.27" r="3.9" fill="#bbbbbb"/>
<circle cx="422.45" cy="736.37" r="3.9" fill="#bbbbbb"/>
<circle cx="422.22" cy="736.5" r="3.9" fill="#bbbbbb"/>
<circle cx="422.21" cy="735.82" r="3.9" fill="#bbbbbb"/>
<circle cx="424.2" cy="734.76" r="3.9" fill="#bbbbbb"/>
<circle cx="424.27" cy="734.2" r="3.9" fill="#bbbbbb"/>
<circle cx="424.81" cy="734.87" r="3.9" fill="#bbbbbb"/>
<circle cx="424.78" cy="732.89" r="3.9" fill="#bbbbbb"/>
<circle cx="425.15" cy="733.17" r="3.9" fill="#bbbbbb"/>
<circle cx="425.62" cy="731.87" r="3.9" fill="#bbbbbb"/>
<circle cx="426.95" cy="732.64" r="3.9" fill="#bbbbbb"/>
<circle cx="427.4" cy="731.24" r="3.9" fill="#bbbbbb"/>
<circle cx="428.31" cy="730.19" r="3.9" fill="#bbbbbb"/>
<circle cx="428.79" cy="729.74" r="3.9" fill="#bbbbbb"/>
<circle cx="429.4" cy="730.43" r="3.9" fill="#bbbbbb"/>
<circle cx="429.08" cy="729.22" r="3.9" fill="#bbbbbb"/>
<circle cx="430.54" cy="728" r="3.9" fill="#bbbbbb"/>
<circle cx="430.56" cy="728.79" r="3.9" fill="#bbbbbb"/>
<circle cx="432.3" cy="726.82" r="3.9" fill="#bbbbbb"/>
<circle cx="432.4" cy="727.58" r="3.9" fill="#bbbbbb"/>
<circle cx="432.22" cy="726.47" r="3.9" fill="#bbbbbb"/>
<circle cx="432.48" cy="725.51" r="3.9" fill="#bbbbbb"/>
<circle cx="434.05" cy="725.3" r="3.9" fill="#bbbbbb"/>
<circle cx="434.78" cy="723.93" r="3.9" fill="#bbbbbb"/>
<circle cx="434.67" cy="724.61" r="3.9" fill="#bbbbbb"/>
<circle cx="435.62" cy="723.38" r="3.9" fill="#bbbbbb"/>
<circle cx="435.89" cy="723.67" r="3.9" fill="#bbbbbb"/>
<circle cx="436.74" cy="721.55" r="3.9" fill="#bbbbbb"/>
<circle cx="437.67" cy="721.48" r="3.9" fill="#bbbbbb"/>
<circle cx="437.65" cy="720.73" r="3.9" fill="#bbbbbb"/>
<circle cx="438.23" cy="720.34" r="3.9" fill="#bbbbbb"/>
<circle cx="438.23" cy="720.26" r="3.9" fill="#bbbbbb"/>
<circle cx="438.82" cy="719.94" r="3.9" fill="#bbbbbb"/>
<circle cx="439.27" cy="719.36" r="3.9" fill="#bbbbbb"/>
<circle cx="441.09" cy="718.34" r="3.9" fill="#bbbbbb"/>
<circle cx="441.5" cy="717.38" r="3.9" fill="#bbbbbb"/>
<circle cx="442.11" cy="717.09" r="3.9" fill="#bbbbbb"/>
<circle cx="441.87" cy="717.39" r="3.9" fill="#bbbbbb"/>
<circle cx="442.71" cy="715.87" r="3.9" fill="#bbbbbb"/>
<circle cx="444.01" cy="715.3" r="3.9" fill="#bbbbbb"/>
<circle cx="444.27" cy="714.41" r="3.9" fill="#bbbbbb"/>
<circle cx="445.12" cy="713.99" r="3.9" fill="#bbbbbb"/>
<circle cx="444.42" cy="714.56" r="3.9" fill="#bbbbbb"/>
<circle cx="445.19" cy="713.95" r="3.9" fill="#bbbbbb"/>
<circle cx="447.06" cy="712.84" r="3.9" fill="#bbbbbb"/>
<circle cx="446.07" cy="711.4" r="4.9" fill="#bbbbbb"/>
<circle cx="446.95" cy="711.36" r="4.9" fill="#bbbbbb"/>
<circle cx="448.16" cy="711.71" r="4.9" fill="#bbbbbb"/>
<circle cx="448.32" cy="709.82" r="4.9" fill="#bbbbbb"/>
<circle cx="449.22" cy="709.25" r="4.9" fill="#bbbbbb"/>
<circle cx="449.03" cy="709.35" r="4.9" fill="#bbbbbb"/>
<circle cx="450.57" cy="708" r="4.9" fill="#bbbbbb"/>
<circle cx="450.75" cy="708.45" r="4.9" fill="#bbbbbb"/>
<circle cx="451.82" cy="707.37" r="4.9" fill="#bbbbbb"/>
<circle cx="452.58" cy="706.46" r="4.9" fill="#bbbbbb"/>
<circle cx="452.88" cy="706.86" r="4.9" fill="#bbbbbb"/>
<circle cx="453.71" cy="705.85" r="4.9" fill="#bbbbbb"/>
<circle cx="453.03" cy="704.57" r="4.9" fill="#bbbbbb"/>
<circle cx="454.28" cy="704.2" r="4.9" fill="#bbbbbb"/>
<circle cx="455.01" cy="703.49" r="4.9" fill="#bbbbbb"/>
<circle cx="455.82" cy="703.14" r="4.9" fill="#bbbbbb"/>
<circle cx="455.16" cy="702.5" r="4.9" fill="#bbbbbb"/>
<circle cx="456.44" cy="702.54" r="4.9" fill="#bbbbbb"/>
<circle cx="456.9" cy="701.36" r="4.9" fill="#bbbbbb"/>
<circle cx="457.62" cy="702.03" r="4.9" fill="#bbbbbb"/>
<circle cx="458.27" cy="701.45" r="4.9" fill="#bbbbbb"/>
<circle cx="458.03" cy="700.97" r="4.9" fill="#bbbbbb"/>
<circle cx="459.98" cy="699.68" r="4.9" fill="#bbbbbb"/>
<circle cx="459.96" cy="699.1" r="4.9" fill="#bbbbbb"/>
<circle cx="461.14" cy="697.78" r="4.9" fill="#bbbbbb"/>
<circle cx="461.29" cy="697.97" r="4.9" fill="#bbbbbb"/>
<circle cx="461.31" cy="697.7" r="4.9" fill="#bbbbbb"/>
<circle cx="462.55" cy="696.14" r="4.9" fill="#bbbbbb"/>
<circle cx="463.08" cy="696.13" r="4.9" fill="#bbbbbb"/>
<circle cx="463.32" cy="695.86" r="4.9" fill="#bbbbbb"/>
<circle cx="463.18" cy="695.23" r="4.9" fill="#bbbbbb"/>
<circle cx="464.27" cy="695.11" r="4.9" fill="#bbbbbb"/>
<circle cx="464.61" cy="694.45" r="4.9" fill="#bbbbbb"/>
<circle cx="465.97" cy="693.57" r="4.9" fill="#bbbbbb"/>
<circle cx="466.77" cy="692.06" r="4.9" fill="#bbbbbb"/>
<circle cx="466.9" cy="692.41" r="4.9" fill="#bbbbbb"/>
<circle cx="467.59" cy="691.51" r="4.9" fill="#bbbbbb"/>
<circle cx="467.19" cy="690.6" r="4.9" fill="#bbbbbb"/>
<circle cx="468.62" cy="690.02" r="4.9" fill="#bbbbbb"/>
<circle cx="468.32" cy="689.73" r="4.9" fill="#bbbbbb"/>
<circle cx="469.54" cy="689.45" r="4.9" fill="#bbbbbb"/>
<circle cx="469.39" cy="689.26" r="4.9" fill="#bbbbbb"/>
<circle cx="470.45" cy="688.71" r="4.9" fill="#bbbbbb"/>
<circle cx="470.5" cy="688.41" r="4.9" fill="#bbbbbb"/>
<circle cx="472" cy="687.88" r="4.9" fill="#bbbbbb"/>
<circle cx="473.2" cy="687.09" r="4.9" fill="#bbbbbb"/>
<circle cx="472.36" cy="685.74" r="4.9" fill="#bbbbbb"/>
<circle cx="473.13" cy="685.87" r="4.9" fill="#bbbbbb"/>
<circle cx="473.64" cy="684.4" r="4.9" fill="#bbbbbb"/>
<circle cx="474.08" cy="683.67" r="4.9" fill="#bbbbbb"/>
<circle cx="475.97" cy="684.48" r="4.9" fill="#bbbbbb"/>
<circle cx="475.63" cy="683.53" r="4.9" fill="#bbbbbb"/>
<circle cx="476.35" cy="682.61" r="4.9" fill="#bbbbbb"/>
<circle cx="476.76" cy="682.23" r="4.9" fill="#bbbbbb"/>
<circle cx="477.12" cy="681.05" r="4.9" fill="#bbbbbb"/>
<circle cx="478.14" cy="680.39" r="4.9" fill="#bbbbbb"/>
<circle cx="478.58" cy="681.02" r="4.9" fill="#bbbbbb"/>
<circle cx="478.48" cy="679.11" r="4.9" fill="#bbbbbb"/>
<circle cx="480.29" cy="678.46" r="4.9" fill="#bbbbbb"/>
<circle cx="479.98" cy="679.17" r="4.9" fill="#bbbbbb"/>
<circle cx="481.12" cy="677.59" r="4.9" fill="#bbbbbb"/>
<circle cx="480.81" cy="677.11" r="4.9" fill="#bbbbbb"/>
<circle cx="481.77" cy="677.38" r="4.9" fill="#bbbbbb"/>
<circle cx="483.42" cy="676.79" r="4.9" fill="#bbbbbb"/>
<circle cx="483.87" cy="676.46" r="4.9" fill="#bbbbbb"/>
<circle cx="484.4" cy="675.87" r="4.9" fill="#bbbbbb"/>
<circle cx="485.11" cy="673.98" r="4.9" fill="#bbbbbb"/>
<circle cx="484.64" cy="673.66" r="4.9" fill="#bbbbbb"/>
<circle cx="485.66" cy="673.48" r="4.9" fill="#bbbbbb"/>
<circle cx="485.82" cy="673.47" r="4.9" fill="#bbbbbb"/>
<circle cx="486.47" cy="671.89" r="4.9" fill="#bbbbbb"/>
<circle cx="486.85" cy="671.73" r="4.9" fill="#bbbbbb"/>
<circle cx="487.95" cy="671.33" r="4.9" fill="#bbbbbb"/>
<circle cx="488.24" cy="670.15" r="4.9" fill="#bbbbbb"/>
<circle cx="488.75" cy="669.81" r="4.9" fill="#bbbbbb"/>
<circle cx="488.95" cy="669.59" r="4.9" fill="#bbbbbb"/>
<circle cx="489.55" cy="669.29" r="4.9" fill="#bbbbbb"/>
<circle cx="490.87" cy="667.81" r="4.9" fill="#bbbbbb"/>
<circle cx="491.38" cy="667.56" r="4.9" fill="#bbbbbb"/>
<circle cx="491.67" cy="667.42" r="4.9" fill="#bbbbbb"/>
<circle cx="492.74" cy="667.3" r="4.9" fill="#bbbbbb"/>
<circle cx="493.26" cy="665.65" r="4.9" fill="#bbbbbb"/>
<circle cx="493.52" cy="665.28" r="4.9" fill="#bbbbbb"/>
<circle cx="493.25" cy="665.06" r="4.9" fill="#bbbbbb"/>
<circle cx="494.54" cy="665" r="4.9" fill="#bbbbbb"/>
<circle cx="494.88" cy="664.38" r="4.9" fill="#bbbbbb"/>
<circle cx="495.75" cy="662.63" r="4.9" fill="#bbbbbb"/>
<circle cx="496.64" cy="662.36" r="4.9" fill="#bbbbbb"/>
<circle cx="496.92" cy="661.45" r="4.9" fill="#bbbbbb"/>
<circle cx="496.65" cy="662.25" r="4.9" fill="#bbbbbb"/>
<circle cx="497.27" cy="660.44" r="4.9" fill="#bbbbbb"/>
<circle cx="498.03" cy="659.79" r="4.9" fill="#bbbbbb"/>
<circle cx="499.66" cy="660.66" r="4.9" fill="#bbbbbb"/>
<circle cx="499.95" cy="659.13" r="3.6" fill="#bbbbbb"/>
<circle cx="500.9" cy="658.74" r="3.6" fill="#bbbbbb"/>
<circle cx="500.26" cy="658.47" r="3.6" fill="#bbbbbb"/>
<circle cx="501.19" cy="657.23" r="3.6" fill="#bbbbbb"/>
<circle cx="501.69" cy="656.85" r="3.6" fill="#bbbbbb"/>
<circle cx="502.04" cy="656.64" r="3.6" fill="#bbbbbb"/>
<circle cx="503.71" cy="656.01" r="3.6" fill="#bbbbbb"/>
<circle cx="502.9" cy="655.62" r="3.6" fill="#bbbbbb"/>
<circle cx="503.49" cy="654.73" r="3.6" fill="#bbbbbb"/>
<circle cx="505.41" cy="654.48" r="3.6" fill="#bbbbbb"/>
<circle cx="506.04" cy="654.03" r="5.3" fill="#bbbbbb"/>
<circle cx="505.6" cy="652.49" r="5.3" fill="#bbbbbb"/>
<circle cx="506.45" cy="652.78" r="5.3" fill="#bbbbbb"/>
<circle cx="506.67" cy="651.65" r="5.3" fill="#bbbbbb"/>
<circle cx="508.06" cy="651.11" r="5.3" fill="#bbbbbb"/>
<circle cx="508.39" cy="650.86" r="5.3" fill="#bbbbbb"/>
<circle cx="509.49" cy="649.46" r="5.3" fill="#bbbbbb"/>
<circle cx="508.87" cy="650.1" r="5.3" fill="#bbbbbb"/>
<circle cx="510.21" cy="648.44" r="5.3" fill="#bbbbbb"/>
<circle cx="509.92" cy="648.05" r="5.3" fill="#bbbbbb"/>
<circle cx="511.14" cy="648.59" r="5.3" fill="#bbbbbb"/>
<circle cx="511.19" cy="646.9" r="5.3" fill="#bbbbbb"/>
<circle cx="512.51" cy="646.69" r="5.3" fill="#bbbbbb"/>
<circle cx="513.33" cy="647.04" r="5.3" fill="#bbbbbb"/>
<circle cx="514.05" cy="646.02" r="5.3" fill="#bbbbbb"/>
<circle cx="513.91" cy="644.41" r="5.3" fill="#bbbbbb"/>
<circle cx="514.98" cy="644.38" r="5.3" fill="#bbbbbb"/>
<circle cx="514.99" cy="644.18" r="5.3" fill="#bbbbbb"/>
<circle cx="516.36" cy="643.5" r="5.3" fill="#bbbbbb"/>
<circle cx="516.86" cy="643.58" r="5.3" fill="#bbbbbb"/>
<circle cx="516.76" cy="642.27" r="5.3" fill="#bbbbbb"/>
</g>
<ellipse cx="461.5" cy="697" rx="5.5" ry="8" fill="#c6c6c6" transform="rotate(45 461.5 697)"/>
</g>
<rect x="381.8" y="615" width="162.6" height="162" fill="none" stroke="#000" stroke-width="1.3"/>
<line x1="408.9" y1="777" x2="408.9" y2="774" stroke="#000" stroke-width="1" />
<line x1="436" y1="777" x2="436" y2="774" stroke="#000" stroke-width="1" />
<line x1="463.1" y1="777" x2="463.1" y2="774" stroke="#000" stroke-width="1" />
<line x1="490.2" y1="777" x2="490.2" y2="774" stroke="#000" stroke-width="1" />
<line x1="517.3" y1="777" x2="517.3" y2="774" stroke="#000" stroke-width="1" />
<line x1="395.35" y1="777" x2="395.35" y2="775.3" stroke="#000" stroke-width="1" />
<line x1="422.45" y1="777" x2="422.45" y2="775.3" stroke="#000" stroke-width="1" />
<line x1="449.55" y1="777" x2="449.55" y2="775.3" stroke="#000" stroke-width="1" />
<line x1="476.65" y1="777" x2="476.65" y2="775.3" stroke="#000" stroke-width="1" />
<line x1="503.75" y1="777" x2="503.75" y2="775.3" stroke="#000" stroke-width="1" />
<line x1="530.85" y1="777" x2="530.85" y2="775.3" stroke="#000" stroke-width="1" />
<line x1="381.8" y1="750" x2="384.8" y2="750" stroke="#000" stroke-width="1" />
<line x1="381.8" y1="723" x2="384.8" y2="723" stroke="#000" stroke-width="1" />
<line x1="381.8" y1="696" x2="384.8" y2="696" stroke="#000" stroke-width="1" />
<line x1="381.8" y1="669" x2="384.8" y2="669" stroke="#000" stroke-width="1" />
<line x1="381.8" y1="642" x2="384.8" y2="642" stroke="#000" stroke-width="1" />
<line x1="381.8" y1="763.5" x2="383.5" y2="763.5" stroke="#000" stroke-width="1" />
<line x1="381.8" y1="736.5" x2="383.5" y2="736.5" stroke="#000" stroke-width="1" />
<line x1="381.8" y1="709.5" x2="383.5" y2="709.5" stroke="#000" stroke-width="1" />
<line x1="381.8" y1="682.5" x2="383.5" y2="682.5" stroke="#000" stroke-width="1" />
<line x1="381.8" y1="655.5" x2="383.5" y2="655.5" stroke="#000" stroke-width="1" />
<line x1="381.8" y1="628.5" x2="383.5" y2="628.5" stroke="#000" stroke-width="1" />
<text x="381.8" y="791.4" font-size="12" font-weight="bold" text-anchor="middle" fill="#000" >-3</text>
<text x="408.9" y="791.4" font-size="12" font-weight="bold" text-anchor="middle" fill="#000" >-2</text>
<text x="436" y="791.4" font-size="12" font-weight="bold" text-anchor="middle" fill="#000" >-1</text>
<text x="463.1" y="791.4" font-size="12" font-weight="bold" text-anchor="middle" fill="#000" >0</text>
<text x="490.2" y="791.4" font-size="12" font-weight="bold" text-anchor="middle" fill="#000" >1</text>
<text x="517.3" y="791.4" font-size="12" font-weight="bold" text-anchor="middle" fill="#000" >2</text>
<text x="544.4" y="791.4" font-size="12" font-weight="bold" text-anchor="middle" fill="#000" >3</text>
<text x="377.8" y="781.2" font-size="12" font-weight="bold" text-anchor="end" fill="#000" >-3</text>
<text x="377.8" y="754.2" font-size="12" font-weight="bold" text-anchor="end" fill="#000" >-2</text>
<text x="377.8" y="727.2" font-size="12" font-weight="bold" text-anchor="end" fill="#000" >-1</text>
<text x="377.8" y="700.2" font-size="12" font-weight="bold" text-anchor="end" fill="#000" >0</text>
<text x="377.8" y="673.2" font-size="12" font-weight="bold" text-anchor="end" fill="#000" >1</text>
<text x="377.8" y="646.2" font-size="12" font-weight="bold" text-anchor="end" fill="#000" >2</text>
<text x="377.8" y="619.2" font-size="12" font-weight="bold" text-anchor="end" fill="#000" >3</text>
<text x="392.5" y="629.55" font-size="15" font-weight="bold" text-anchor="start" fill="#000" >g</text>
<text x="388.6" y="644.32" font-size="10.9" font-weight="bold" text-anchor="start" fill="#e8692e" >RMSE (train):</text>
<text x="388.6" y="658.12" font-size="10.9" font-weight="bold" text-anchor="start" fill="#e8692e" >28.2 meV/atom</text>
<text x="388.6" y="671.22" font-size="10.9" font-weight="bold" text-anchor="start" fill="#878787" >RMSE (test):</text>
<text x="388.6" y="683.72" font-size="10.9" font-weight="bold" text-anchor="start" fill="#878787" >27.8 meV/atom</text>
<circle cx="449.4" cy="746.3" r="4.9" fill="#eea27c" fill-opacity="0.9"/>
<circle cx="449.4" cy="763.3" r="4.9" fill="#e8e8e8"/>
<text x="468.8" y="750.99" font-size="13.4" font-weight="bold" text-anchor="start" fill="#000" >virial_train</text>
<text x="468.8" y="767.99" font-size="13.4" font-weight="bold" text-anchor="start" fill="#000" >virial_test</text>
<text x="462.4" y="813.15" font-size="12.7" font-weight="bold" text-anchor="middle" fill="#000" >DFT (eV/atom)</text>
<text transform="translate(362 694.6) rotate(-90)" font-size="12.7" font-weight="bold" text-anchor="middle">NEP (eV/atom)</text>
<line x1="585.9" y1="658.6" x2="586.32" y2="658.6" stroke="#ea8a55" stroke-width="0.9" />
<line x1="585.9" y1="661.15" x2="586.81" y2="661.15" stroke="#ea8a55" stroke-width="0.9" />
<line x1="585.9" y1="663.7" x2="587.73" y2="663.7" stroke="#ea8a55" stroke-width="0.9" />
<line x1="585.9" y1="666.25" x2="589.32" y2="666.25" stroke="#ea8a55" stroke-width="0.9" />
<line x1="585.9" y1="668.8" x2="591.86" y2="668.8" stroke="#ea8a55" stroke-width="0.9" />
<line x1="585.9" y1="671.35" x2="595.64" y2="671.35" stroke="#ea8a55" stroke-width="0.9" />
<line x1="585.9" y1="673.9" x2="600.82" y2="673.9" stroke="#ea8a55" stroke-width="0.9" />
<line x1="585.9" y1="676.45" x2="607.4" y2="676.45" stroke="#ea8a55" stroke-width="0.9" />
<line x1="585.9" y1="679" x2="615.11" y2="679" stroke="#ea8a55" stroke-width="0.9" />
<line x1="585.9" y1="681.55" x2="623.44" y2="681.55" stroke="#ea8a55" stroke-width="0.9" />
<line x1="585.9" y1="684.1" x2="631.69" y2="684.1" stroke="#ea8a55" stroke-width="0.9" />
<line x1="585.9" y1="686.65" x2="639.1" y2="686.65" stroke="#ea8a55" stroke-width="0.9" />
<line x1="585.9" y1="689.2" x2="645.02" y2="689.2" stroke="#ea8a55" stroke-width="0.9" />
<line x1="585.9" y1="691.75" x2="649.06" y2="691.75" stroke="#ea8a55" stroke-width="0.9" />
<line x1="585.9" y1="694.3" x2="651.14" y2="694.3" stroke="#ea8a55" stroke-width="0.9" />
<line x1="585.9" y1="696.85" x2="651.64" y2="696.85" stroke="#ea8a55" stroke-width="0.9" />
<line x1="585.9" y1="699.4" x2="648.38" y2="699.4" stroke="#ea8a55" stroke-width="0.9" />
<line x1="585.9" y1="701.95" x2="642.24" y2="701.95" stroke="#ea8a55" stroke-width="0.9" />
<line x1="585.9" y1="704.5" x2="634.84" y2="704.5" stroke="#ea8a55" stroke-width="0.9" />
<line x1="585.9" y1="707.05" x2="627.08" y2="707.05" stroke="#ea8a55" stroke-width="0.9" />
<line x1="585.9" y1="709.6" x2="619.59" y2="709.6" stroke="#ea8a55" stroke-width="0.9" />
<line x1="585.9" y1="712.15" x2="612.76" y2="712.15" stroke="#ea8a55" stroke-width="0.9" />
<line x1="585.9" y1="714.7" x2="606.81" y2="714.7" stroke="#ea8a55" stroke-width="0.9" />
<line x1="585.9" y1="717.25" x2="601.82" y2="717.25" stroke="#ea8a55" stroke-width="0.9" />
<line x1="585.9" y1="719.8" x2="597.76" y2="719.8" stroke="#ea8a55" stroke-width="0.9" />
<line x1="585.9" y1="722.35" x2="594.56" y2="722.35" stroke="#ea8a55" stroke-width="0.9" />
<line x1="585.9" y1="724.9" x2="592.1" y2="724.9" stroke="#ea8a55" stroke-width="0.9" />
<line x1="585.9" y1="727.45" x2="590.26" y2="727.45" stroke="#ea8a55" stroke-width="0.9" />
<line x1="585.9" y1="730" x2="588.91" y2="730" stroke="#ea8a55" stroke-width="0.9" />
<line x1="585.9" y1="732.55" x2="587.94" y2="732.55" stroke="#ea8a55" stroke-width="0.9" />
<line x1="585.9" y1="735.1" x2="587.26" y2="735.1" stroke="#ea8a55" stroke-width="0.9" />
<line x1="585.9" y1="737.65" x2="586.79" y2="737.65" stroke="#ea8a55" stroke-width="0.9" />
<line x1="585.9" y1="740.2" x2="586.48" y2="740.2" stroke="#ea8a55" stroke-width="0.9" />
<line x1="585.9" y1="742.75" x2="586.27" y2="742.75" stroke="#ea8a55" stroke-width="0.9" />
<polyline points="585.9,635.99 585.9,636.6 585.9,637.2 585.9,637.81 585.9,638.42 585.9,639.03 585.9,639.64 585.9,640.25 585.9,640.86 585.9,641.47 585.9,642.07 585.9,642.68 585.9,643.29 585.9,643.9 585.9,644.51 585.9,645.12 585.9,645.73 585.9,646.33 585.9,646.94 585.91,647.55 585.91,648.16 585.91,648.77 585.91,649.38 585.92,649.99 585.92,650.59 585.93,651.2 585.94,651.81 585.95,652.42 585.96,653.03 585.98,653.64 585.99,654.25 586.02,654.85 586.05,655.46 586.08,656.07 586.12,656.68 586.17,657.29 586.24,657.9 586.31,658.51 586.39,659.12 586.5,659.72 586.62,660.33 586.76,660.94 586.92,661.55 587.11,662.16 587.33,662.77 587.58,663.38 587.86,663.98 588.19,664.59 588.56,665.2 588.98,665.81 589.45,666.42 589.98,667.03 590.56,667.64 591.21,668.24 591.93,668.85 592.72,669.46 593.58,670.07 594.52,670.68 595.53,671.29 596.63,671.9 597.81,672.5 599.07,673.11 600.42,673.72 601.84,674.33 603.35,674.94 604.93,675.55 606.58,676.16 608.3,676.77 610.09,677.37 611.93,677.98 613.82,678.59 615.75,679.2 617.71,679.81 619.7,680.42 621.71,681.03 623.72,681.63 625.72,682.24 627.71,682.85 629.67,683.46 631.59,684.07 633.46,684.68 635.28,685.29 637.03,685.89 638.7,686.5 640.29,687.11 641.79,687.72 643.2,688.33 644.49,688.94 645.68,689.55 646.76,690.16 647.73,690.76 648.58,691.37 649.32,691.98 649.95,692.59 650.47,693.2 650.88,693.81 651.2,694.42 651.42,695.02 651.56,695.63 651.63,696.24 651.64,696.85 651.3,697.46 650.62,698.07 649.71,698.68 648.61,699.28 647.35,699.89 645.96,700.5 644.46,701.11 642.87,701.72 641.2,702.33 639.47,702.94 637.69,703.54 635.88,704.15 634.04,704.76 632.19,705.37 630.33,705.98 628.48,706.59 626.64,707.2 624.81,707.81 623.01,708.41 621.24,709.02 619.5,709.63 617.8,710.24 616.15,710.85 614.54,711.46 612.98,712.07 611.46,712.67 610,713.28 608.6,713.89 607.25,714.5 605.95,715.11 604.71,715.72 603.52,716.33 602.39,716.93 601.31,717.54 600.28,718.15 599.31,718.76 598.39,719.37 597.51,719.98 596.69,720.59 595.91,721.2 595.18,721.8 594.5,722.41 593.85,723.02 593.24,723.63 592.68,724.24 592.15,724.85 591.66,725.46 591.19,726.06 590.77,726.67 590.37,727.28 590,727.89 589.65,728.5 589.33,729.11 589.04,729.72 588.77,730.32 588.52,730.93 588.29,731.54 588.07,732.15 587.88,732.76 587.7,733.37 587.53,733.98 587.38,734.58 587.24,735.19 587.11,735.8 587,736.41 586.89,737.02 586.8,737.63 586.71,738.24 586.63,738.85 586.56,739.45 586.49,740.06 586.43,740.67 586.38,741.28 586.33,741.89 586.28,742.5 586.24,743.11 586.21,743.71 586.17,744.32 586.15,744.93 586.12,745.54 586.1,746.15 586.07,746.76 586.05,747.37 586.04,747.97 586.02,748.58 586.01,749.19 586,749.8 585.99,750.41 585.98,751.02 585.97,751.63 585.96,752.23 585.95,752.84 585.95,753.45 585.94,754.06 585.94,754.67 585.93,755.28 585.93,755.89 585.92,756.5 585.92,757.1 585.92,757.71" fill="none" stroke="#a8a8a8" stroke-width="1.2" stroke-linejoin="round" />
<polyline points="585.9,635.99 585.9,636.6 585.9,637.2 585.9,637.81 585.9,638.42 585.9,639.03 585.9,639.64 585.9,640.25 585.9,640.86 585.9,641.47 585.9,642.07 585.9,642.68 585.9,643.29 585.9,643.9 585.9,644.51 585.9,645.12 585.9,645.73 585.9,646.33 585.9,646.94 585.91,647.55 585.91,648.16 585.91,648.77 585.91,649.38 585.92,649.99 585.92,650.59 585.93,651.2 585.94,651.81 585.95,652.42 585.96,653.03 585.98,653.64 585.99,654.25 586.02,654.85 586.05,655.46 586.08,656.07 586.12,656.68 586.17,657.29 586.24,657.9 586.31,658.51 586.39,659.12 586.5,659.72 586.62,660.33 586.76,660.94 586.92,661.55 587.11,662.16 587.33,662.77 587.58,663.38 587.86,663.98 588.19,664.59 588.56,665.2 588.98,665.81 589.45,666.42 589.98,667.03 590.56,667.64 591.21,668.24 591.93,668.85 592.72,669.46 593.58,670.07 594.52,670.68 595.53,671.29 596.63,671.9 597.81,672.5 599.07,673.11 600.42,673.72 601.84,674.33 603.35,674.94 604.93,675.55 606.58,676.16 608.3,676.77 610.09,677.37 611.93,677.98 613.82,678.59 615.75,679.2 617.71,679.81 619.7,680.42 621.71,681.03 623.72,681.63 625.72,682.24 627.71,682.85 629.67,683.46 631.59,684.07 633.46,684.68 635.28,685.29 637.03,685.89 638.7,686.5 640.29,687.11 641.79,687.72 643.2,688.33 644.49,688.94 645.68,689.55 646.76,690.16 647.73,690.76 648.58,691.37 649.32,691.98 649.95,692.59 650.47,693.2 650.88,693.81 651.2,694.42 651.42,695.02 651.56,695.63 651.63,696.24 651.64,696.85 651.3,697.46 650.62,698.07 649.71,698.68 648.61,699.28 647.35,699.89 645.96,700.5 644.46,701.11 642.87,701.72 641.2,702.33 639.47,702.94 637.69,703.54 635.88,704.15 634.04,704.76 632.19,705.37 630.33,705.98 628.48,706.59 626.64,707.2 624.81,707.81 623.01,708.41 621.24,709.02 619.5,709.63 617.8,710.24 616.15,710.85 614.54,711.46 612.98,712.07 611.46,712.67 610,713.28 608.6,713.89 607.25,714.5 605.95,715.11 604.71,715.72 603.52,716.33 602.39,716.93 601.31,717.54 600.28,718.15 599.31,718.76 598.39,719.37 597.51,719.98 596.69,720.59 595.91,721.2 595.18,721.8 594.5,722.41 593.85,723.02 593.24,723.63 592.68,724.24 592.15,724.85 591.66,725.46 591.19,726.06 590.77,726.67 590.37,727.28 590,727.89 589.65,728.5 589.33,729.11 589.04,729.72 588.77,730.32 588.52,730.93 588.29,731.54 588.07,732.15 587.88,732.76 587.7,733.37 587.53,733.98 587.38,734.58 587.24,735.19 587.11,735.8 587,736.41 586.89,737.02 586.8,737.63 586.71,738.24 586.63,738.85 586.56,739.45 586.49,740.06 586.43,740.67 586.38,741.28 586.33,741.89 586.28,742.5 586.24,743.11 586.21,743.71 586.17,744.32 586.15,744.93 586.12,745.54 586.1,746.15 586.07,746.76 586.05,747.37 586.04,747.97 586.02,748.58 586.01,749.19 586,749.8 585.99,750.41 585.98,751.02 585.97,751.63 585.96,752.23 585.95,752.84 585.95,753.45 585.94,754.06 585.94,754.67 585.93,755.28 585.93,755.89 585.92,756.5 585.92,757.1 585.92,757.71" fill="none" stroke="#e8692e" stroke-width="1.4" stroke-linejoin="round" stroke-dasharray="4 3"/>
<rect x="585.9" y="615.7" width="80.5" height="162.3" fill="none" stroke="#000" stroke-width="1.3"/>
<line x1="599.32" y1="778" x2="599.32" y2="775" stroke="#000" stroke-width="1" />
<line x1="612.73" y1="778" x2="612.73" y2="775" stroke="#000" stroke-width="1" />
<line x1="626.15" y1="778" x2="626.15" y2="775" stroke="#000" stroke-width="1" />
<line x1="639.57" y1="778" x2="639.57" y2="775" stroke="#000" stroke-width="1" />
<line x1="652.98" y1="778" x2="652.98" y2="775" stroke="#000" stroke-width="1" />
<line x1="592.61" y1="778" x2="592.61" y2="776.3" stroke="#000" stroke-width="1" />
<line x1="606.02" y1="778" x2="606.02" y2="776.3" stroke="#000" stroke-width="1" />
<line x1="619.44" y1="778" x2="619.44" y2="776.3" stroke="#000" stroke-width="1" />
<line x1="632.86" y1="778" x2="632.86" y2="776.3" stroke="#000" stroke-width="1" />
<line x1="646.27" y1="778" x2="646.27" y2="776.3" stroke="#000" stroke-width="1" />
<line x1="659.69" y1="778" x2="659.69" y2="776.3" stroke="#000" stroke-width="1" />
<line x1="585.9" y1="642.75" x2="588.9" y2="642.75" stroke="#000" stroke-width="1" />
<line x1="585.9" y1="669.8" x2="588.9" y2="669.8" stroke="#000" stroke-width="1" />
<line x1="585.9" y1="696.85" x2="588.9" y2="696.85" stroke="#000" stroke-width="1" />
<line x1="585.9" y1="723.9" x2="588.9" y2="723.9" stroke="#000" stroke-width="1" />
<line x1="585.9" y1="750.95" x2="588.9" y2="750.95" stroke="#000" stroke-width="1" />
<line x1="585.9" y1="629.23" x2="587.6" y2="629.23" stroke="#000" stroke-width="1" />
<line x1="585.9" y1="656.28" x2="587.6" y2="656.28" stroke="#000" stroke-width="1" />
<line x1="585.9" y1="683.33" x2="587.6" y2="683.33" stroke="#000" stroke-width="1" />
<line x1="585.9" y1="710.38" x2="587.6" y2="710.38" stroke="#000" stroke-width="1" />
<line x1="585.9" y1="737.42" x2="587.6" y2="737.42" stroke="#000" stroke-width="1" />
<line x1="585.9" y1="764.48" x2="587.6" y2="764.48" stroke="#000" stroke-width="1" />
<text x="581.6" y="619.9" font-size="12" font-weight="bold" text-anchor="end" fill="#000" >0.3</text>
<text x="581.6" y="646.95" font-size="12" font-weight="bold" text-anchor="end" fill="#000" >0.2</text>
<text x="581.6" y="674" font-size="12" font-weight="bold" text-anchor="end" fill="#000" >0.1</text>
<text x="581.6" y="701.05" font-size="12" font-weight="bold" text-anchor="end" fill="#000" >0.0</text>
<text x="581.6" y="728.1" font-size="12" font-weight="bold" text-anchor="end" fill="#000" >-0.1</text>
<text x="581.6" y="755.15" font-size="12" font-weight="bold" text-anchor="end" fill="#000" >-0.2</text>
<text x="581.6" y="782.2" font-size="12" font-weight="bold" text-anchor="end" fill="#000" >-0.3</text>
<text x="585.9" y="791.8" font-size="12" font-weight="bold" text-anchor="middle" fill="#000" >0</text>
<text x="599.32" y="791.8" font-size="12" font-weight="bold" text-anchor="middle" fill="#000" >2</text>
<text x="612.73" y="791.8" font-size="12" font-weight="bold" text-anchor="middle" fill="#000" >4</text>
<text x="626.15" y="791.8" font-size="12" font-weight="bold" text-anchor="middle" fill="#000" >6</text>
<text x="639.57" y="791.8" font-size="12" font-weight="bold" text-anchor="middle" fill="#000" >8</text>
<text x="652.98" y="791.8" font-size="12" font-weight="bold" text-anchor="middle" fill="#000" >10</text>
<text x="666.4" y="791.8" font-size="12" font-weight="bold" text-anchor="middle" fill="#000" >12</text>
<text x="595.4" y="629.8" font-size="15" font-weight="bold" text-anchor="start" fill="#000" >h</text>
<text x="594.3" y="743.7" font-size="10.6" font-weight="bold" fill="#e8692e">R<tspan font-size="7" dy="-4">2</tspan><tspan font-size="7" dy="6">train</tspan><tspan dy="-2">:&#160;&#160;0.96</tspan></text>
<text x="594.3" y="756.8" font-size="10.6" font-weight="bold" fill="#878787">R<tspan font-size="7" dy="-4">2</tspan><tspan font-size="7" dy="6">test</tspan><tspan dy="-2">&#160;&#160;: 0.96</tspan></text>
<text transform="translate(556.3 689.85) rotate(-90)" font-size="12.5" font-weight="bold" text-anchor="middle">Virial error (eV/atom)</text>
<text x="626.4" y="812.44" font-size="12.4" font-weight="bold" text-anchor="middle" fill="#000" >Probability density</text>
</svg></body></html>
